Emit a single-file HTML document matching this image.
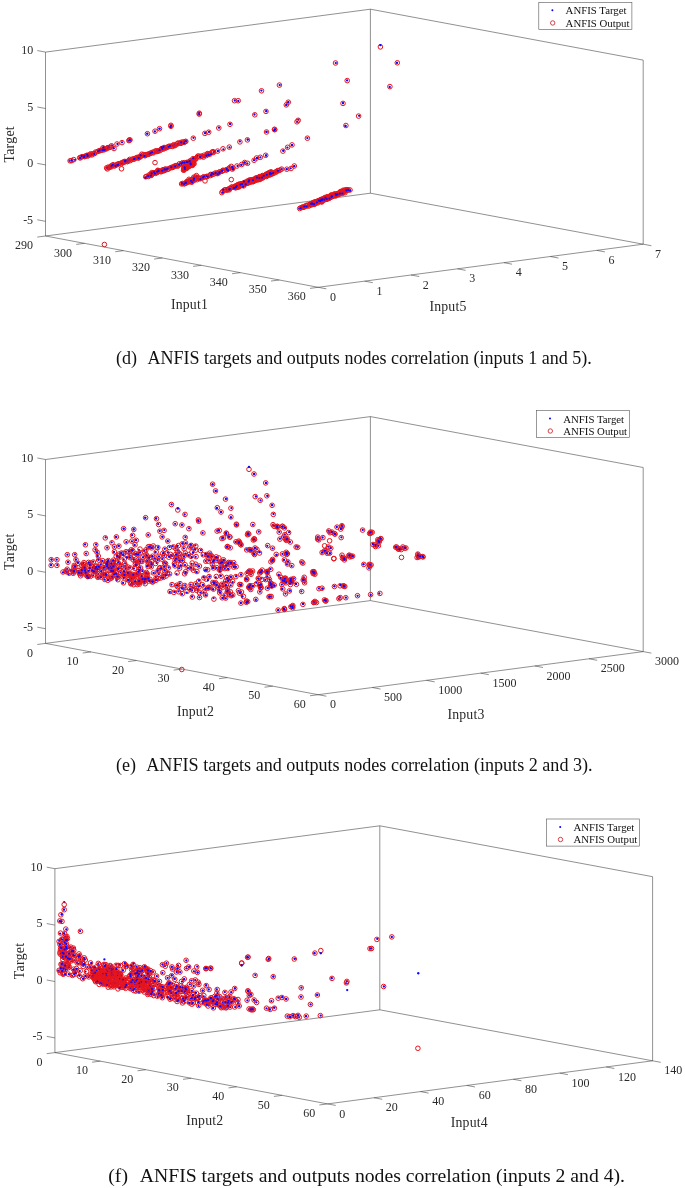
<!DOCTYPE html>
<html><head><meta charset="utf-8"><title>ANFIS targets and outputs nodes correlation</title>
<style>html,body{margin:0;padding:0;background:#fff}body{width:685px;height:1188px;overflow:hidden}svg{display:block}</style>
</head><body>
<svg width="685" height="1188" viewBox="0 0 685 1188">
<rect width="685" height="1188" fill="#fff"/>
<g stroke="#3a3a3a" stroke-width="0.56" fill="none">
<line x1="45.50" y1="52.10" x2="45.50" y2="236.00"/>
<line x1="45.50" y1="52.10" x2="370.40" y2="9.20"/>
<line x1="370.40" y1="9.20" x2="370.40" y2="193.20"/>
<line x1="370.40" y1="9.20" x2="643.20" y2="60.10"/>
<line x1="643.20" y1="60.10" x2="643.20" y2="244.20"/>
<line x1="45.50" y1="236.00" x2="370.40" y2="193.20"/>
<line x1="370.40" y1="193.20" x2="643.20" y2="244.20"/>
<line x1="45.50" y1="236.00" x2="318.20" y2="287.30"/>
<line x1="318.20" y1="287.30" x2="643.20" y2="244.20"/>
<line x1="45.50" y1="52.10" x2="37.34" y2="50.57"/>
<line x1="45.50" y1="108.50" x2="37.34" y2="106.97"/>
<line x1="45.50" y1="164.90" x2="37.34" y2="163.37"/>
<line x1="45.50" y1="221.30" x2="37.34" y2="219.77"/>
<line x1="45.50" y1="236.00" x2="37.27" y2="237.08"/>
<line x1="84.46" y1="243.33" x2="76.23" y2="244.41"/>
<line x1="123.41" y1="250.66" x2="115.19" y2="251.74"/>
<line x1="162.37" y1="257.99" x2="154.14" y2="259.07"/>
<line x1="201.33" y1="265.31" x2="193.10" y2="266.40"/>
<line x1="240.29" y1="272.64" x2="232.06" y2="273.73"/>
<line x1="279.24" y1="279.97" x2="271.01" y2="281.06"/>
<line x1="318.20" y1="287.30" x2="309.97" y2="288.38"/>
<line x1="318.20" y1="287.30" x2="326.36" y2="288.83"/>
<line x1="364.63" y1="281.14" x2="372.79" y2="282.68"/>
<line x1="411.06" y1="274.99" x2="419.21" y2="276.52"/>
<line x1="457.49" y1="268.83" x2="465.64" y2="270.36"/>
<line x1="503.91" y1="262.67" x2="512.07" y2="264.21"/>
<line x1="550.34" y1="256.51" x2="558.50" y2="258.05"/>
<line x1="596.77" y1="250.36" x2="604.93" y2="251.89"/>
<line x1="643.20" y1="244.20" x2="651.36" y2="245.73"/>
</g>
<g font-family="'Liberation Serif', serif" font-size="12" fill="#2a2a2a">
<text x="33.14" y="54.47" text-anchor="end">10</text>
<text x="33.14" y="110.87" text-anchor="end">5</text>
<text x="33.14" y="167.27" text-anchor="end">0</text>
<text x="33.14" y="223.67" text-anchor="end">-5</text>
<text x="33.07" y="249.18" text-anchor="end">290</text>
<text x="72.03" y="256.51" text-anchor="end">300</text>
<text x="110.99" y="263.84" text-anchor="end">310</text>
<text x="149.94" y="271.17" text-anchor="end">320</text>
<text x="188.90" y="278.50" text-anchor="end">330</text>
<text x="227.86" y="285.83" text-anchor="end">340</text>
<text x="266.81" y="293.16" text-anchor="end">350</text>
<text x="305.77" y="300.48" text-anchor="end">360</text>
<text x="329.96" y="300.93" text-anchor="start">0</text>
<text x="376.39" y="294.78" text-anchor="start">1</text>
<text x="422.81" y="288.62" text-anchor="start">2</text>
<text x="469.24" y="282.46" text-anchor="start">3</text>
<text x="515.67" y="276.31" text-anchor="start">4</text>
<text x="562.10" y="270.15" text-anchor="start">5</text>
<text x="608.53" y="263.99" text-anchor="start">6</text>
<text x="654.96" y="257.83" text-anchor="start">7</text>
<text x="189.50" y="308.70" text-anchor="middle" font-size="13.8" letter-spacing="0.15">Input1</text>
<text x="448.00" y="311.20" text-anchor="middle" font-size="13.8" letter-spacing="0.15">Input5</text>
<text transform="translate(14.40,144.30) rotate(-90)" text-anchor="middle" font-size="13.8" letter-spacing="0.3">Target</text>
</g>
<rect x="538.80" y="2.45" width="93.1" height="27.1" fill="#fff" stroke="#555" stroke-width="0.6"/>
<circle cx="552.40" cy="10.35" r="1.0" fill="#0000ff"/>
<circle cx="552.70" cy="22.95" r="2.2" fill="none" stroke="#c8242b" stroke-width="0.85"/>
<g font-family="'Liberation Serif', serif" font-size="10.8" fill="#111">
<text x="565.60" y="14.45">ANFIS Target</text>
<text x="565.60" y="26.75">ANFIS Output</text>
</g>
<g fill="#0a0aff">
<circle cx="69.5" cy="161.0" r="1.15"/>
<circle cx="71.7" cy="160.4" r="1.15"/>
<circle cx="75.1" cy="159.9" r="1.15"/>
<circle cx="80.3" cy="157.8" r="1.15"/>
<circle cx="80.0" cy="157.9" r="1.15"/>
<circle cx="81.7" cy="156.1" r="1.15"/>
<circle cx="84.4" cy="156.0" r="1.15"/>
<circle cx="84.0" cy="157.2" r="1.15"/>
<circle cx="86.8" cy="156.6" r="1.15"/>
<circle cx="87.2" cy="154.5" r="1.15"/>
<circle cx="87.7" cy="155.9" r="1.15"/>
<circle cx="90.0" cy="155.5" r="1.15"/>
<circle cx="90.5" cy="153.6" r="1.15"/>
<circle cx="92.0" cy="154.5" r="1.15"/>
<circle cx="92.7" cy="153.6" r="1.15"/>
<circle cx="94.3" cy="153.9" r="1.15"/>
<circle cx="95.1" cy="151.8" r="1.15"/>
<circle cx="97.9" cy="151.3" r="1.15"/>
<circle cx="99.6" cy="151.5" r="1.15"/>
<circle cx="99.6" cy="150.3" r="1.15"/>
<circle cx="100.7" cy="150.1" r="1.15"/>
<circle cx="102.5" cy="149.9" r="1.15"/>
<circle cx="103.8" cy="149.9" r="1.15"/>
<circle cx="104.7" cy="149.8" r="1.15"/>
<circle cx="107.6" cy="148.0" r="1.15"/>
<circle cx="107.8" cy="147.9" r="1.15"/>
<circle cx="108.8" cy="147.1" r="1.15"/>
<circle cx="109.2" cy="147.0" r="1.15"/>
<circle cx="111.9" cy="145.5" r="1.15"/>
<circle cx="103.4" cy="147.5" r="1.15"/>
<circle cx="108.2" cy="147.4" r="1.15"/>
<circle cx="113.7" cy="148.3" r="1.15"/>
<circle cx="117.5" cy="144.0" r="1.15"/>
<circle cx="122.0" cy="142.3" r="1.15"/>
<circle cx="129.7" cy="140.2" r="1.15"/>
<circle cx="128.7" cy="140.6" r="1.15"/>
<circle cx="107.1" cy="167.9" r="1.15"/>
<circle cx="107.1" cy="168.5" r="1.15"/>
<circle cx="107.4" cy="167.5" r="1.15"/>
<circle cx="109.6" cy="167.6" r="1.15"/>
<circle cx="111.6" cy="165.7" r="1.15"/>
<circle cx="111.0" cy="167.1" r="1.15"/>
<circle cx="112.8" cy="164.7" r="1.15"/>
<circle cx="114.3" cy="165.5" r="1.15"/>
<circle cx="115.6" cy="166.0" r="1.15"/>
<circle cx="115.3" cy="165.4" r="1.15"/>
<circle cx="118.0" cy="164.7" r="1.15"/>
<circle cx="117.4" cy="164.8" r="1.15"/>
<circle cx="119.1" cy="163.1" r="1.15"/>
<circle cx="121.3" cy="163.6" r="1.15"/>
<circle cx="120.8" cy="162.3" r="1.15"/>
<circle cx="122.8" cy="163.4" r="1.15"/>
<circle cx="124.8" cy="161.0" r="1.15"/>
<circle cx="125.6" cy="160.9" r="1.15"/>
<circle cx="125.0" cy="161.4" r="1.15"/>
<circle cx="127.8" cy="161.9" r="1.15"/>
<circle cx="127.5" cy="160.6" r="1.15"/>
<circle cx="129.0" cy="160.6" r="1.15"/>
<circle cx="128.8" cy="159.3" r="1.15"/>
<circle cx="130.8" cy="160.3" r="1.15"/>
<circle cx="132.5" cy="159.7" r="1.15"/>
<circle cx="133.6" cy="159.2" r="1.15"/>
<circle cx="134.5" cy="158.9" r="1.15"/>
<circle cx="135.8" cy="158.0" r="1.15"/>
<circle cx="136.9" cy="157.7" r="1.15"/>
<circle cx="138.7" cy="158.1" r="1.15"/>
<circle cx="138.5" cy="157.4" r="1.15"/>
<circle cx="139.3" cy="157.5" r="1.15"/>
<circle cx="140.5" cy="157.1" r="1.15"/>
<circle cx="140.7" cy="155.2" r="1.15"/>
<circle cx="143.2" cy="155.0" r="1.15"/>
<circle cx="144.5" cy="155.7" r="1.15"/>
<circle cx="144.5" cy="156.1" r="1.15"/>
<circle cx="146.3" cy="155.3" r="1.15"/>
<circle cx="148.0" cy="154.0" r="1.15"/>
<circle cx="148.7" cy="154.3" r="1.15"/>
<circle cx="149.8" cy="154.7" r="1.15"/>
<circle cx="151.5" cy="153.0" r="1.15"/>
<circle cx="150.4" cy="153.3" r="1.15"/>
<circle cx="152.1" cy="152.3" r="1.15"/>
<circle cx="154.6" cy="152.9" r="1.15"/>
<circle cx="154.7" cy="151.5" r="1.15"/>
<circle cx="157.1" cy="150.4" r="1.15"/>
<circle cx="157.3" cy="151.0" r="1.15"/>
<circle cx="158.3" cy="151.2" r="1.15"/>
<circle cx="158.0" cy="150.8" r="1.15"/>
<circle cx="159.5" cy="150.3" r="1.15"/>
<circle cx="161.6" cy="147.3" r="1.15"/>
<circle cx="162.3" cy="148.8" r="1.15"/>
<circle cx="163.9" cy="148.8" r="1.15"/>
<circle cx="163.5" cy="146.9" r="1.15"/>
<circle cx="165.9" cy="147.8" r="1.15"/>
<circle cx="167.0" cy="148.3" r="1.15"/>
<circle cx="167.3" cy="147.8" r="1.15"/>
<circle cx="168.8" cy="146.7" r="1.15"/>
<circle cx="170.1" cy="145.7" r="1.15"/>
<circle cx="172.0" cy="145.7" r="1.15"/>
<circle cx="173.2" cy="146.1" r="1.15"/>
<circle cx="174.2" cy="145.2" r="1.15"/>
<circle cx="174.5" cy="145.9" r="1.15"/>
<circle cx="174.4" cy="146.0" r="1.15"/>
<circle cx="177.3" cy="144.3" r="1.15"/>
<circle cx="177.4" cy="144.4" r="1.15"/>
<circle cx="178.4" cy="143.4" r="1.15"/>
<circle cx="180.4" cy="143.3" r="1.15"/>
<circle cx="181.2" cy="143.5" r="1.15"/>
<circle cx="181.2" cy="142.3" r="1.15"/>
<circle cx="183.7" cy="142.6" r="1.15"/>
<circle cx="184.1" cy="143.3" r="1.15"/>
<circle cx="184.5" cy="141.2" r="1.15"/>
<circle cx="185.9" cy="141.2" r="1.15"/>
<circle cx="145.4" cy="177.7" r="1.15"/>
<circle cx="146.6" cy="177.0" r="1.15"/>
<circle cx="148.2" cy="176.0" r="1.15"/>
<circle cx="150.2" cy="174.5" r="1.15"/>
<circle cx="150.0" cy="176.2" r="1.15"/>
<circle cx="151.0" cy="175.6" r="1.15"/>
<circle cx="151.2" cy="173.7" r="1.15"/>
<circle cx="153.8" cy="172.9" r="1.15"/>
<circle cx="154.1" cy="172.0" r="1.15"/>
<circle cx="157.2" cy="173.1" r="1.15"/>
<circle cx="157.0" cy="171.8" r="1.15"/>
<circle cx="158.5" cy="171.1" r="1.15"/>
<circle cx="159.5" cy="170.7" r="1.15"/>
<circle cx="160.5" cy="170.9" r="1.15"/>
<circle cx="162.7" cy="169.3" r="1.15"/>
<circle cx="163.9" cy="171.3" r="1.15"/>
<circle cx="164.0" cy="170.7" r="1.15"/>
<circle cx="164.5" cy="169.4" r="1.15"/>
<circle cx="166.0" cy="169.5" r="1.15"/>
<circle cx="167.4" cy="168.7" r="1.15"/>
<circle cx="168.7" cy="168.5" r="1.15"/>
<circle cx="171.2" cy="167.2" r="1.15"/>
<circle cx="171.8" cy="167.5" r="1.15"/>
<circle cx="172.2" cy="167.4" r="1.15"/>
<circle cx="173.3" cy="166.8" r="1.15"/>
<circle cx="175.1" cy="166.4" r="1.15"/>
<circle cx="176.3" cy="165.6" r="1.15"/>
<circle cx="177.1" cy="164.7" r="1.15"/>
<circle cx="178.2" cy="166.5" r="1.15"/>
<circle cx="179.1" cy="164.6" r="1.15"/>
<circle cx="181.6" cy="165.2" r="1.15"/>
<circle cx="181.3" cy="163.6" r="1.15"/>
<circle cx="182.6" cy="162.6" r="1.15"/>
<circle cx="184.4" cy="162.6" r="1.15"/>
<circle cx="185.3" cy="163.2" r="1.15"/>
<circle cx="186.6" cy="163.2" r="1.15"/>
<circle cx="186.8" cy="161.9" r="1.15"/>
<circle cx="187.7" cy="162.1" r="1.15"/>
<circle cx="190.8" cy="161.3" r="1.15"/>
<circle cx="189.8" cy="161.1" r="1.15"/>
<circle cx="192.8" cy="161.1" r="1.15"/>
<circle cx="193.1" cy="158.3" r="1.15"/>
<circle cx="194.1" cy="157.9" r="1.15"/>
<circle cx="195.4" cy="159.0" r="1.15"/>
<circle cx="196.1" cy="158.1" r="1.15"/>
<circle cx="197.0" cy="156.6" r="1.15"/>
<circle cx="197.5" cy="155.8" r="1.15"/>
<circle cx="200.2" cy="157.1" r="1.15"/>
<circle cx="201.6" cy="155.9" r="1.15"/>
<circle cx="202.6" cy="156.0" r="1.15"/>
<circle cx="204.4" cy="157.0" r="1.15"/>
<circle cx="204.6" cy="154.9" r="1.15"/>
<circle cx="206.4" cy="155.6" r="1.15"/>
<circle cx="207.6" cy="154.7" r="1.15"/>
<circle cx="207.8" cy="153.6" r="1.15"/>
<circle cx="208.8" cy="154.9" r="1.15"/>
<circle cx="211.0" cy="154.2" r="1.15"/>
<circle cx="211.2" cy="152.6" r="1.15"/>
<circle cx="213.9" cy="151.6" r="1.15"/>
<circle cx="213.9" cy="152.0" r="1.15"/>
<circle cx="151.8" cy="174.0" r="1.15"/>
<circle cx="151.7" cy="173.2" r="1.15"/>
<circle cx="152.5" cy="173.8" r="1.15"/>
<circle cx="155.0" cy="173.6" r="1.15"/>
<circle cx="158.4" cy="171.1" r="1.15"/>
<circle cx="158.0" cy="170.2" r="1.15"/>
<circle cx="158.4" cy="170.6" r="1.15"/>
<circle cx="162.2" cy="170.8" r="1.15"/>
<circle cx="163.3" cy="169.6" r="1.15"/>
<circle cx="165.6" cy="169.3" r="1.15"/>
<circle cx="183.2" cy="170.6" r="1.15"/>
<circle cx="183.6" cy="168.0" r="1.15"/>
<circle cx="183.7" cy="170.2" r="1.15"/>
<circle cx="184.9" cy="169.0" r="1.15"/>
<circle cx="183.9" cy="169.8" r="1.15"/>
<circle cx="184.0" cy="166.0" r="1.15"/>
<circle cx="184.0" cy="169.6" r="1.15"/>
<circle cx="184.7" cy="167.4" r="1.15"/>
<circle cx="185.1" cy="168.0" r="1.15"/>
<circle cx="185.1" cy="168.0" r="1.15"/>
<circle cx="186.2" cy="166.9" r="1.15"/>
<circle cx="185.8" cy="167.9" r="1.15"/>
<circle cx="186.0" cy="166.2" r="1.15"/>
<circle cx="187.2" cy="168.9" r="1.15"/>
<circle cx="186.8" cy="164.6" r="1.15"/>
<circle cx="186.9" cy="166.2" r="1.15"/>
<circle cx="187.3" cy="166.1" r="1.15"/>
<circle cx="187.0" cy="166.5" r="1.15"/>
<circle cx="186.7" cy="166.0" r="1.15"/>
<circle cx="187.0" cy="167.4" r="1.15"/>
<circle cx="188.0" cy="165.8" r="1.15"/>
<circle cx="188.0" cy="165.7" r="1.15"/>
<circle cx="189.3" cy="164.5" r="1.15"/>
<circle cx="188.8" cy="166.4" r="1.15"/>
<circle cx="188.9" cy="166.6" r="1.15"/>
<circle cx="189.2" cy="165.3" r="1.15"/>
<circle cx="189.2" cy="166.1" r="1.15"/>
<circle cx="189.4" cy="166.2" r="1.15"/>
<circle cx="188.7" cy="164.0" r="1.15"/>
<circle cx="190.1" cy="164.5" r="1.15"/>
<circle cx="190.1" cy="165.6" r="1.15"/>
<circle cx="190.5" cy="163.3" r="1.15"/>
<circle cx="191.0" cy="165.1" r="1.15"/>
<circle cx="191.8" cy="164.2" r="1.15"/>
<circle cx="190.8" cy="164.5" r="1.15"/>
<circle cx="191.8" cy="164.2" r="1.15"/>
<circle cx="192.4" cy="164.5" r="1.15"/>
<circle cx="192.1" cy="164.4" r="1.15"/>
<circle cx="192.3" cy="165.1" r="1.15"/>
<circle cx="191.7" cy="163.4" r="1.15"/>
<circle cx="192.8" cy="164.2" r="1.15"/>
<circle cx="193.4" cy="161.6" r="1.15"/>
<circle cx="194.0" cy="161.7" r="1.15"/>
<circle cx="194.0" cy="163.8" r="1.15"/>
<circle cx="193.7" cy="163.5" r="1.15"/>
<circle cx="182.0" cy="184.2" r="1.15"/>
<circle cx="181.9" cy="183.2" r="1.15"/>
<circle cx="184.4" cy="183.6" r="1.15"/>
<circle cx="185.9" cy="183.1" r="1.15"/>
<circle cx="187.5" cy="181.8" r="1.15"/>
<circle cx="188.1" cy="181.3" r="1.15"/>
<circle cx="189.6" cy="181.3" r="1.15"/>
<circle cx="191.6" cy="182.0" r="1.15"/>
<circle cx="192.1" cy="182.4" r="1.15"/>
<circle cx="193.7" cy="180.1" r="1.15"/>
<circle cx="194.6" cy="178.8" r="1.15"/>
<circle cx="197.4" cy="179.4" r="1.15"/>
<circle cx="198.0" cy="177.3" r="1.15"/>
<circle cx="198.8" cy="179.2" r="1.15"/>
<circle cx="200.5" cy="179.3" r="1.15"/>
<circle cx="201.3" cy="177.8" r="1.15"/>
<circle cx="204.0" cy="176.5" r="1.15"/>
<circle cx="203.0" cy="177.4" r="1.15"/>
<circle cx="206.0" cy="175.9" r="1.15"/>
<circle cx="206.1" cy="175.8" r="1.15"/>
<circle cx="207.6" cy="176.7" r="1.15"/>
<circle cx="211.1" cy="175.1" r="1.15"/>
<circle cx="210.8" cy="175.5" r="1.15"/>
<circle cx="211.9" cy="173.0" r="1.15"/>
<circle cx="213.3" cy="174.1" r="1.15"/>
<circle cx="215.0" cy="173.3" r="1.15"/>
<circle cx="215.7" cy="173.1" r="1.15"/>
<circle cx="217.7" cy="174.2" r="1.15"/>
<circle cx="219.5" cy="172.9" r="1.15"/>
<circle cx="219.6" cy="172.1" r="1.15"/>
<circle cx="222.2" cy="171.9" r="1.15"/>
<circle cx="221.9" cy="170.9" r="1.15"/>
<circle cx="222.9" cy="170.1" r="1.15"/>
<circle cx="226.7" cy="169.1" r="1.15"/>
<circle cx="226.7" cy="170.2" r="1.15"/>
<circle cx="228.1" cy="170.4" r="1.15"/>
<circle cx="229.6" cy="167.2" r="1.15"/>
<circle cx="232.2" cy="167.1" r="1.15"/>
<circle cx="232.9" cy="169.2" r="1.15"/>
<circle cx="233.1" cy="167.7" r="1.15"/>
<circle cx="184.1" cy="184.1" r="1.15"/>
<circle cx="185.5" cy="182.6" r="1.15"/>
<circle cx="186.7" cy="181.6" r="1.15"/>
<circle cx="188.0" cy="181.5" r="1.15"/>
<circle cx="189.6" cy="179.3" r="1.15"/>
<circle cx="189.5" cy="180.9" r="1.15"/>
<circle cx="191.0" cy="180.8" r="1.15"/>
<circle cx="192.4" cy="180.5" r="1.15"/>
<circle cx="193.6" cy="177.0" r="1.15"/>
<circle cx="194.0" cy="178.6" r="1.15"/>
<circle cx="196.4" cy="177.0" r="1.15"/>
<circle cx="196.7" cy="176.1" r="1.15"/>
<circle cx="222.3" cy="192.5" r="1.15"/>
<circle cx="222.9" cy="192.4" r="1.15"/>
<circle cx="223.3" cy="189.6" r="1.15"/>
<circle cx="225.9" cy="189.3" r="1.15"/>
<circle cx="227.0" cy="190.1" r="1.15"/>
<circle cx="228.2" cy="188.5" r="1.15"/>
<circle cx="229.8" cy="188.8" r="1.15"/>
<circle cx="229.4" cy="189.6" r="1.15"/>
<circle cx="231.7" cy="187.4" r="1.15"/>
<circle cx="231.8" cy="186.6" r="1.15"/>
<circle cx="233.8" cy="187.9" r="1.15"/>
<circle cx="235.7" cy="186.9" r="1.15"/>
<circle cx="236.0" cy="187.1" r="1.15"/>
<circle cx="237.7" cy="185.0" r="1.15"/>
<circle cx="238.3" cy="184.6" r="1.15"/>
<circle cx="240.1" cy="184.4" r="1.15"/>
<circle cx="241.5" cy="183.6" r="1.15"/>
<circle cx="242.1" cy="184.1" r="1.15"/>
<circle cx="243.8" cy="184.1" r="1.15"/>
<circle cx="245.7" cy="184.4" r="1.15"/>
<circle cx="246.0" cy="183.1" r="1.15"/>
<circle cx="246.5" cy="182.6" r="1.15"/>
<circle cx="248.4" cy="182.7" r="1.15"/>
<circle cx="249.1" cy="182.5" r="1.15"/>
<circle cx="251.7" cy="180.9" r="1.15"/>
<circle cx="252.0" cy="180.4" r="1.15"/>
<circle cx="253.0" cy="180.2" r="1.15"/>
<circle cx="254.6" cy="179.0" r="1.15"/>
<circle cx="255.7" cy="178.0" r="1.15"/>
<circle cx="256.9" cy="177.6" r="1.15"/>
<circle cx="258.2" cy="177.6" r="1.15"/>
<circle cx="259.3" cy="178.0" r="1.15"/>
<circle cx="261.3" cy="177.8" r="1.15"/>
<circle cx="262.1" cy="177.6" r="1.15"/>
<circle cx="262.6" cy="175.3" r="1.15"/>
<circle cx="264.7" cy="175.1" r="1.15"/>
<circle cx="265.3" cy="175.8" r="1.15"/>
<circle cx="266.8" cy="174.8" r="1.15"/>
<circle cx="267.0" cy="174.4" r="1.15"/>
<circle cx="269.8" cy="173.2" r="1.15"/>
<circle cx="270.1" cy="174.2" r="1.15"/>
<circle cx="271.5" cy="173.0" r="1.15"/>
<circle cx="273.1" cy="173.1" r="1.15"/>
<circle cx="274.0" cy="173.2" r="1.15"/>
<circle cx="276.6" cy="171.4" r="1.15"/>
<circle cx="275.8" cy="171.9" r="1.15"/>
<circle cx="278.0" cy="170.8" r="1.15"/>
<circle cx="278.4" cy="171.0" r="1.15"/>
<circle cx="279.9" cy="170.3" r="1.15"/>
<circle cx="281.6" cy="169.0" r="1.15"/>
<circle cx="235.8" cy="187.1" r="1.15"/>
<circle cx="234.5" cy="187.7" r="1.15"/>
<circle cx="234.8" cy="188.1" r="1.15"/>
<circle cx="234.6" cy="188.0" r="1.15"/>
<circle cx="235.4" cy="185.9" r="1.15"/>
<circle cx="236.5" cy="186.4" r="1.15"/>
<circle cx="236.6" cy="186.0" r="1.15"/>
<circle cx="236.4" cy="187.2" r="1.15"/>
<circle cx="236.7" cy="185.8" r="1.15"/>
<circle cx="236.4" cy="187.3" r="1.15"/>
<circle cx="236.2" cy="186.1" r="1.15"/>
<circle cx="237.5" cy="187.6" r="1.15"/>
<circle cx="238.2" cy="185.9" r="1.15"/>
<circle cx="239.0" cy="185.0" r="1.15"/>
<circle cx="239.0" cy="187.4" r="1.15"/>
<circle cx="238.2" cy="184.6" r="1.15"/>
<circle cx="240.2" cy="184.5" r="1.15"/>
<circle cx="239.5" cy="185.8" r="1.15"/>
<circle cx="239.7" cy="185.6" r="1.15"/>
<circle cx="240.5" cy="184.6" r="1.15"/>
<circle cx="240.5" cy="186.0" r="1.15"/>
<circle cx="239.7" cy="185.5" r="1.15"/>
<circle cx="240.8" cy="183.7" r="1.15"/>
<circle cx="242.1" cy="184.2" r="1.15"/>
<circle cx="241.3" cy="184.2" r="1.15"/>
<circle cx="241.5" cy="184.7" r="1.15"/>
<circle cx="243.8" cy="184.4" r="1.15"/>
<circle cx="243.2" cy="186.8" r="1.15"/>
<circle cx="241.9" cy="183.6" r="1.15"/>
<circle cx="244.1" cy="183.3" r="1.15"/>
<circle cx="243.6" cy="185.3" r="1.15"/>
<circle cx="243.1" cy="183.7" r="1.15"/>
<circle cx="243.7" cy="183.2" r="1.15"/>
<circle cx="245.5" cy="182.7" r="1.15"/>
<circle cx="243.9" cy="181.6" r="1.15"/>
<circle cx="246.1" cy="183.9" r="1.15"/>
<circle cx="245.9" cy="182.9" r="1.15"/>
<circle cx="246.8" cy="183.3" r="1.15"/>
<circle cx="245.9" cy="183.3" r="1.15"/>
<circle cx="245.6" cy="183.0" r="1.15"/>
<circle cx="247.1" cy="182.7" r="1.15"/>
<circle cx="246.9" cy="182.7" r="1.15"/>
<circle cx="247.6" cy="182.5" r="1.15"/>
<circle cx="247.3" cy="181.0" r="1.15"/>
<circle cx="248.6" cy="183.0" r="1.15"/>
<circle cx="249.5" cy="182.6" r="1.15"/>
<circle cx="248.6" cy="181.9" r="1.15"/>
<circle cx="248.6" cy="181.7" r="1.15"/>
<circle cx="250.6" cy="181.2" r="1.15"/>
<circle cx="249.6" cy="180.3" r="1.15"/>
<circle cx="249.3" cy="178.8" r="1.15"/>
<circle cx="250.7" cy="181.7" r="1.15"/>
<circle cx="251.0" cy="181.7" r="1.15"/>
<circle cx="249.1" cy="180.4" r="1.15"/>
<circle cx="251.6" cy="180.2" r="1.15"/>
<circle cx="251.0" cy="182.7" r="1.15"/>
<circle cx="250.9" cy="179.9" r="1.15"/>
<circle cx="252.9" cy="180.9" r="1.15"/>
<circle cx="252.7" cy="180.1" r="1.15"/>
<circle cx="252.6" cy="179.8" r="1.15"/>
<circle cx="252.6" cy="181.9" r="1.15"/>
<circle cx="252.4" cy="181.2" r="1.15"/>
<circle cx="253.5" cy="182.8" r="1.15"/>
<circle cx="254.9" cy="180.7" r="1.15"/>
<circle cx="255.2" cy="181.9" r="1.15"/>
<circle cx="253.9" cy="178.8" r="1.15"/>
<circle cx="254.7" cy="179.6" r="1.15"/>
<circle cx="254.7" cy="179.5" r="1.15"/>
<circle cx="256.5" cy="180.6" r="1.15"/>
<circle cx="256.7" cy="178.3" r="1.15"/>
<circle cx="256.4" cy="178.8" r="1.15"/>
<circle cx="256.7" cy="180.3" r="1.15"/>
<circle cx="257.9" cy="177.4" r="1.15"/>
<circle cx="257.6" cy="180.4" r="1.15"/>
<circle cx="257.3" cy="178.0" r="1.15"/>
<circle cx="257.8" cy="178.0" r="1.15"/>
<circle cx="258.0" cy="178.0" r="1.15"/>
<circle cx="260.0" cy="179.5" r="1.15"/>
<circle cx="260.0" cy="177.1" r="1.15"/>
<circle cx="259.6" cy="178.9" r="1.15"/>
<circle cx="259.2" cy="176.6" r="1.15"/>
<circle cx="259.8" cy="176.7" r="1.15"/>
<circle cx="259.1" cy="178.7" r="1.15"/>
<circle cx="260.2" cy="178.5" r="1.15"/>
<circle cx="260.1" cy="178.0" r="1.15"/>
<circle cx="261.4" cy="177.8" r="1.15"/>
<circle cx="261.0" cy="176.7" r="1.15"/>
<circle cx="261.8" cy="176.8" r="1.15"/>
<circle cx="262.9" cy="176.9" r="1.15"/>
<circle cx="262.9" cy="178.2" r="1.15"/>
<circle cx="262.1" cy="176.3" r="1.15"/>
<circle cx="263.1" cy="177.2" r="1.15"/>
<circle cx="263.5" cy="177.3" r="1.15"/>
<circle cx="263.0" cy="176.4" r="1.15"/>
<circle cx="263.8" cy="175.8" r="1.15"/>
<circle cx="264.0" cy="176.5" r="1.15"/>
<circle cx="264.6" cy="175.0" r="1.15"/>
<circle cx="265.1" cy="176.0" r="1.15"/>
<circle cx="265.6" cy="174.6" r="1.15"/>
<circle cx="264.8" cy="176.6" r="1.15"/>
<circle cx="264.8" cy="174.8" r="1.15"/>
<circle cx="267.1" cy="173.6" r="1.15"/>
<circle cx="267.0" cy="176.3" r="1.15"/>
<circle cx="266.7" cy="174.1" r="1.15"/>
<circle cx="266.3" cy="175.4" r="1.15"/>
<circle cx="267.8" cy="175.7" r="1.15"/>
<circle cx="267.2" cy="173.7" r="1.15"/>
<circle cx="267.8" cy="173.2" r="1.15"/>
<circle cx="267.8" cy="174.6" r="1.15"/>
<circle cx="268.5" cy="174.0" r="1.15"/>
<circle cx="268.1" cy="172.8" r="1.15"/>
<circle cx="269.0" cy="175.2" r="1.15"/>
<circle cx="270.0" cy="173.7" r="1.15"/>
<circle cx="269.4" cy="172.8" r="1.15"/>
<circle cx="270.5" cy="173.7" r="1.15"/>
<circle cx="271.1" cy="173.7" r="1.15"/>
<circle cx="270.2" cy="173.0" r="1.15"/>
<circle cx="271.3" cy="172.3" r="1.15"/>
<circle cx="271.5" cy="174.7" r="1.15"/>
<circle cx="271.0" cy="172.1" r="1.15"/>
<circle cx="299.2" cy="208.7" r="1.15"/>
<circle cx="300.7" cy="208.2" r="1.15"/>
<circle cx="302.1" cy="207.5" r="1.15"/>
<circle cx="302.7" cy="206.8" r="1.15"/>
<circle cx="304.4" cy="207.2" r="1.15"/>
<circle cx="304.4" cy="206.5" r="1.15"/>
<circle cx="305.6" cy="205.6" r="1.15"/>
<circle cx="306.5" cy="206.5" r="1.15"/>
<circle cx="308.3" cy="205.8" r="1.15"/>
<circle cx="308.7" cy="205.4" r="1.15"/>
<circle cx="309.4" cy="204.8" r="1.15"/>
<circle cx="310.8" cy="203.7" r="1.15"/>
<circle cx="312.0" cy="203.7" r="1.15"/>
<circle cx="313.3" cy="201.6" r="1.15"/>
<circle cx="314.5" cy="202.5" r="1.15"/>
<circle cx="314.1" cy="204.1" r="1.15"/>
<circle cx="316.9" cy="202.5" r="1.15"/>
<circle cx="316.9" cy="202.8" r="1.15"/>
<circle cx="317.8" cy="200.4" r="1.15"/>
<circle cx="318.8" cy="200.6" r="1.15"/>
<circle cx="320.3" cy="201.1" r="1.15"/>
<circle cx="321.3" cy="199.6" r="1.15"/>
<circle cx="322.1" cy="200.0" r="1.15"/>
<circle cx="322.8" cy="199.3" r="1.15"/>
<circle cx="324.4" cy="199.8" r="1.15"/>
<circle cx="325.4" cy="197.7" r="1.15"/>
<circle cx="326.8" cy="199.5" r="1.15"/>
<circle cx="326.8" cy="199.0" r="1.15"/>
<circle cx="327.4" cy="197.3" r="1.15"/>
<circle cx="328.9" cy="197.6" r="1.15"/>
<circle cx="331.5" cy="196.8" r="1.15"/>
<circle cx="331.6" cy="196.7" r="1.15"/>
<circle cx="332.4" cy="195.3" r="1.15"/>
<circle cx="333.2" cy="195.9" r="1.15"/>
<circle cx="334.4" cy="193.7" r="1.15"/>
<circle cx="336.1" cy="195.0" r="1.15"/>
<circle cx="335.6" cy="194.0" r="1.15"/>
<circle cx="337.2" cy="194.5" r="1.15"/>
<circle cx="338.1" cy="194.4" r="1.15"/>
<circle cx="339.9" cy="193.6" r="1.15"/>
<circle cx="340.5" cy="192.5" r="1.15"/>
<circle cx="342.0" cy="192.0" r="1.15"/>
<circle cx="342.9" cy="192.6" r="1.15"/>
<circle cx="343.1" cy="191.7" r="1.15"/>
<circle cx="344.9" cy="190.7" r="1.15"/>
<circle cx="347.7" cy="188.8" r="1.15"/>
<circle cx="346.3" cy="190.4" r="1.15"/>
<circle cx="348.2" cy="190.4" r="1.15"/>
<circle cx="348.1" cy="189.9" r="1.15"/>
<circle cx="350.2" cy="190.6" r="1.15"/>
<circle cx="309.8" cy="205.2" r="1.15"/>
<circle cx="311.2" cy="205.6" r="1.15"/>
<circle cx="311.3" cy="204.5" r="1.15"/>
<circle cx="311.5" cy="205.2" r="1.15"/>
<circle cx="312.0" cy="204.0" r="1.15"/>
<circle cx="312.0" cy="203.4" r="1.15"/>
<circle cx="311.5" cy="203.6" r="1.15"/>
<circle cx="313.7" cy="204.3" r="1.15"/>
<circle cx="314.1" cy="204.3" r="1.15"/>
<circle cx="314.0" cy="203.0" r="1.15"/>
<circle cx="315.0" cy="202.3" r="1.15"/>
<circle cx="314.2" cy="203.0" r="1.15"/>
<circle cx="315.3" cy="203.3" r="1.15"/>
<circle cx="315.1" cy="202.2" r="1.15"/>
<circle cx="315.7" cy="202.5" r="1.15"/>
<circle cx="317.4" cy="202.8" r="1.15"/>
<circle cx="316.1" cy="202.1" r="1.15"/>
<circle cx="318.2" cy="201.8" r="1.15"/>
<circle cx="317.7" cy="202.8" r="1.15"/>
<circle cx="318.3" cy="202.4" r="1.15"/>
<circle cx="318.8" cy="201.4" r="1.15"/>
<circle cx="319.5" cy="201.1" r="1.15"/>
<circle cx="319.0" cy="200.9" r="1.15"/>
<circle cx="319.2" cy="199.5" r="1.15"/>
<circle cx="318.3" cy="200.6" r="1.15"/>
<circle cx="320.2" cy="201.3" r="1.15"/>
<circle cx="320.0" cy="200.6" r="1.15"/>
<circle cx="320.4" cy="201.7" r="1.15"/>
<circle cx="321.6" cy="201.8" r="1.15"/>
<circle cx="320.6" cy="198.7" r="1.15"/>
<circle cx="321.6" cy="199.7" r="1.15"/>
<circle cx="322.4" cy="200.2" r="1.15"/>
<circle cx="322.7" cy="199.4" r="1.15"/>
<circle cx="323.7" cy="200.2" r="1.15"/>
<circle cx="324.2" cy="199.2" r="1.15"/>
<circle cx="323.8" cy="199.8" r="1.15"/>
<circle cx="325.3" cy="198.7" r="1.15"/>
<circle cx="325.3" cy="199.4" r="1.15"/>
<circle cx="325.0" cy="199.1" r="1.15"/>
<circle cx="326.1" cy="197.8" r="1.15"/>
<circle cx="326.3" cy="198.6" r="1.15"/>
<circle cx="326.9" cy="197.2" r="1.15"/>
<circle cx="327.4" cy="197.5" r="1.15"/>
<circle cx="326.5" cy="196.5" r="1.15"/>
<circle cx="328.4" cy="199.0" r="1.15"/>
<circle cx="327.6" cy="198.6" r="1.15"/>
<circle cx="328.5" cy="197.3" r="1.15"/>
<circle cx="328.1" cy="198.1" r="1.15"/>
<circle cx="329.5" cy="198.6" r="1.15"/>
<circle cx="329.8" cy="197.8" r="1.15"/>
<circle cx="330.8" cy="195.8" r="1.15"/>
<circle cx="331.1" cy="195.3" r="1.15"/>
<circle cx="331.3" cy="195.6" r="1.15"/>
<circle cx="331.1" cy="194.9" r="1.15"/>
<circle cx="331.2" cy="196.0" r="1.15"/>
<circle cx="331.9" cy="196.4" r="1.15"/>
<circle cx="331.7" cy="196.5" r="1.15"/>
<circle cx="332.1" cy="195.5" r="1.15"/>
<circle cx="333.4" cy="195.3" r="1.15"/>
<circle cx="333.8" cy="196.3" r="1.15"/>
<circle cx="332.9" cy="195.6" r="1.15"/>
<circle cx="336.3" cy="194.2" r="1.15"/>
<circle cx="335.7" cy="196.3" r="1.15"/>
<circle cx="336.2" cy="193.6" r="1.15"/>
<circle cx="334.5" cy="195.8" r="1.15"/>
<circle cx="336.5" cy="194.1" r="1.15"/>
<circle cx="336.3" cy="194.4" r="1.15"/>
<circle cx="337.1" cy="194.7" r="1.15"/>
<circle cx="337.5" cy="194.4" r="1.15"/>
<circle cx="338.2" cy="194.4" r="1.15"/>
<circle cx="338.0" cy="194.2" r="1.15"/>
<circle cx="338.6" cy="192.5" r="1.15"/>
<circle cx="338.1" cy="193.2" r="1.15"/>
<circle cx="339.6" cy="193.0" r="1.15"/>
<circle cx="339.6" cy="193.0" r="1.15"/>
<circle cx="340.0" cy="191.6" r="1.15"/>
<circle cx="341.1" cy="193.2" r="1.15"/>
<circle cx="341.8" cy="191.9" r="1.15"/>
<circle cx="341.7" cy="193.1" r="1.15"/>
<circle cx="341.3" cy="192.2" r="1.15"/>
<circle cx="340.8" cy="191.5" r="1.15"/>
<circle cx="342.9" cy="191.9" r="1.15"/>
<circle cx="342.4" cy="193.5" r="1.15"/>
<circle cx="343.6" cy="190.3" r="1.15"/>
<circle cx="345.2" cy="191.8" r="1.15"/>
<circle cx="343.8" cy="190.8" r="1.15"/>
<circle cx="344.3" cy="190.3" r="1.15"/>
<circle cx="346.1" cy="192.3" r="1.15"/>
<circle cx="346.5" cy="190.2" r="1.15"/>
<circle cx="346.0" cy="190.0" r="1.15"/>
<circle cx="279.7" cy="85.1" r="1.15"/>
<circle cx="261.4" cy="90.6" r="1.15"/>
<circle cx="234.8" cy="100.5" r="1.15"/>
<circle cx="238.3" cy="101.0" r="1.15"/>
<circle cx="288.3" cy="102.2" r="1.15"/>
<circle cx="286.3" cy="105.1" r="1.15"/>
<circle cx="266.3" cy="111.2" r="1.15"/>
<circle cx="254.5" cy="114.5" r="1.15"/>
<circle cx="199.1" cy="114.2" r="1.15"/>
<circle cx="199.1" cy="112.7" r="1.15"/>
<circle cx="298.4" cy="119.7" r="1.15"/>
<circle cx="297.0" cy="121.8" r="1.15"/>
<circle cx="230.2" cy="124.0" r="1.15"/>
<circle cx="219.0" cy="127.7" r="1.15"/>
<circle cx="209.0" cy="131.9" r="1.15"/>
<circle cx="205.1" cy="133.2" r="1.15"/>
<circle cx="274.2" cy="130.3" r="1.15"/>
<circle cx="266.5" cy="131.9" r="1.15"/>
<circle cx="171.1" cy="125.5" r="1.15"/>
<circle cx="170.6" cy="126.9" r="1.15"/>
<circle cx="159.5" cy="128.7" r="1.15"/>
<circle cx="154.9" cy="131.5" r="1.15"/>
<circle cx="147.3" cy="133.7" r="1.15"/>
<circle cx="193.5" cy="137.8" r="1.15"/>
<circle cx="247.7" cy="139.6" r="1.15"/>
<circle cx="239.9" cy="141.4" r="1.15"/>
<circle cx="229.5" cy="147.4" r="1.15"/>
<circle cx="223.4" cy="149.3" r="1.15"/>
<circle cx="217.8" cy="151.1" r="1.15"/>
<circle cx="292.0" cy="145.1" r="1.15"/>
<circle cx="287.4" cy="147.6" r="1.15"/>
<circle cx="283.3" cy="150.7" r="1.15"/>
<circle cx="266.0" cy="155.5" r="1.15"/>
<circle cx="260.4" cy="157.3" r="1.15"/>
<circle cx="257.0" cy="158.0" r="1.15"/>
<circle cx="130.1" cy="139.6" r="1.15"/>
<circle cx="307.4" cy="138.1" r="1.15"/>
<circle cx="254.0" cy="160.2" r="1.15"/>
<circle cx="247.4" cy="163.7" r="1.15"/>
<circle cx="244.5" cy="162.5" r="1.15"/>
<circle cx="241.4" cy="164.8" r="1.15"/>
<circle cx="237.6" cy="166.0" r="1.15"/>
<circle cx="286.7" cy="169.2" r="1.15"/>
<circle cx="290.7" cy="168.3" r="1.15"/>
<circle cx="294.3" cy="166.2" r="1.15"/>
<circle cx="397.0" cy="62.8" r="1.15"/>
<circle cx="389.7" cy="87.0" r="1.15"/>
<circle cx="335.8" cy="63.1" r="1.15"/>
<circle cx="347.1" cy="80.4" r="1.15"/>
<circle cx="343.0" cy="103.2" r="1.15"/>
<circle cx="359.1" cy="115.8" r="1.15"/>
<circle cx="345.5" cy="125.9" r="1.15"/>
<circle cx="275.0" cy="129.4" r="1.15"/>
<circle cx="380.4" cy="45.1" r="1.15"/>
</g>
<g fill="none" stroke="#e8141c" stroke-width="1.0">
<circle cx="70.1" cy="160.8" r="2.3"/>
<circle cx="71.7" cy="160.6" r="2.3"/>
<circle cx="73.8" cy="159.6" r="2.3"/>
<circle cx="79.7" cy="157.7" r="2.3"/>
<circle cx="80.5" cy="157.8" r="2.3"/>
<circle cx="82.0" cy="156.6" r="2.3"/>
<circle cx="84.6" cy="156.4" r="2.3"/>
<circle cx="84.8" cy="156.6" r="2.3"/>
<circle cx="86.6" cy="155.5" r="2.3"/>
<circle cx="87.8" cy="155.2" r="2.3"/>
<circle cx="87.7" cy="156.1" r="2.3"/>
<circle cx="89.7" cy="154.9" r="2.3"/>
<circle cx="90.7" cy="153.8" r="2.3"/>
<circle cx="91.9" cy="154.9" r="2.3"/>
<circle cx="92.8" cy="153.8" r="2.3"/>
<circle cx="94.5" cy="153.6" r="2.3"/>
<circle cx="95.5" cy="152.1" r="2.3"/>
<circle cx="97.7" cy="151.5" r="2.3"/>
<circle cx="99.3" cy="150.7" r="2.3"/>
<circle cx="100.0" cy="150.6" r="2.3"/>
<circle cx="100.8" cy="150.4" r="2.3"/>
<circle cx="102.6" cy="150.1" r="2.3"/>
<circle cx="104.0" cy="148.8" r="2.3"/>
<circle cx="104.4" cy="149.7" r="2.3"/>
<circle cx="106.5" cy="148.8" r="2.3"/>
<circle cx="107.7" cy="147.8" r="2.3"/>
<circle cx="109.1" cy="147.5" r="2.3"/>
<circle cx="110.0" cy="147.3" r="2.3"/>
<circle cx="111.5" cy="145.8" r="2.3"/>
<circle cx="103.0" cy="147.8" r="2.3"/>
<circle cx="108.0" cy="147.6" r="2.3"/>
<circle cx="114.0" cy="148.5" r="2.3"/>
<circle cx="117.0" cy="144.0" r="2.3"/>
<circle cx="122.0" cy="142.6" r="2.3"/>
<circle cx="129.3" cy="140.0" r="2.3"/>
<circle cx="128.9" cy="140.6" r="2.3"/>
<circle cx="106.6" cy="167.9" r="2.3"/>
<circle cx="107.4" cy="168.9" r="2.3"/>
<circle cx="108.2" cy="167.1" r="2.3"/>
<circle cx="109.7" cy="167.4" r="2.3"/>
<circle cx="111.3" cy="165.8" r="2.3"/>
<circle cx="111.6" cy="166.7" r="2.3"/>
<circle cx="113.0" cy="164.7" r="2.3"/>
<circle cx="114.7" cy="165.7" r="2.3"/>
<circle cx="114.6" cy="165.8" r="2.3"/>
<circle cx="116.0" cy="165.2" r="2.3"/>
<circle cx="117.8" cy="164.2" r="2.3"/>
<circle cx="117.2" cy="164.4" r="2.3"/>
<circle cx="119.1" cy="163.6" r="2.3"/>
<circle cx="121.3" cy="163.9" r="2.3"/>
<circle cx="121.8" cy="162.7" r="2.3"/>
<circle cx="122.6" cy="162.7" r="2.3"/>
<circle cx="123.7" cy="161.9" r="2.3"/>
<circle cx="124.7" cy="161.4" r="2.3"/>
<circle cx="124.9" cy="162.0" r="2.3"/>
<circle cx="127.6" cy="161.5" r="2.3"/>
<circle cx="127.7" cy="161.5" r="2.3"/>
<circle cx="128.7" cy="160.4" r="2.3"/>
<circle cx="129.7" cy="159.4" r="2.3"/>
<circle cx="130.5" cy="160.5" r="2.3"/>
<circle cx="132.3" cy="159.1" r="2.3"/>
<circle cx="134.1" cy="159.2" r="2.3"/>
<circle cx="134.0" cy="158.7" r="2.3"/>
<circle cx="136.1" cy="157.9" r="2.3"/>
<circle cx="137.1" cy="157.4" r="2.3"/>
<circle cx="138.3" cy="158.1" r="2.3"/>
<circle cx="138.7" cy="157.6" r="2.3"/>
<circle cx="139.1" cy="156.9" r="2.3"/>
<circle cx="140.3" cy="156.9" r="2.3"/>
<circle cx="141.5" cy="155.9" r="2.3"/>
<circle cx="143.4" cy="154.6" r="2.3"/>
<circle cx="144.3" cy="155.5" r="2.3"/>
<circle cx="145.2" cy="155.7" r="2.3"/>
<circle cx="146.0" cy="154.6" r="2.3"/>
<circle cx="148.0" cy="154.5" r="2.3"/>
<circle cx="148.1" cy="154.1" r="2.3"/>
<circle cx="149.6" cy="153.8" r="2.3"/>
<circle cx="151.0" cy="153.1" r="2.3"/>
<circle cx="151.0" cy="153.0" r="2.3"/>
<circle cx="152.9" cy="152.1" r="2.3"/>
<circle cx="153.5" cy="152.8" r="2.3"/>
<circle cx="155.2" cy="151.1" r="2.3"/>
<circle cx="156.4" cy="150.8" r="2.3"/>
<circle cx="156.8" cy="151.6" r="2.3"/>
<circle cx="157.9" cy="151.0" r="2.3"/>
<circle cx="158.3" cy="151.1" r="2.3"/>
<circle cx="160.1" cy="150.5" r="2.3"/>
<circle cx="161.5" cy="148.7" r="2.3"/>
<circle cx="162.4" cy="148.7" r="2.3"/>
<circle cx="163.4" cy="149.1" r="2.3"/>
<circle cx="164.1" cy="147.5" r="2.3"/>
<circle cx="165.6" cy="147.9" r="2.3"/>
<circle cx="165.9" cy="147.9" r="2.3"/>
<circle cx="167.5" cy="147.1" r="2.3"/>
<circle cx="168.5" cy="146.6" r="2.3"/>
<circle cx="169.5" cy="146.2" r="2.3"/>
<circle cx="171.5" cy="146.0" r="2.3"/>
<circle cx="172.5" cy="146.4" r="2.3"/>
<circle cx="173.7" cy="144.7" r="2.3"/>
<circle cx="174.1" cy="145.5" r="2.3"/>
<circle cx="175.1" cy="145.6" r="2.3"/>
<circle cx="177.2" cy="144.0" r="2.3"/>
<circle cx="177.5" cy="143.6" r="2.3"/>
<circle cx="178.2" cy="143.0" r="2.3"/>
<circle cx="180.0" cy="143.1" r="2.3"/>
<circle cx="181.0" cy="143.4" r="2.3"/>
<circle cx="181.5" cy="142.2" r="2.3"/>
<circle cx="183.1" cy="142.0" r="2.3"/>
<circle cx="184.2" cy="142.4" r="2.3"/>
<circle cx="185.3" cy="141.5" r="2.3"/>
<circle cx="185.8" cy="141.4" r="2.3"/>
<circle cx="145.7" cy="176.8" r="2.3"/>
<circle cx="146.8" cy="176.3" r="2.3"/>
<circle cx="148.3" cy="176.5" r="2.3"/>
<circle cx="149.2" cy="174.9" r="2.3"/>
<circle cx="150.9" cy="175.5" r="2.3"/>
<circle cx="151.3" cy="175.2" r="2.3"/>
<circle cx="152.1" cy="174.0" r="2.3"/>
<circle cx="153.8" cy="172.8" r="2.3"/>
<circle cx="154.6" cy="172.8" r="2.3"/>
<circle cx="156.5" cy="172.7" r="2.3"/>
<circle cx="157.0" cy="172.5" r="2.3"/>
<circle cx="158.4" cy="171.6" r="2.3"/>
<circle cx="160.2" cy="170.9" r="2.3"/>
<circle cx="161.0" cy="171.8" r="2.3"/>
<circle cx="163.1" cy="169.8" r="2.3"/>
<circle cx="163.4" cy="170.7" r="2.3"/>
<circle cx="164.4" cy="170.5" r="2.3"/>
<circle cx="165.0" cy="170.1" r="2.3"/>
<circle cx="165.9" cy="169.6" r="2.3"/>
<circle cx="167.6" cy="169.4" r="2.3"/>
<circle cx="168.6" cy="168.9" r="2.3"/>
<circle cx="170.3" cy="167.9" r="2.3"/>
<circle cx="171.7" cy="167.3" r="2.3"/>
<circle cx="172.6" cy="167.5" r="2.3"/>
<circle cx="173.8" cy="166.7" r="2.3"/>
<circle cx="174.9" cy="166.0" r="2.3"/>
<circle cx="175.9" cy="165.6" r="2.3"/>
<circle cx="176.7" cy="165.6" r="2.3"/>
<circle cx="177.7" cy="166.2" r="2.3"/>
<circle cx="179.4" cy="163.8" r="2.3"/>
<circle cx="181.5" cy="164.6" r="2.3"/>
<circle cx="181.4" cy="163.5" r="2.3"/>
<circle cx="182.7" cy="162.8" r="2.3"/>
<circle cx="184.5" cy="162.7" r="2.3"/>
<circle cx="185.4" cy="163.2" r="2.3"/>
<circle cx="186.7" cy="162.8" r="2.3"/>
<circle cx="187.0" cy="162.3" r="2.3"/>
<circle cx="188.5" cy="162.4" r="2.3"/>
<circle cx="190.2" cy="160.9" r="2.3"/>
<circle cx="190.0" cy="161.2" r="2.3"/>
<circle cx="191.8" cy="160.6" r="2.3"/>
<circle cx="192.9" cy="158.7" r="2.3"/>
<circle cx="194.5" cy="159.2" r="2.3"/>
<circle cx="195.6" cy="158.6" r="2.3"/>
<circle cx="195.9" cy="159.0" r="2.3"/>
<circle cx="197.4" cy="156.7" r="2.3"/>
<circle cx="198.3" cy="155.9" r="2.3"/>
<circle cx="200.1" cy="156.9" r="2.3"/>
<circle cx="201.2" cy="156.1" r="2.3"/>
<circle cx="202.1" cy="156.3" r="2.3"/>
<circle cx="203.5" cy="157.1" r="2.3"/>
<circle cx="204.3" cy="155.1" r="2.3"/>
<circle cx="206.3" cy="155.5" r="2.3"/>
<circle cx="207.9" cy="154.0" r="2.3"/>
<circle cx="207.5" cy="153.6" r="2.3"/>
<circle cx="208.5" cy="154.4" r="2.3"/>
<circle cx="210.2" cy="154.0" r="2.3"/>
<circle cx="211.8" cy="152.3" r="2.3"/>
<circle cx="213.0" cy="151.6" r="2.3"/>
<circle cx="213.4" cy="152.4" r="2.3"/>
<circle cx="151.0" cy="173.8" r="2.3"/>
<circle cx="151.9" cy="172.6" r="2.3"/>
<circle cx="152.6" cy="173.7" r="2.3"/>
<circle cx="155.3" cy="173.4" r="2.3"/>
<circle cx="158.1" cy="171.5" r="2.3"/>
<circle cx="157.8" cy="170.3" r="2.3"/>
<circle cx="158.0" cy="170.6" r="2.3"/>
<circle cx="162.0" cy="171.3" r="2.3"/>
<circle cx="163.0" cy="169.8" r="2.3"/>
<circle cx="165.5" cy="168.9" r="2.3"/>
<circle cx="183.5" cy="170.2" r="2.3"/>
<circle cx="183.8" cy="168.3" r="2.3"/>
<circle cx="184.1" cy="169.2" r="2.3"/>
<circle cx="184.4" cy="169.2" r="2.3"/>
<circle cx="183.8" cy="169.5" r="2.3"/>
<circle cx="184.5" cy="166.9" r="2.3"/>
<circle cx="184.2" cy="169.9" r="2.3"/>
<circle cx="185.3" cy="167.5" r="2.3"/>
<circle cx="185.0" cy="168.2" r="2.3"/>
<circle cx="185.4" cy="168.1" r="2.3"/>
<circle cx="186.2" cy="167.4" r="2.3"/>
<circle cx="186.1" cy="168.2" r="2.3"/>
<circle cx="185.5" cy="166.8" r="2.3"/>
<circle cx="186.8" cy="168.3" r="2.3"/>
<circle cx="186.7" cy="165.0" r="2.3"/>
<circle cx="186.2" cy="166.1" r="2.3"/>
<circle cx="187.3" cy="166.0" r="2.3"/>
<circle cx="186.9" cy="166.6" r="2.3"/>
<circle cx="186.7" cy="165.8" r="2.3"/>
<circle cx="187.4" cy="167.5" r="2.3"/>
<circle cx="188.0" cy="165.5" r="2.3"/>
<circle cx="188.4" cy="165.5" r="2.3"/>
<circle cx="189.2" cy="166.0" r="2.3"/>
<circle cx="188.7" cy="165.4" r="2.3"/>
<circle cx="188.8" cy="166.5" r="2.3"/>
<circle cx="189.3" cy="164.6" r="2.3"/>
<circle cx="189.9" cy="164.9" r="2.3"/>
<circle cx="189.0" cy="166.0" r="2.3"/>
<circle cx="189.2" cy="163.8" r="2.3"/>
<circle cx="190.3" cy="164.2" r="2.3"/>
<circle cx="190.5" cy="165.5" r="2.3"/>
<circle cx="190.4" cy="162.8" r="2.3"/>
<circle cx="190.7" cy="165.1" r="2.3"/>
<circle cx="191.9" cy="163.7" r="2.3"/>
<circle cx="191.0" cy="165.5" r="2.3"/>
<circle cx="191.5" cy="164.5" r="2.3"/>
<circle cx="192.4" cy="164.4" r="2.3"/>
<circle cx="192.6" cy="164.1" r="2.3"/>
<circle cx="192.4" cy="165.4" r="2.3"/>
<circle cx="192.5" cy="162.7" r="2.3"/>
<circle cx="192.7" cy="164.2" r="2.3"/>
<circle cx="193.7" cy="160.9" r="2.3"/>
<circle cx="193.0" cy="162.0" r="2.3"/>
<circle cx="194.1" cy="163.7" r="2.3"/>
<circle cx="193.4" cy="163.1" r="2.3"/>
<circle cx="181.6" cy="183.9" r="2.3"/>
<circle cx="182.6" cy="183.4" r="2.3"/>
<circle cx="184.6" cy="183.5" r="2.3"/>
<circle cx="185.9" cy="183.0" r="2.3"/>
<circle cx="187.7" cy="182.1" r="2.3"/>
<circle cx="189.1" cy="181.8" r="2.3"/>
<circle cx="190.0" cy="181.1" r="2.3"/>
<circle cx="191.4" cy="181.9" r="2.3"/>
<circle cx="191.9" cy="182.1" r="2.3"/>
<circle cx="194.2" cy="180.3" r="2.3"/>
<circle cx="195.1" cy="179.3" r="2.3"/>
<circle cx="197.1" cy="179.7" r="2.3"/>
<circle cx="197.9" cy="177.5" r="2.3"/>
<circle cx="198.9" cy="178.4" r="2.3"/>
<circle cx="200.2" cy="178.8" r="2.3"/>
<circle cx="201.4" cy="178.0" r="2.3"/>
<circle cx="203.3" cy="177.2" r="2.3"/>
<circle cx="203.6" cy="176.9" r="2.3"/>
<circle cx="205.9" cy="176.8" r="2.3"/>
<circle cx="206.8" cy="176.4" r="2.3"/>
<circle cx="207.6" cy="176.4" r="2.3"/>
<circle cx="210.6" cy="174.5" r="2.3"/>
<circle cx="210.6" cy="175.5" r="2.3"/>
<circle cx="212.1" cy="174.6" r="2.3"/>
<circle cx="213.8" cy="174.1" r="2.3"/>
<circle cx="215.5" cy="172.9" r="2.3"/>
<circle cx="216.6" cy="173.4" r="2.3"/>
<circle cx="217.7" cy="173.6" r="2.3"/>
<circle cx="219.1" cy="172.3" r="2.3"/>
<circle cx="219.6" cy="171.9" r="2.3"/>
<circle cx="222.0" cy="171.3" r="2.3"/>
<circle cx="222.7" cy="170.5" r="2.3"/>
<circle cx="223.2" cy="170.3" r="2.3"/>
<circle cx="226.3" cy="169.8" r="2.3"/>
<circle cx="226.2" cy="170.0" r="2.3"/>
<circle cx="227.8" cy="169.2" r="2.3"/>
<circle cx="229.6" cy="167.7" r="2.3"/>
<circle cx="231.2" cy="166.4" r="2.3"/>
<circle cx="232.3" cy="169.1" r="2.3"/>
<circle cx="232.9" cy="168.1" r="2.3"/>
<circle cx="184.2" cy="183.9" r="2.3"/>
<circle cx="186.3" cy="182.8" r="2.3"/>
<circle cx="186.8" cy="181.6" r="2.3"/>
<circle cx="187.6" cy="181.6" r="2.3"/>
<circle cx="189.0" cy="179.3" r="2.3"/>
<circle cx="189.3" cy="180.6" r="2.3"/>
<circle cx="191.9" cy="179.6" r="2.3"/>
<circle cx="192.3" cy="179.8" r="2.3"/>
<circle cx="193.8" cy="177.2" r="2.3"/>
<circle cx="194.5" cy="178.4" r="2.3"/>
<circle cx="195.7" cy="176.9" r="2.3"/>
<circle cx="196.4" cy="175.6" r="2.3"/>
<circle cx="221.8" cy="192.6" r="2.3"/>
<circle cx="222.8" cy="191.4" r="2.3"/>
<circle cx="224.9" cy="189.7" r="2.3"/>
<circle cx="225.8" cy="189.8" r="2.3"/>
<circle cx="227.1" cy="190.2" r="2.3"/>
<circle cx="227.9" cy="189.4" r="2.3"/>
<circle cx="229.5" cy="188.4" r="2.3"/>
<circle cx="229.3" cy="189.8" r="2.3"/>
<circle cx="231.5" cy="187.5" r="2.3"/>
<circle cx="231.9" cy="186.9" r="2.3"/>
<circle cx="234.1" cy="187.3" r="2.3"/>
<circle cx="235.1" cy="186.4" r="2.3"/>
<circle cx="236.4" cy="187.4" r="2.3"/>
<circle cx="237.9" cy="184.7" r="2.3"/>
<circle cx="238.1" cy="185.1" r="2.3"/>
<circle cx="240.2" cy="184.7" r="2.3"/>
<circle cx="241.1" cy="184.2" r="2.3"/>
<circle cx="242.5" cy="184.5" r="2.3"/>
<circle cx="243.4" cy="184.2" r="2.3"/>
<circle cx="245.0" cy="183.6" r="2.3"/>
<circle cx="245.6" cy="183.6" r="2.3"/>
<circle cx="246.9" cy="182.2" r="2.3"/>
<circle cx="248.3" cy="182.7" r="2.3"/>
<circle cx="249.4" cy="181.8" r="2.3"/>
<circle cx="252.4" cy="180.3" r="2.3"/>
<circle cx="252.5" cy="180.3" r="2.3"/>
<circle cx="253.2" cy="180.0" r="2.3"/>
<circle cx="255.0" cy="179.5" r="2.3"/>
<circle cx="255.6" cy="178.2" r="2.3"/>
<circle cx="256.8" cy="177.7" r="2.3"/>
<circle cx="258.1" cy="178.0" r="2.3"/>
<circle cx="258.8" cy="177.7" r="2.3"/>
<circle cx="261.0" cy="177.7" r="2.3"/>
<circle cx="261.3" cy="177.0" r="2.3"/>
<circle cx="263.3" cy="176.0" r="2.3"/>
<circle cx="264.3" cy="175.9" r="2.3"/>
<circle cx="265.0" cy="175.5" r="2.3"/>
<circle cx="266.9" cy="174.7" r="2.3"/>
<circle cx="267.7" cy="174.4" r="2.3"/>
<circle cx="269.4" cy="173.5" r="2.3"/>
<circle cx="270.6" cy="174.0" r="2.3"/>
<circle cx="271.4" cy="173.2" r="2.3"/>
<circle cx="272.7" cy="172.8" r="2.3"/>
<circle cx="274.0" cy="173.2" r="2.3"/>
<circle cx="276.2" cy="171.5" r="2.3"/>
<circle cx="276.1" cy="172.1" r="2.3"/>
<circle cx="277.7" cy="170.6" r="2.3"/>
<circle cx="278.7" cy="170.7" r="2.3"/>
<circle cx="280.1" cy="170.0" r="2.3"/>
<circle cx="281.6" cy="169.1" r="2.3"/>
<circle cx="234.7" cy="186.9" r="2.3"/>
<circle cx="235.2" cy="187.4" r="2.3"/>
<circle cx="235.5" cy="187.8" r="2.3"/>
<circle cx="234.9" cy="187.2" r="2.3"/>
<circle cx="235.6" cy="186.0" r="2.3"/>
<circle cx="236.2" cy="186.6" r="2.3"/>
<circle cx="236.2" cy="186.4" r="2.3"/>
<circle cx="235.9" cy="187.4" r="2.3"/>
<circle cx="236.7" cy="186.1" r="2.3"/>
<circle cx="236.8" cy="186.8" r="2.3"/>
<circle cx="236.6" cy="185.6" r="2.3"/>
<circle cx="237.5" cy="187.2" r="2.3"/>
<circle cx="238.0" cy="186.3" r="2.3"/>
<circle cx="237.9" cy="185.2" r="2.3"/>
<circle cx="238.7" cy="187.1" r="2.3"/>
<circle cx="238.6" cy="184.7" r="2.3"/>
<circle cx="239.4" cy="184.0" r="2.3"/>
<circle cx="238.9" cy="185.2" r="2.3"/>
<circle cx="240.5" cy="184.7" r="2.3"/>
<circle cx="240.5" cy="184.2" r="2.3"/>
<circle cx="240.5" cy="185.7" r="2.3"/>
<circle cx="240.7" cy="185.6" r="2.3"/>
<circle cx="241.6" cy="183.9" r="2.3"/>
<circle cx="242.1" cy="184.0" r="2.3"/>
<circle cx="241.8" cy="184.0" r="2.3"/>
<circle cx="241.7" cy="184.4" r="2.3"/>
<circle cx="242.8" cy="184.0" r="2.3"/>
<circle cx="243.6" cy="185.9" r="2.3"/>
<circle cx="243.2" cy="184.2" r="2.3"/>
<circle cx="243.6" cy="183.0" r="2.3"/>
<circle cx="243.4" cy="184.6" r="2.3"/>
<circle cx="244.4" cy="184.2" r="2.3"/>
<circle cx="244.1" cy="184.4" r="2.3"/>
<circle cx="245.5" cy="182.7" r="2.3"/>
<circle cx="244.7" cy="182.4" r="2.3"/>
<circle cx="245.3" cy="183.2" r="2.3"/>
<circle cx="246.1" cy="183.5" r="2.3"/>
<circle cx="246.0" cy="183.0" r="2.3"/>
<circle cx="246.0" cy="183.3" r="2.3"/>
<circle cx="246.0" cy="182.3" r="2.3"/>
<circle cx="246.9" cy="182.4" r="2.3"/>
<circle cx="247.1" cy="183.0" r="2.3"/>
<circle cx="247.6" cy="182.1" r="2.3"/>
<circle cx="247.5" cy="181.0" r="2.3"/>
<circle cx="248.1" cy="183.0" r="2.3"/>
<circle cx="248.9" cy="182.0" r="2.3"/>
<circle cx="248.8" cy="181.2" r="2.3"/>
<circle cx="249.1" cy="181.7" r="2.3"/>
<circle cx="249.7" cy="182.1" r="2.3"/>
<circle cx="249.8" cy="181.4" r="2.3"/>
<circle cx="249.5" cy="180.0" r="2.3"/>
<circle cx="250.5" cy="181.8" r="2.3"/>
<circle cx="250.9" cy="181.5" r="2.3"/>
<circle cx="250.3" cy="180.6" r="2.3"/>
<circle cx="251.5" cy="181.4" r="2.3"/>
<circle cx="251.2" cy="181.8" r="2.3"/>
<circle cx="251.3" cy="179.8" r="2.3"/>
<circle cx="253.0" cy="180.8" r="2.3"/>
<circle cx="252.4" cy="180.0" r="2.3"/>
<circle cx="252.6" cy="179.7" r="2.3"/>
<circle cx="253.0" cy="181.5" r="2.3"/>
<circle cx="252.9" cy="181.5" r="2.3"/>
<circle cx="253.3" cy="181.6" r="2.3"/>
<circle cx="254.5" cy="180.7" r="2.3"/>
<circle cx="254.5" cy="180.8" r="2.3"/>
<circle cx="254.5" cy="179.1" r="2.3"/>
<circle cx="255.0" cy="179.6" r="2.3"/>
<circle cx="255.2" cy="179.5" r="2.3"/>
<circle cx="255.8" cy="180.1" r="2.3"/>
<circle cx="256.2" cy="178.6" r="2.3"/>
<circle cx="256.8" cy="178.8" r="2.3"/>
<circle cx="256.5" cy="179.4" r="2.3"/>
<circle cx="257.6" cy="178.2" r="2.3"/>
<circle cx="257.7" cy="180.0" r="2.3"/>
<circle cx="257.1" cy="178.6" r="2.3"/>
<circle cx="258.0" cy="178.2" r="2.3"/>
<circle cx="258.2" cy="178.8" r="2.3"/>
<circle cx="259.0" cy="179.2" r="2.3"/>
<circle cx="259.3" cy="177.4" r="2.3"/>
<circle cx="259.1" cy="178.2" r="2.3"/>
<circle cx="259.6" cy="176.7" r="2.3"/>
<circle cx="259.3" cy="176.8" r="2.3"/>
<circle cx="260.0" cy="179.5" r="2.3"/>
<circle cx="260.3" cy="178.5" r="2.3"/>
<circle cx="260.1" cy="177.6" r="2.3"/>
<circle cx="260.9" cy="177.6" r="2.3"/>
<circle cx="261.3" cy="176.5" r="2.3"/>
<circle cx="262.2" cy="177.6" r="2.3"/>
<circle cx="262.9" cy="176.3" r="2.3"/>
<circle cx="262.6" cy="178.1" r="2.3"/>
<circle cx="262.5" cy="175.5" r="2.3"/>
<circle cx="262.6" cy="176.8" r="2.3"/>
<circle cx="263.6" cy="176.5" r="2.3"/>
<circle cx="263.0" cy="176.9" r="2.3"/>
<circle cx="263.9" cy="176.1" r="2.3"/>
<circle cx="264.4" cy="176.2" r="2.3"/>
<circle cx="265.0" cy="175.2" r="2.3"/>
<circle cx="264.7" cy="176.5" r="2.3"/>
<circle cx="265.4" cy="175.4" r="2.3"/>
<circle cx="265.1" cy="176.0" r="2.3"/>
<circle cx="265.8" cy="174.7" r="2.3"/>
<circle cx="267.0" cy="174.1" r="2.3"/>
<circle cx="266.4" cy="176.5" r="2.3"/>
<circle cx="266.6" cy="174.7" r="2.3"/>
<circle cx="267.0" cy="174.9" r="2.3"/>
<circle cx="267.5" cy="175.7" r="2.3"/>
<circle cx="266.9" cy="174.1" r="2.3"/>
<circle cx="268.2" cy="173.3" r="2.3"/>
<circle cx="267.2" cy="173.9" r="2.3"/>
<circle cx="269.1" cy="174.2" r="2.3"/>
<circle cx="268.3" cy="173.2" r="2.3"/>
<circle cx="269.6" cy="175.1" r="2.3"/>
<circle cx="270.0" cy="173.9" r="2.3"/>
<circle cx="269.7" cy="172.6" r="2.3"/>
<circle cx="270.7" cy="174.0" r="2.3"/>
<circle cx="271.0" cy="173.4" r="2.3"/>
<circle cx="271.0" cy="173.0" r="2.3"/>
<circle cx="271.5" cy="173.0" r="2.3"/>
<circle cx="271.7" cy="174.2" r="2.3"/>
<circle cx="271.0" cy="171.8" r="2.3"/>
<circle cx="299.7" cy="208.5" r="2.3"/>
<circle cx="301.2" cy="207.6" r="2.3"/>
<circle cx="302.4" cy="207.2" r="2.3"/>
<circle cx="302.4" cy="207.3" r="2.3"/>
<circle cx="303.7" cy="207.2" r="2.3"/>
<circle cx="304.5" cy="206.8" r="2.3"/>
<circle cx="306.0" cy="205.5" r="2.3"/>
<circle cx="306.6" cy="206.1" r="2.3"/>
<circle cx="307.5" cy="205.1" r="2.3"/>
<circle cx="308.7" cy="206.1" r="2.3"/>
<circle cx="309.9" cy="204.4" r="2.3"/>
<circle cx="310.5" cy="203.9" r="2.3"/>
<circle cx="312.3" cy="204.0" r="2.3"/>
<circle cx="313.6" cy="202.4" r="2.3"/>
<circle cx="313.3" cy="202.6" r="2.3"/>
<circle cx="314.6" cy="204.3" r="2.3"/>
<circle cx="315.5" cy="201.8" r="2.3"/>
<circle cx="316.4" cy="202.4" r="2.3"/>
<circle cx="318.1" cy="200.6" r="2.3"/>
<circle cx="319.4" cy="200.4" r="2.3"/>
<circle cx="320.2" cy="200.4" r="2.3"/>
<circle cx="320.7" cy="199.8" r="2.3"/>
<circle cx="322.3" cy="200.8" r="2.3"/>
<circle cx="322.8" cy="199.2" r="2.3"/>
<circle cx="324.4" cy="198.8" r="2.3"/>
<circle cx="324.8" cy="197.6" r="2.3"/>
<circle cx="326.5" cy="199.0" r="2.3"/>
<circle cx="326.9" cy="199.2" r="2.3"/>
<circle cx="327.8" cy="198.6" r="2.3"/>
<circle cx="329.0" cy="197.5" r="2.3"/>
<circle cx="330.1" cy="196.6" r="2.3"/>
<circle cx="331.4" cy="196.9" r="2.3"/>
<circle cx="332.4" cy="195.0" r="2.3"/>
<circle cx="333.0" cy="195.4" r="2.3"/>
<circle cx="334.5" cy="193.9" r="2.3"/>
<circle cx="335.1" cy="194.9" r="2.3"/>
<circle cx="336.5" cy="194.7" r="2.3"/>
<circle cx="337.0" cy="194.3" r="2.3"/>
<circle cx="338.3" cy="194.2" r="2.3"/>
<circle cx="339.2" cy="193.4" r="2.3"/>
<circle cx="340.9" cy="192.7" r="2.3"/>
<circle cx="342.1" cy="192.4" r="2.3"/>
<circle cx="343.1" cy="191.7" r="2.3"/>
<circle cx="343.9" cy="191.1" r="2.3"/>
<circle cx="344.6" cy="191.0" r="2.3"/>
<circle cx="346.3" cy="189.9" r="2.3"/>
<circle cx="346.9" cy="190.0" r="2.3"/>
<circle cx="348.2" cy="190.0" r="2.3"/>
<circle cx="347.7" cy="189.9" r="2.3"/>
<circle cx="350.0" cy="190.0" r="2.3"/>
<circle cx="310.0" cy="204.8" r="2.3"/>
<circle cx="311.2" cy="205.0" r="2.3"/>
<circle cx="311.5" cy="204.1" r="2.3"/>
<circle cx="311.0" cy="204.5" r="2.3"/>
<circle cx="311.5" cy="203.9" r="2.3"/>
<circle cx="311.8" cy="203.4" r="2.3"/>
<circle cx="311.8" cy="204.2" r="2.3"/>
<circle cx="313.3" cy="204.3" r="2.3"/>
<circle cx="313.7" cy="203.8" r="2.3"/>
<circle cx="314.1" cy="204.0" r="2.3"/>
<circle cx="314.6" cy="202.3" r="2.3"/>
<circle cx="314.6" cy="203.0" r="2.3"/>
<circle cx="314.9" cy="202.8" r="2.3"/>
<circle cx="315.7" cy="202.0" r="2.3"/>
<circle cx="316.1" cy="202.1" r="2.3"/>
<circle cx="316.7" cy="202.5" r="2.3"/>
<circle cx="316.0" cy="202.7" r="2.3"/>
<circle cx="317.1" cy="201.7" r="2.3"/>
<circle cx="317.7" cy="203.0" r="2.3"/>
<circle cx="317.2" cy="202.1" r="2.3"/>
<circle cx="318.1" cy="201.3" r="2.3"/>
<circle cx="318.8" cy="200.9" r="2.3"/>
<circle cx="319.1" cy="201.0" r="2.3"/>
<circle cx="319.4" cy="200.6" r="2.3"/>
<circle cx="319.4" cy="201.0" r="2.3"/>
<circle cx="319.8" cy="200.6" r="2.3"/>
<circle cx="320.1" cy="201.1" r="2.3"/>
<circle cx="321.2" cy="201.6" r="2.3"/>
<circle cx="321.8" cy="202.0" r="2.3"/>
<circle cx="321.4" cy="199.3" r="2.3"/>
<circle cx="322.0" cy="199.4" r="2.3"/>
<circle cx="322.1" cy="200.9" r="2.3"/>
<circle cx="322.8" cy="199.2" r="2.3"/>
<circle cx="323.5" cy="200.1" r="2.3"/>
<circle cx="324.2" cy="199.5" r="2.3"/>
<circle cx="323.9" cy="199.3" r="2.3"/>
<circle cx="325.2" cy="199.2" r="2.3"/>
<circle cx="325.4" cy="199.5" r="2.3"/>
<circle cx="325.4" cy="198.8" r="2.3"/>
<circle cx="326.4" cy="197.9" r="2.3"/>
<circle cx="325.9" cy="198.3" r="2.3"/>
<circle cx="326.1" cy="197.4" r="2.3"/>
<circle cx="327.1" cy="197.0" r="2.3"/>
<circle cx="327.3" cy="196.8" r="2.3"/>
<circle cx="327.7" cy="198.0" r="2.3"/>
<circle cx="327.7" cy="197.8" r="2.3"/>
<circle cx="328.7" cy="197.3" r="2.3"/>
<circle cx="328.8" cy="198.5" r="2.3"/>
<circle cx="329.5" cy="197.8" r="2.3"/>
<circle cx="329.8" cy="197.8" r="2.3"/>
<circle cx="330.2" cy="197.0" r="2.3"/>
<circle cx="331.0" cy="195.1" r="2.3"/>
<circle cx="331.5" cy="195.6" r="2.3"/>
<circle cx="331.0" cy="195.4" r="2.3"/>
<circle cx="331.5" cy="196.7" r="2.3"/>
<circle cx="332.3" cy="196.1" r="2.3"/>
<circle cx="331.7" cy="196.6" r="2.3"/>
<circle cx="332.9" cy="196.0" r="2.3"/>
<circle cx="333.3" cy="195.6" r="2.3"/>
<circle cx="334.1" cy="195.5" r="2.3"/>
<circle cx="333.8" cy="195.4" r="2.3"/>
<circle cx="335.1" cy="194.5" r="2.3"/>
<circle cx="335.4" cy="196.0" r="2.3"/>
<circle cx="335.4" cy="194.2" r="2.3"/>
<circle cx="335.6" cy="195.2" r="2.3"/>
<circle cx="336.6" cy="194.6" r="2.3"/>
<circle cx="336.8" cy="194.5" r="2.3"/>
<circle cx="337.4" cy="194.2" r="2.3"/>
<circle cx="337.6" cy="194.1" r="2.3"/>
<circle cx="338.5" cy="193.9" r="2.3"/>
<circle cx="338.5" cy="194.4" r="2.3"/>
<circle cx="338.1" cy="193.4" r="2.3"/>
<circle cx="338.6" cy="193.5" r="2.3"/>
<circle cx="340.1" cy="193.4" r="2.3"/>
<circle cx="339.3" cy="193.1" r="2.3"/>
<circle cx="340.1" cy="192.0" r="2.3"/>
<circle cx="340.5" cy="193.8" r="2.3"/>
<circle cx="340.7" cy="191.5" r="2.3"/>
<circle cx="340.9" cy="192.5" r="2.3"/>
<circle cx="341.4" cy="192.4" r="2.3"/>
<circle cx="341.8" cy="192.2" r="2.3"/>
<circle cx="342.9" cy="191.3" r="2.3"/>
<circle cx="342.4" cy="193.4" r="2.3"/>
<circle cx="343.2" cy="190.2" r="2.3"/>
<circle cx="344.1" cy="191.0" r="2.3"/>
<circle cx="343.7" cy="191.4" r="2.3"/>
<circle cx="344.4" cy="190.5" r="2.3"/>
<circle cx="345.0" cy="192.7" r="2.3"/>
<circle cx="345.7" cy="189.9" r="2.3"/>
<circle cx="346.1" cy="190.6" r="2.3"/>
<circle cx="279.4" cy="85.1" r="2.3"/>
<circle cx="261.5" cy="90.8" r="2.3"/>
<circle cx="234.5" cy="100.7" r="2.3"/>
<circle cx="238.2" cy="100.7" r="2.3"/>
<circle cx="288.3" cy="102.2" r="2.3"/>
<circle cx="286.3" cy="104.9" r="2.3"/>
<circle cx="266.0" cy="111.4" r="2.3"/>
<circle cx="254.8" cy="114.8" r="2.3"/>
<circle cx="199.2" cy="114.1" r="2.3"/>
<circle cx="199.3" cy="113.2" r="2.3"/>
<circle cx="298.2" cy="120.3" r="2.3"/>
<circle cx="297.0" cy="121.8" r="2.3"/>
<circle cx="230.0" cy="124.3" r="2.3"/>
<circle cx="218.8" cy="128.0" r="2.3"/>
<circle cx="208.7" cy="132.2" r="2.3"/>
<circle cx="204.9" cy="133.4" r="2.3"/>
<circle cx="274.7" cy="129.7" r="2.3"/>
<circle cx="266.5" cy="132.0" r="2.3"/>
<circle cx="170.9" cy="125.3" r="2.3"/>
<circle cx="171.0" cy="126.3" r="2.3"/>
<circle cx="159.5" cy="128.7" r="2.3"/>
<circle cx="155.0" cy="131.2" r="2.3"/>
<circle cx="147.4" cy="133.7" r="2.3"/>
<circle cx="193.3" cy="138.2" r="2.3"/>
<circle cx="247.4" cy="139.9" r="2.3"/>
<circle cx="239.9" cy="141.9" r="2.3"/>
<circle cx="229.3" cy="147.1" r="2.3"/>
<circle cx="223.0" cy="148.8" r="2.3"/>
<circle cx="217.6" cy="151.1" r="2.3"/>
<circle cx="292.0" cy="144.9" r="2.3"/>
<circle cx="287.6" cy="147.3" r="2.3"/>
<circle cx="282.9" cy="151.1" r="2.3"/>
<circle cx="265.7" cy="155.3" r="2.3"/>
<circle cx="260.3" cy="157.3" r="2.3"/>
<circle cx="256.6" cy="158.0" r="2.3"/>
<circle cx="130.0" cy="139.9" r="2.3"/>
<circle cx="307.4" cy="138.2" r="2.3"/>
<circle cx="254.1" cy="160.3" r="2.3"/>
<circle cx="247.6" cy="163.3" r="2.3"/>
<circle cx="244.7" cy="162.5" r="2.3"/>
<circle cx="241.7" cy="164.5" r="2.3"/>
<circle cx="237.0" cy="166.0" r="2.3"/>
<circle cx="286.8" cy="169.2" r="2.3"/>
<circle cx="291.0" cy="168.5" r="2.3"/>
<circle cx="294.3" cy="166.0" r="2.3"/>
<circle cx="397.3" cy="62.8" r="2.3"/>
<circle cx="389.9" cy="86.6" r="2.3"/>
<circle cx="335.5" cy="63.0" r="2.3"/>
<circle cx="347.2" cy="80.6" r="2.3"/>
<circle cx="343.0" cy="103.4" r="2.3"/>
<circle cx="358.6" cy="116.1" r="2.3"/>
<circle cx="345.9" cy="125.5" r="2.3"/>
<circle cx="274.5" cy="129.3" r="2.3"/>
<circle cx="380.4" cy="46.9" r="2.3"/>
<circle cx="155.0" cy="162.6" r="2.3"/>
<circle cx="231.3" cy="179.6" r="2.3"/>
<circle cx="205.0" cy="180.9" r="2.3"/>
<circle cx="104.4" cy="244.5" r="2.3"/>
<circle cx="141.8" cy="154.2" r="2.3"/>
<circle cx="121.5" cy="168.8" r="2.3"/>
</g>
<g fill="#0a0aff">
<circle cx="71.7" cy="160.4" r="1.05"/>
<circle cx="80.3" cy="157.8" r="1.05"/>
<circle cx="81.7" cy="156.1" r="1.05"/>
<circle cx="84.4" cy="156.0" r="1.05"/>
<circle cx="84.0" cy="157.2" r="1.05"/>
<circle cx="87.2" cy="154.5" r="1.05"/>
<circle cx="87.7" cy="155.9" r="1.05"/>
<circle cx="94.3" cy="153.9" r="1.05"/>
<circle cx="97.9" cy="151.3" r="1.05"/>
<circle cx="99.6" cy="150.3" r="1.05"/>
<circle cx="102.5" cy="149.9" r="1.05"/>
<circle cx="103.8" cy="149.9" r="1.05"/>
<circle cx="104.7" cy="149.8" r="1.05"/>
<circle cx="103.4" cy="147.5" r="1.05"/>
<circle cx="113.7" cy="148.3" r="1.05"/>
<circle cx="129.7" cy="140.2" r="1.05"/>
<circle cx="111.6" cy="165.7" r="1.05"/>
<circle cx="112.8" cy="164.7" r="1.05"/>
<circle cx="115.6" cy="166.0" r="1.05"/>
<circle cx="118.0" cy="164.7" r="1.05"/>
<circle cx="117.4" cy="164.8" r="1.05"/>
<circle cx="125.6" cy="160.9" r="1.05"/>
<circle cx="125.0" cy="161.4" r="1.05"/>
<circle cx="134.5" cy="158.9" r="1.05"/>
<circle cx="138.7" cy="158.1" r="1.05"/>
<circle cx="140.7" cy="155.2" r="1.05"/>
<circle cx="144.5" cy="156.1" r="1.05"/>
<circle cx="150.4" cy="153.3" r="1.05"/>
<circle cx="152.1" cy="152.3" r="1.05"/>
<circle cx="159.5" cy="150.3" r="1.05"/>
<circle cx="161.6" cy="147.3" r="1.05"/>
<circle cx="162.3" cy="148.8" r="1.05"/>
<circle cx="163.5" cy="146.9" r="1.05"/>
<circle cx="168.8" cy="146.7" r="1.05"/>
<circle cx="170.1" cy="145.7" r="1.05"/>
<circle cx="181.2" cy="142.3" r="1.05"/>
<circle cx="184.1" cy="143.3" r="1.05"/>
<circle cx="185.9" cy="141.2" r="1.05"/>
<circle cx="145.4" cy="177.7" r="1.05"/>
<circle cx="148.2" cy="176.0" r="1.05"/>
<circle cx="151.0" cy="175.6" r="1.05"/>
<circle cx="154.1" cy="172.0" r="1.05"/>
<circle cx="157.0" cy="171.8" r="1.05"/>
<circle cx="158.5" cy="171.1" r="1.05"/>
<circle cx="164.5" cy="169.4" r="1.05"/>
<circle cx="166.0" cy="169.5" r="1.05"/>
<circle cx="167.4" cy="168.7" r="1.05"/>
<circle cx="171.2" cy="167.2" r="1.05"/>
<circle cx="175.1" cy="166.4" r="1.05"/>
<circle cx="179.1" cy="164.6" r="1.05"/>
<circle cx="181.3" cy="163.6" r="1.05"/>
<circle cx="182.6" cy="162.6" r="1.05"/>
<circle cx="184.4" cy="162.6" r="1.05"/>
<circle cx="186.8" cy="161.9" r="1.05"/>
<circle cx="187.7" cy="162.1" r="1.05"/>
<circle cx="189.8" cy="161.1" r="1.05"/>
<circle cx="193.1" cy="158.3" r="1.05"/>
<circle cx="200.2" cy="157.1" r="1.05"/>
<circle cx="206.4" cy="155.6" r="1.05"/>
<circle cx="208.8" cy="154.9" r="1.05"/>
<circle cx="211.0" cy="154.2" r="1.05"/>
<circle cx="151.7" cy="173.2" r="1.05"/>
<circle cx="155.0" cy="173.6" r="1.05"/>
<circle cx="158.4" cy="170.6" r="1.05"/>
<circle cx="162.2" cy="170.8" r="1.05"/>
<circle cx="184.9" cy="169.0" r="1.05"/>
<circle cx="184.7" cy="167.4" r="1.05"/>
<circle cx="190.5" cy="163.3" r="1.05"/>
<circle cx="190.8" cy="164.5" r="1.05"/>
<circle cx="181.9" cy="183.2" r="1.05"/>
<circle cx="185.9" cy="183.1" r="1.05"/>
<circle cx="192.1" cy="182.4" r="1.05"/>
<circle cx="193.7" cy="180.1" r="1.05"/>
<circle cx="200.5" cy="179.3" r="1.05"/>
<circle cx="204.0" cy="176.5" r="1.05"/>
<circle cx="203.0" cy="177.4" r="1.05"/>
<circle cx="207.6" cy="176.7" r="1.05"/>
<circle cx="211.1" cy="175.1" r="1.05"/>
<circle cx="211.9" cy="173.0" r="1.05"/>
<circle cx="213.3" cy="174.1" r="1.05"/>
<circle cx="215.7" cy="173.1" r="1.05"/>
<circle cx="217.7" cy="174.2" r="1.05"/>
<circle cx="219.5" cy="172.9" r="1.05"/>
<circle cx="219.6" cy="172.1" r="1.05"/>
<circle cx="221.9" cy="170.9" r="1.05"/>
<circle cx="226.7" cy="169.1" r="1.05"/>
<circle cx="228.1" cy="170.4" r="1.05"/>
<circle cx="232.2" cy="167.1" r="1.05"/>
<circle cx="232.9" cy="169.2" r="1.05"/>
<circle cx="184.1" cy="184.1" r="1.05"/>
<circle cx="185.5" cy="182.6" r="1.05"/>
<circle cx="191.0" cy="180.8" r="1.05"/>
<circle cx="194.0" cy="178.6" r="1.05"/>
<circle cx="223.3" cy="189.6" r="1.05"/>
<circle cx="229.8" cy="188.8" r="1.05"/>
<circle cx="229.4" cy="189.6" r="1.05"/>
<circle cx="233.8" cy="187.9" r="1.05"/>
<circle cx="236.0" cy="187.1" r="1.05"/>
<circle cx="242.1" cy="184.1" r="1.05"/>
<circle cx="245.7" cy="184.4" r="1.05"/>
<circle cx="253.0" cy="180.2" r="1.05"/>
<circle cx="256.9" cy="177.6" r="1.05"/>
<circle cx="259.3" cy="178.0" r="1.05"/>
<circle cx="262.1" cy="177.6" r="1.05"/>
<circle cx="266.8" cy="174.8" r="1.05"/>
<circle cx="269.8" cy="173.2" r="1.05"/>
<circle cx="270.1" cy="174.2" r="1.05"/>
<circle cx="273.1" cy="173.1" r="1.05"/>
<circle cx="278.0" cy="170.8" r="1.05"/>
<circle cx="234.6" cy="188.0" r="1.05"/>
<circle cx="236.6" cy="186.0" r="1.05"/>
<circle cx="240.5" cy="184.6" r="1.05"/>
<circle cx="243.2" cy="186.8" r="1.05"/>
<circle cx="243.9" cy="181.6" r="1.05"/>
<circle cx="248.6" cy="181.7" r="1.05"/>
<circle cx="249.1" cy="180.4" r="1.05"/>
<circle cx="263.8" cy="175.8" r="1.05"/>
<circle cx="271.1" cy="173.7" r="1.05"/>
<circle cx="270.2" cy="173.0" r="1.05"/>
<circle cx="300.7" cy="208.2" r="1.05"/>
<circle cx="304.4" cy="206.5" r="1.05"/>
<circle cx="306.5" cy="206.5" r="1.05"/>
<circle cx="310.8" cy="203.7" r="1.05"/>
<circle cx="312.0" cy="203.7" r="1.05"/>
<circle cx="314.1" cy="204.1" r="1.05"/>
<circle cx="316.9" cy="202.5" r="1.05"/>
<circle cx="318.8" cy="200.6" r="1.05"/>
<circle cx="320.3" cy="201.1" r="1.05"/>
<circle cx="321.3" cy="199.6" r="1.05"/>
<circle cx="322.1" cy="200.0" r="1.05"/>
<circle cx="322.8" cy="199.3" r="1.05"/>
<circle cx="324.4" cy="199.8" r="1.05"/>
<circle cx="325.4" cy="197.7" r="1.05"/>
<circle cx="326.8" cy="199.0" r="1.05"/>
<circle cx="331.5" cy="196.8" r="1.05"/>
<circle cx="336.1" cy="195.0" r="1.05"/>
<circle cx="335.6" cy="194.0" r="1.05"/>
<circle cx="339.9" cy="193.6" r="1.05"/>
<circle cx="346.3" cy="190.4" r="1.05"/>
<circle cx="348.1" cy="189.9" r="1.05"/>
<circle cx="350.2" cy="190.6" r="1.05"/>
<circle cx="312.0" cy="203.4" r="1.05"/>
<circle cx="313.7" cy="204.3" r="1.05"/>
<circle cx="320.0" cy="200.6" r="1.05"/>
<circle cx="329.5" cy="198.6" r="1.05"/>
<circle cx="331.9" cy="196.4" r="1.05"/>
<circle cx="337.5" cy="194.4" r="1.05"/>
<circle cx="342.4" cy="193.5" r="1.05"/>
<circle cx="288.3" cy="102.2" r="1.05"/>
<circle cx="286.3" cy="105.1" r="1.05"/>
<circle cx="266.3" cy="111.2" r="1.05"/>
<circle cx="230.2" cy="124.0" r="1.05"/>
<circle cx="205.1" cy="133.2" r="1.05"/>
<circle cx="274.2" cy="130.3" r="1.05"/>
<circle cx="266.5" cy="131.9" r="1.05"/>
<circle cx="170.6" cy="126.9" r="1.05"/>
<circle cx="159.5" cy="128.7" r="1.05"/>
<circle cx="147.3" cy="133.7" r="1.05"/>
<circle cx="247.7" cy="139.6" r="1.05"/>
<circle cx="217.8" cy="151.1" r="1.05"/>
<circle cx="292.0" cy="145.1" r="1.05"/>
<circle cx="283.3" cy="150.7" r="1.05"/>
<circle cx="266.0" cy="155.5" r="1.05"/>
<circle cx="257.0" cy="158.0" r="1.05"/>
<circle cx="244.5" cy="162.5" r="1.05"/>
<circle cx="241.4" cy="164.8" r="1.05"/>
<circle cx="286.7" cy="169.2" r="1.05"/>
<circle cx="294.3" cy="166.2" r="1.05"/>
<circle cx="397.0" cy="62.8" r="1.05"/>
<circle cx="343.0" cy="103.2" r="1.05"/>
<circle cx="345.5" cy="125.9" r="1.05"/>
<circle cx="275.0" cy="129.4" r="1.05"/>
<circle cx="380.4" cy="45.1" r="1.05"/>
</g>
<g stroke="#3a3a3a" stroke-width="0.56" fill="none">
<line x1="45.50" y1="459.50" x2="45.50" y2="643.40"/>
<line x1="45.50" y1="459.50" x2="370.40" y2="416.60"/>
<line x1="370.40" y1="416.60" x2="370.40" y2="600.60"/>
<line x1="370.40" y1="416.60" x2="643.20" y2="467.50"/>
<line x1="643.20" y1="467.50" x2="643.20" y2="651.60"/>
<line x1="45.50" y1="643.40" x2="370.40" y2="600.60"/>
<line x1="370.40" y1="600.60" x2="643.20" y2="651.60"/>
<line x1="45.50" y1="643.40" x2="318.20" y2="694.70"/>
<line x1="318.20" y1="694.70" x2="643.20" y2="651.60"/>
<line x1="45.50" y1="459.50" x2="37.34" y2="457.97"/>
<line x1="45.50" y1="515.90" x2="37.34" y2="514.37"/>
<line x1="45.50" y1="572.30" x2="37.34" y2="570.77"/>
<line x1="45.50" y1="628.70" x2="37.34" y2="627.17"/>
<line x1="45.50" y1="643.40" x2="37.27" y2="644.48"/>
<line x1="90.95" y1="651.95" x2="82.72" y2="653.03"/>
<line x1="136.40" y1="660.50" x2="128.17" y2="661.58"/>
<line x1="181.85" y1="669.05" x2="173.62" y2="670.13"/>
<line x1="227.30" y1="677.60" x2="219.07" y2="678.68"/>
<line x1="272.75" y1="686.15" x2="264.52" y2="687.23"/>
<line x1="318.20" y1="694.70" x2="309.97" y2="695.78"/>
<line x1="318.20" y1="694.70" x2="326.36" y2="696.23"/>
<line x1="372.37" y1="687.52" x2="380.52" y2="689.05"/>
<line x1="426.53" y1="680.33" x2="434.69" y2="681.87"/>
<line x1="480.70" y1="673.15" x2="488.86" y2="674.68"/>
<line x1="534.87" y1="665.97" x2="543.02" y2="667.50"/>
<line x1="589.03" y1="658.78" x2="597.19" y2="660.32"/>
<line x1="643.20" y1="651.60" x2="651.36" y2="653.13"/>
</g>
<g font-family="'Liberation Serif', serif" font-size="12" fill="#2a2a2a">
<text x="33.14" y="461.87" text-anchor="end">10</text>
<text x="33.14" y="518.27" text-anchor="end">5</text>
<text x="33.14" y="574.67" text-anchor="end">0</text>
<text x="33.14" y="631.07" text-anchor="end">-5</text>
<text x="33.07" y="656.58" text-anchor="end">0</text>
<text x="78.52" y="665.13" text-anchor="end">10</text>
<text x="123.97" y="673.68" text-anchor="end">20</text>
<text x="169.42" y="682.23" text-anchor="end">30</text>
<text x="214.87" y="690.78" text-anchor="end">40</text>
<text x="260.32" y="699.33" text-anchor="end">50</text>
<text x="305.77" y="707.88" text-anchor="end">60</text>
<text x="329.96" y="708.33" text-anchor="start">0</text>
<text x="384.12" y="701.15" text-anchor="start">500</text>
<text x="438.29" y="693.97" text-anchor="start">1000</text>
<text x="492.46" y="686.78" text-anchor="start">1500</text>
<text x="546.62" y="679.60" text-anchor="start">2000</text>
<text x="600.79" y="672.42" text-anchor="start">2500</text>
<text x="654.96" y="665.23" text-anchor="start">3000</text>
<text x="195.50" y="716.10" text-anchor="middle" font-size="13.8" letter-spacing="0.15">Input2</text>
<text x="466.00" y="718.50" text-anchor="middle" font-size="13.8" letter-spacing="0.15">Input3</text>
<text transform="translate(14.40,551.70) rotate(-90)" text-anchor="middle" font-size="13.8" letter-spacing="0.3">Target</text>
</g>
<rect x="536.40" y="410.50" width="93.1" height="27.1" fill="#fff" stroke="#555" stroke-width="0.6"/>
<circle cx="550.00" cy="418.40" r="1.0" fill="#0000ff"/>
<circle cx="550.30" cy="431.00" r="2.2" fill="none" stroke="#c8242b" stroke-width="0.85"/>
<g font-family="'Liberation Serif', serif" font-size="10.8" fill="#111">
<text x="563.20" y="422.50">ANFIS Target</text>
<text x="563.20" y="434.80">ANFIS Output</text>
</g>
<g fill="#0a0aff">
<circle cx="51.5" cy="559.6" r="1.15"/>
<circle cx="56.7" cy="559.7" r="1.15"/>
<circle cx="51.1" cy="565.2" r="1.15"/>
<circle cx="57.3" cy="565.2" r="1.15"/>
<circle cx="67.4" cy="554.7" r="1.15"/>
<circle cx="68.0" cy="562.2" r="1.15"/>
<circle cx="74.9" cy="554.4" r="1.15"/>
<circle cx="75.9" cy="559.6" r="1.15"/>
<circle cx="85.1" cy="544.5" r="1.15"/>
<circle cx="86.1" cy="553.6" r="1.15"/>
<circle cx="96.1" cy="544.5" r="1.15"/>
<circle cx="95.5" cy="549.5" r="1.15"/>
<circle cx="97.1" cy="552.5" r="1.15"/>
<circle cx="97.6" cy="556.1" r="1.15"/>
<circle cx="105.7" cy="537.4" r="1.15"/>
<circle cx="107.2" cy="547.7" r="1.15"/>
<circle cx="111.7" cy="542.3" r="1.15"/>
<circle cx="114.4" cy="546.8" r="1.15"/>
<circle cx="114.0" cy="552.0" r="1.15"/>
<circle cx="116.2" cy="536.9" r="1.15"/>
<circle cx="118.7" cy="545.9" r="1.15"/>
<circle cx="123.7" cy="528.7" r="1.15"/>
<circle cx="126.4" cy="542.2" r="1.15"/>
<circle cx="133.7" cy="529.4" r="1.15"/>
<circle cx="132.2" cy="535.2" r="1.15"/>
<circle cx="131.9" cy="541.3" r="1.15"/>
<circle cx="136.1" cy="540.2" r="1.15"/>
<circle cx="134.6" cy="545.1" r="1.15"/>
<circle cx="131.4" cy="549.8" r="1.15"/>
<circle cx="148.2" cy="534.9" r="1.15"/>
<circle cx="158.2" cy="524.1" r="1.15"/>
<circle cx="159.7" cy="531.0" r="1.15"/>
<circle cx="164.3" cy="530.1" r="1.15"/>
<circle cx="162.4" cy="536.8" r="1.15"/>
<circle cx="167.7" cy="541.2" r="1.15"/>
<circle cx="175.2" cy="523.8" r="1.15"/>
<circle cx="181.9" cy="524.8" r="1.15"/>
<circle cx="189.1" cy="528.3" r="1.15"/>
<circle cx="185.5" cy="537.2" r="1.15"/>
<circle cx="198.5" cy="521.4" r="1.15"/>
<circle cx="202.6" cy="532.9" r="1.15"/>
<circle cx="219.0" cy="530.3" r="1.15"/>
<circle cx="217.3" cy="531.0" r="1.15"/>
<circle cx="236.3" cy="524.3" r="1.15"/>
<circle cx="236.6" cy="525.1" r="1.15"/>
<circle cx="252.9" cy="524.8" r="1.15"/>
<circle cx="226.1" cy="533.7" r="1.15"/>
<circle cx="226.2" cy="532.7" r="1.15"/>
<circle cx="223.1" cy="537.7" r="1.15"/>
<circle cx="221.8" cy="538.3" r="1.15"/>
<circle cx="228.9" cy="536.9" r="1.15"/>
<circle cx="229.5" cy="536.7" r="1.15"/>
<circle cx="235.5" cy="542.0" r="1.15"/>
<circle cx="239.3" cy="542.2" r="1.15"/>
<circle cx="238.3" cy="541.4" r="1.15"/>
<circle cx="238.9" cy="542.7" r="1.15"/>
<circle cx="241.0" cy="545.1" r="1.15"/>
<circle cx="241.5" cy="544.7" r="1.15"/>
<circle cx="227.1" cy="546.8" r="1.15"/>
<circle cx="227.3" cy="546.4" r="1.15"/>
<circle cx="230.0" cy="547.7" r="1.15"/>
<circle cx="248.8" cy="534.5" r="1.15"/>
<circle cx="248.0" cy="533.5" r="1.15"/>
<circle cx="247.4" cy="535.1" r="1.15"/>
<circle cx="258.8" cy="531.7" r="1.15"/>
<circle cx="254.4" cy="539.5" r="1.15"/>
<circle cx="254.3" cy="538.6" r="1.15"/>
<circle cx="253.0" cy="540.0" r="1.15"/>
<circle cx="249.5" cy="549.7" r="1.15"/>
<circle cx="251.5" cy="550.4" r="1.15"/>
<circle cx="249.7" cy="549.7" r="1.15"/>
<circle cx="246.4" cy="549.5" r="1.15"/>
<circle cx="254.9" cy="547.9" r="1.15"/>
<circle cx="256.8" cy="549.3" r="1.15"/>
<circle cx="254.0" cy="553.8" r="1.15"/>
<circle cx="254.5" cy="554.3" r="1.15"/>
<circle cx="259.5" cy="552.2" r="1.15"/>
<circle cx="267.3" cy="545.8" r="1.15"/>
<circle cx="227.1" cy="591.9" r="1.15"/>
<circle cx="227.6" cy="590.7" r="1.15"/>
<circle cx="229.8" cy="594.5" r="1.15"/>
<circle cx="230.8" cy="576.9" r="1.15"/>
<circle cx="236.1" cy="576.3" r="1.15"/>
<circle cx="241.0" cy="574.6" r="1.15"/>
<circle cx="239.8" cy="584.5" r="1.15"/>
<circle cx="238.4" cy="590.8" r="1.15"/>
<circle cx="239.9" cy="593.0" r="1.15"/>
<circle cx="246.8" cy="573.0" r="1.15"/>
<circle cx="249.8" cy="570.8" r="1.15"/>
<circle cx="250.9" cy="571.8" r="1.15"/>
<circle cx="252.6" cy="571.1" r="1.15"/>
<circle cx="246.9" cy="579.5" r="1.15"/>
<circle cx="249.7" cy="587.3" r="1.15"/>
<circle cx="249.4" cy="587.5" r="1.15"/>
<circle cx="250.2" cy="585.2" r="1.15"/>
<circle cx="248.7" cy="587.0" r="1.15"/>
<circle cx="250.9" cy="589.5" r="1.15"/>
<circle cx="258.1" cy="578.3" r="1.15"/>
<circle cx="260.7" cy="572.3" r="1.15"/>
<circle cx="259.6" cy="572.8" r="1.15"/>
<circle cx="260.4" cy="571.3" r="1.15"/>
<circle cx="268.0" cy="571.0" r="1.15"/>
<circle cx="267.4" cy="572.7" r="1.15"/>
<circle cx="265.3" cy="579.9" r="1.15"/>
<circle cx="259.4" cy="585.2" r="1.15"/>
<circle cx="260.8" cy="584.5" r="1.15"/>
<circle cx="260.1" cy="587.7" r="1.15"/>
<circle cx="260.8" cy="587.2" r="1.15"/>
<circle cx="261.3" cy="587.1" r="1.15"/>
<circle cx="269.8" cy="579.8" r="1.15"/>
<circle cx="270.4" cy="583.0" r="1.15"/>
<circle cx="271.5" cy="584.3" r="1.15"/>
<circle cx="272.0" cy="585.8" r="1.15"/>
<circle cx="270.5" cy="585.2" r="1.15"/>
<circle cx="269.7" cy="596.7" r="1.15"/>
<circle cx="269.3" cy="596.7" r="1.15"/>
<circle cx="271.3" cy="596.6" r="1.15"/>
<circle cx="255.8" cy="599.7" r="1.15"/>
<circle cx="247.0" cy="601.3" r="1.15"/>
<circle cx="246.6" cy="602.6" r="1.15"/>
<circle cx="247.8" cy="601.5" r="1.15"/>
<circle cx="240.8" cy="603.0" r="1.15"/>
<circle cx="281.8" cy="584.6" r="1.15"/>
<circle cx="284.5" cy="581.1" r="1.15"/>
<circle cx="282.8" cy="580.6" r="1.15"/>
<circle cx="284.5" cy="581.6" r="1.15"/>
<circle cx="291.6" cy="580.8" r="1.15"/>
<circle cx="290.4" cy="580.9" r="1.15"/>
<circle cx="290.1" cy="581.2" r="1.15"/>
<circle cx="291.6" cy="582.2" r="1.15"/>
<circle cx="291.1" cy="581.4" r="1.15"/>
<circle cx="285.5" cy="593.6" r="1.15"/>
<circle cx="303.6" cy="579.9" r="1.15"/>
<circle cx="303.1" cy="579.7" r="1.15"/>
<circle cx="304.7" cy="582.8" r="1.15"/>
<circle cx="301.4" cy="591.3" r="1.15"/>
<circle cx="319.0" cy="588.4" r="1.15"/>
<circle cx="322.6" cy="588.6" r="1.15"/>
<circle cx="334.4" cy="586.3" r="1.15"/>
<circle cx="340.3" cy="585.1" r="1.15"/>
<circle cx="343.3" cy="585.1" r="1.15"/>
<circle cx="343.9" cy="586.4" r="1.15"/>
<circle cx="344.8" cy="586.3" r="1.15"/>
<circle cx="338.7" cy="598.9" r="1.15"/>
<circle cx="340.2" cy="597.3" r="1.15"/>
<circle cx="345.9" cy="597.7" r="1.15"/>
<circle cx="357.6" cy="595.8" r="1.15"/>
<circle cx="325.6" cy="600.5" r="1.15"/>
<circle cx="324.6" cy="600.0" r="1.15"/>
<circle cx="326.0" cy="601.3" r="1.15"/>
<circle cx="314.2" cy="602.3" r="1.15"/>
<circle cx="314.5" cy="601.0" r="1.15"/>
<circle cx="313.5" cy="602.5" r="1.15"/>
<circle cx="316.5" cy="602.6" r="1.15"/>
<circle cx="303.0" cy="604.0" r="1.15"/>
<circle cx="292.4" cy="606.6" r="1.15"/>
<circle cx="290.6" cy="606.2" r="1.15"/>
<circle cx="292.6" cy="607.9" r="1.15"/>
<circle cx="293.0" cy="605.3" r="1.15"/>
<circle cx="284.0" cy="608.8" r="1.15"/>
<circle cx="284.2" cy="609.5" r="1.15"/>
<circle cx="284.6" cy="609.7" r="1.15"/>
<circle cx="278.2" cy="610.2" r="1.15"/>
<circle cx="254.1" cy="474.0" r="1.15"/>
<circle cx="265.9" cy="482.9" r="1.15"/>
<circle cx="212.6" cy="484.4" r="1.15"/>
<circle cx="215.7" cy="491.0" r="1.15"/>
<circle cx="225.9" cy="499.0" r="1.15"/>
<circle cx="255.9" cy="496.5" r="1.15"/>
<circle cx="260.5" cy="500.4" r="1.15"/>
<circle cx="267.4" cy="495.8" r="1.15"/>
<circle cx="272.1" cy="505.2" r="1.15"/>
<circle cx="273.5" cy="514.0" r="1.15"/>
<circle cx="171.6" cy="504.4" r="1.15"/>
<circle cx="184.7" cy="514.5" r="1.15"/>
<circle cx="216.9" cy="508.0" r="1.15"/>
<circle cx="221.0" cy="512.0" r="1.15"/>
<circle cx="231.4" cy="508.1" r="1.15"/>
<circle cx="230.9" cy="517.4" r="1.15"/>
<circle cx="145.3" cy="517.8" r="1.15"/>
<circle cx="156.1" cy="518.5" r="1.15"/>
<circle cx="198.2" cy="520.3" r="1.15"/>
<circle cx="249.0" cy="467.0" r="1.15"/>
<circle cx="177.8" cy="508.4" r="1.15"/>
<circle cx="272.8" cy="524.8" r="1.15"/>
<circle cx="277.3" cy="526.1" r="1.15"/>
<circle cx="277.4" cy="527.5" r="1.15"/>
<circle cx="274.2" cy="525.9" r="1.15"/>
<circle cx="277.2" cy="526.4" r="1.15"/>
<circle cx="282.2" cy="526.6" r="1.15"/>
<circle cx="284.9" cy="527.8" r="1.15"/>
<circle cx="282.8" cy="526.6" r="1.15"/>
<circle cx="279.3" cy="531.9" r="1.15"/>
<circle cx="289.1" cy="532.2" r="1.15"/>
<circle cx="284.8" cy="534.3" r="1.15"/>
<circle cx="283.6" cy="537.0" r="1.15"/>
<circle cx="279.9" cy="538.8" r="1.15"/>
<circle cx="286.2" cy="539.4" r="1.15"/>
<circle cx="287.2" cy="538.7" r="1.15"/>
<circle cx="286.6" cy="540.0" r="1.15"/>
<circle cx="286.0" cy="539.5" r="1.15"/>
<circle cx="289.9" cy="542.0" r="1.15"/>
<circle cx="295.8" cy="546.6" r="1.15"/>
<circle cx="297.8" cy="547.1" r="1.15"/>
<circle cx="272.6" cy="548.4" r="1.15"/>
<circle cx="276.5" cy="554.9" r="1.15"/>
<circle cx="282.5" cy="553.9" r="1.15"/>
<circle cx="286.9" cy="554.3" r="1.15"/>
<circle cx="287.2" cy="553.8" r="1.15"/>
<circle cx="286.0" cy="552.6" r="1.15"/>
<circle cx="287.3" cy="553.5" r="1.15"/>
<circle cx="272.5" cy="560.6" r="1.15"/>
<circle cx="271.0" cy="561.6" r="1.15"/>
<circle cx="272.9" cy="559.5" r="1.15"/>
<circle cx="284.0" cy="559.8" r="1.15"/>
<circle cx="288.0" cy="561.6" r="1.15"/>
<circle cx="287.1" cy="564.4" r="1.15"/>
<circle cx="291.6" cy="565.9" r="1.15"/>
<circle cx="301.4" cy="561.9" r="1.15"/>
<circle cx="302.9" cy="563.4" r="1.15"/>
<circle cx="312.7" cy="571.6" r="1.15"/>
<circle cx="313.3" cy="571.8" r="1.15"/>
<circle cx="314.0" cy="573.0" r="1.15"/>
<circle cx="312.5" cy="573.7" r="1.15"/>
<circle cx="314.6" cy="574.2" r="1.15"/>
<circle cx="313.8" cy="572.1" r="1.15"/>
<circle cx="303.8" cy="577.4" r="1.15"/>
<circle cx="290.9" cy="579.1" r="1.15"/>
<circle cx="285.0" cy="579.5" r="1.15"/>
<circle cx="285.8" cy="578.4" r="1.15"/>
<circle cx="283.0" cy="578.4" r="1.15"/>
<circle cx="284.8" cy="578.7" r="1.15"/>
<circle cx="328.3" cy="530.7" r="1.15"/>
<circle cx="331.8" cy="531.9" r="1.15"/>
<circle cx="329.4" cy="532.5" r="1.15"/>
<circle cx="336.8" cy="527.0" r="1.15"/>
<circle cx="342.2" cy="527.1" r="1.15"/>
<circle cx="341.8" cy="525.5" r="1.15"/>
<circle cx="340.9" cy="528.9" r="1.15"/>
<circle cx="335.0" cy="534.0" r="1.15"/>
<circle cx="334.6" cy="533.8" r="1.15"/>
<circle cx="341.4" cy="537.3" r="1.15"/>
<circle cx="317.4" cy="539.2" r="1.15"/>
<circle cx="317.8" cy="537.0" r="1.15"/>
<circle cx="318.6" cy="540.1" r="1.15"/>
<circle cx="322.6" cy="537.5" r="1.15"/>
<circle cx="328.2" cy="546.6" r="1.15"/>
<circle cx="330.7" cy="548.1" r="1.15"/>
<circle cx="325.8" cy="550.6" r="1.15"/>
<circle cx="324.7" cy="550.7" r="1.15"/>
<circle cx="322.0" cy="552.6" r="1.15"/>
<circle cx="326.8" cy="553.3" r="1.15"/>
<circle cx="329.9" cy="553.4" r="1.15"/>
<circle cx="341.7" cy="555.7" r="1.15"/>
<circle cx="343.9" cy="558.2" r="1.15"/>
<circle cx="344.3" cy="558.6" r="1.15"/>
<circle cx="342.6" cy="558.6" r="1.15"/>
<circle cx="344.4" cy="559.6" r="1.15"/>
<circle cx="349.6" cy="555.3" r="1.15"/>
<circle cx="349.8" cy="557.2" r="1.15"/>
<circle cx="348.5" cy="555.3" r="1.15"/>
<circle cx="351.6" cy="556.6" r="1.15"/>
<circle cx="352.7" cy="556.0" r="1.15"/>
<circle cx="362.7" cy="529.9" r="1.15"/>
<circle cx="370.2" cy="533.6" r="1.15"/>
<circle cx="372.4" cy="532.2" r="1.15"/>
<circle cx="369.3" cy="533.3" r="1.15"/>
<circle cx="370.6" cy="532.2" r="1.15"/>
<circle cx="377.7" cy="539.7" r="1.15"/>
<circle cx="380.9" cy="539.0" r="1.15"/>
<circle cx="380.4" cy="538.4" r="1.15"/>
<circle cx="379.2" cy="542.1" r="1.15"/>
<circle cx="378.7" cy="541.0" r="1.15"/>
<circle cx="378.0" cy="541.4" r="1.15"/>
<circle cx="372.9" cy="544.2" r="1.15"/>
<circle cx="375.5" cy="545.0" r="1.15"/>
<circle cx="375.3" cy="546.4" r="1.15"/>
<circle cx="378.5" cy="545.8" r="1.15"/>
<circle cx="363.5" cy="564.3" r="1.15"/>
<circle cx="369.5" cy="564.2" r="1.15"/>
<circle cx="370.3" cy="565.3" r="1.15"/>
<circle cx="369.0" cy="567.9" r="1.15"/>
<circle cx="369.5" cy="565.0" r="1.15"/>
<circle cx="370.8" cy="564.8" r="1.15"/>
<circle cx="396.3" cy="546.9" r="1.15"/>
<circle cx="396.0" cy="547.3" r="1.15"/>
<circle cx="399.5" cy="549.3" r="1.15"/>
<circle cx="398.1" cy="548.5" r="1.15"/>
<circle cx="401.1" cy="549.4" r="1.15"/>
<circle cx="397.8" cy="548.9" r="1.15"/>
<circle cx="402.5" cy="546.9" r="1.15"/>
<circle cx="404.9" cy="547.8" r="1.15"/>
<circle cx="405.5" cy="547.9" r="1.15"/>
<circle cx="418.0" cy="555.5" r="1.15"/>
<circle cx="417.7" cy="553.4" r="1.15"/>
<circle cx="417.5" cy="557.8" r="1.15"/>
<circle cx="418.6" cy="557.0" r="1.15"/>
<circle cx="420.3" cy="556.2" r="1.15"/>
<circle cx="422.8" cy="556.3" r="1.15"/>
<circle cx="423.1" cy="557.3" r="1.15"/>
<circle cx="148.3" cy="578.4" r="1.15"/>
<circle cx="132.4" cy="550.5" r="1.15"/>
<circle cx="124.5" cy="575.0" r="1.15"/>
<circle cx="119.4" cy="557.6" r="1.15"/>
<circle cx="143.1" cy="557.3" r="1.15"/>
<circle cx="133.2" cy="574.8" r="1.15"/>
<circle cx="164.2" cy="555.7" r="1.15"/>
<circle cx="88.6" cy="562.6" r="1.15"/>
<circle cx="156.6" cy="562.9" r="1.15"/>
<circle cx="98.4" cy="574.1" r="1.15"/>
<circle cx="164.8" cy="548.8" r="1.15"/>
<circle cx="135.7" cy="564.9" r="1.15"/>
<circle cx="104.2" cy="574.9" r="1.15"/>
<circle cx="75.1" cy="566.5" r="1.15"/>
<circle cx="110.1" cy="578.3" r="1.15"/>
<circle cx="98.5" cy="559.7" r="1.15"/>
<circle cx="163.8" cy="574.6" r="1.15"/>
<circle cx="155.5" cy="552.1" r="1.15"/>
<circle cx="119.9" cy="563.9" r="1.15"/>
<circle cx="151.2" cy="562.1" r="1.15"/>
<circle cx="152.2" cy="581.6" r="1.15"/>
<circle cx="138.4" cy="559.3" r="1.15"/>
<circle cx="66.9" cy="572.2" r="1.15"/>
<circle cx="142.3" cy="576.3" r="1.15"/>
<circle cx="137.6" cy="562.0" r="1.15"/>
<circle cx="81.9" cy="570.2" r="1.15"/>
<circle cx="114.2" cy="574.2" r="1.15"/>
<circle cx="93.9" cy="566.0" r="1.15"/>
<circle cx="81.4" cy="573.0" r="1.15"/>
<circle cx="115.1" cy="561.2" r="1.15"/>
<circle cx="159.7" cy="568.7" r="1.15"/>
<circle cx="100.8" cy="564.5" r="1.15"/>
<circle cx="157.5" cy="570.7" r="1.15"/>
<circle cx="161.0" cy="577.8" r="1.15"/>
<circle cx="146.0" cy="572.9" r="1.15"/>
<circle cx="135.2" cy="581.4" r="1.15"/>
<circle cx="112.0" cy="576.6" r="1.15"/>
<circle cx="81.8" cy="564.8" r="1.15"/>
<circle cx="93.9" cy="571.4" r="1.15"/>
<circle cx="127.8" cy="573.0" r="1.15"/>
<circle cx="132.4" cy="577.5" r="1.15"/>
<circle cx="147.2" cy="556.0" r="1.15"/>
<circle cx="120.5" cy="572.6" r="1.15"/>
<circle cx="136.1" cy="553.9" r="1.15"/>
<circle cx="87.8" cy="576.2" r="1.15"/>
<circle cx="125.9" cy="551.7" r="1.15"/>
<circle cx="138.4" cy="571.8" r="1.15"/>
<circle cx="78.3" cy="571.0" r="1.15"/>
<circle cx="121.4" cy="552.9" r="1.15"/>
<circle cx="164.1" cy="566.9" r="1.15"/>
<circle cx="146.5" cy="549.4" r="1.15"/>
<circle cx="153.3" cy="546.4" r="1.15"/>
<circle cx="85.6" cy="572.6" r="1.15"/>
<circle cx="140.2" cy="567.6" r="1.15"/>
<circle cx="126.9" cy="557.4" r="1.15"/>
<circle cx="90.3" cy="576.4" r="1.15"/>
<circle cx="151.6" cy="564.3" r="1.15"/>
<circle cx="127.9" cy="579.8" r="1.15"/>
<circle cx="89.7" cy="564.9" r="1.15"/>
<circle cx="130.3" cy="567.7" r="1.15"/>
<circle cx="117.1" cy="556.1" r="1.15"/>
<circle cx="134.2" cy="554.4" r="1.15"/>
<circle cx="158.9" cy="574.1" r="1.15"/>
<circle cx="164.2" cy="562.7" r="1.15"/>
<circle cx="148.3" cy="564.9" r="1.15"/>
<circle cx="132.0" cy="582.9" r="1.15"/>
<circle cx="155.0" cy="558.5" r="1.15"/>
<circle cx="100.9" cy="577.2" r="1.15"/>
<circle cx="142.4" cy="571.2" r="1.15"/>
<circle cx="148.0" cy="573.7" r="1.15"/>
<circle cx="67.3" cy="569.2" r="1.15"/>
<circle cx="163.2" cy="553.2" r="1.15"/>
<circle cx="110.6" cy="566.3" r="1.15"/>
<circle cx="144.6" cy="583.4" r="1.15"/>
<circle cx="139.6" cy="580.1" r="1.15"/>
<circle cx="68.5" cy="574.3" r="1.15"/>
<circle cx="90.4" cy="563.0" r="1.15"/>
<circle cx="149.3" cy="581.1" r="1.15"/>
<circle cx="113.2" cy="560.4" r="1.15"/>
<circle cx="152.3" cy="556.2" r="1.15"/>
<circle cx="140.1" cy="552.6" r="1.15"/>
<circle cx="103.4" cy="567.9" r="1.15"/>
<circle cx="102.4" cy="561.0" r="1.15"/>
<circle cx="147.4" cy="560.8" r="1.15"/>
<circle cx="108.6" cy="567.8" r="1.15"/>
<circle cx="119.0" cy="556.6" r="1.15"/>
<circle cx="107.2" cy="564.4" r="1.15"/>
<circle cx="133.9" cy="568.5" r="1.15"/>
<circle cx="123.2" cy="554.8" r="1.15"/>
<circle cx="125.2" cy="565.9" r="1.15"/>
<circle cx="136.8" cy="564.9" r="1.15"/>
<circle cx="111.7" cy="567.2" r="1.15"/>
<circle cx="156.2" cy="580.1" r="1.15"/>
<circle cx="138.6" cy="582.5" r="1.15"/>
<circle cx="157.7" cy="560.0" r="1.15"/>
<circle cx="118.3" cy="562.3" r="1.15"/>
<circle cx="95.7" cy="572.4" r="1.15"/>
<circle cx="115.8" cy="572.6" r="1.15"/>
<circle cx="146.4" cy="555.0" r="1.15"/>
<circle cx="84.6" cy="566.8" r="1.15"/>
<circle cx="157.8" cy="579.3" r="1.15"/>
<circle cx="142.7" cy="579.1" r="1.15"/>
<circle cx="103.5" cy="572.6" r="1.15"/>
<circle cx="133.6" cy="559.5" r="1.15"/>
<circle cx="151.3" cy="566.9" r="1.15"/>
<circle cx="159.0" cy="556.5" r="1.15"/>
<circle cx="86.6" cy="575.2" r="1.15"/>
<circle cx="93.2" cy="561.7" r="1.15"/>
<circle cx="129.0" cy="575.4" r="1.15"/>
<circle cx="113.3" cy="566.4" r="1.15"/>
<circle cx="82.9" cy="564.0" r="1.15"/>
<circle cx="95.5" cy="568.5" r="1.15"/>
<circle cx="129.9" cy="557.6" r="1.15"/>
<circle cx="158.1" cy="547.4" r="1.15"/>
<circle cx="85.2" cy="570.9" r="1.15"/>
<circle cx="96.1" cy="566.9" r="1.15"/>
<circle cx="107.4" cy="562.0" r="1.15"/>
<circle cx="83.5" cy="563.0" r="1.15"/>
<circle cx="118.2" cy="568.7" r="1.15"/>
<circle cx="78.9" cy="572.8" r="1.15"/>
<circle cx="63.0" cy="572.4" r="1.15"/>
<circle cx="153.6" cy="573.1" r="1.15"/>
<circle cx="144.2" cy="551.0" r="1.15"/>
<circle cx="111.2" cy="571.0" r="1.15"/>
<circle cx="138.4" cy="574.2" r="1.15"/>
<circle cx="111.3" cy="563.5" r="1.15"/>
<circle cx="123.7" cy="559.5" r="1.15"/>
<circle cx="107.1" cy="566.3" r="1.15"/>
<circle cx="146.1" cy="573.5" r="1.15"/>
<circle cx="108.0" cy="580.1" r="1.15"/>
<circle cx="137.3" cy="584.4" r="1.15"/>
<circle cx="129.7" cy="555.4" r="1.15"/>
<circle cx="142.8" cy="561.5" r="1.15"/>
<circle cx="125.0" cy="563.3" r="1.15"/>
<circle cx="147.0" cy="576.6" r="1.15"/>
<circle cx="161.1" cy="568.3" r="1.15"/>
<circle cx="149.8" cy="546.6" r="1.15"/>
<circle cx="82.5" cy="567.7" r="1.15"/>
<circle cx="73.4" cy="573.7" r="1.15"/>
<circle cx="151.7" cy="548.1" r="1.15"/>
<circle cx="135.4" cy="562.2" r="1.15"/>
<circle cx="125.6" cy="568.9" r="1.15"/>
<circle cx="147.2" cy="566.3" r="1.15"/>
<circle cx="106.5" cy="563.7" r="1.15"/>
<circle cx="105.8" cy="574.3" r="1.15"/>
<circle cx="119.8" cy="554.0" r="1.15"/>
<circle cx="132.0" cy="575.6" r="1.15"/>
<circle cx="144.4" cy="581.5" r="1.15"/>
<circle cx="145.5" cy="578.8" r="1.15"/>
<circle cx="155.8" cy="577.2" r="1.15"/>
<circle cx="98.2" cy="577.4" r="1.15"/>
<circle cx="147.1" cy="561.6" r="1.15"/>
<circle cx="164.6" cy="570.3" r="1.15"/>
<circle cx="139.3" cy="570.1" r="1.15"/>
<circle cx="121.6" cy="566.4" r="1.15"/>
<circle cx="129.0" cy="551.5" r="1.15"/>
<circle cx="113.2" cy="571.2" r="1.15"/>
<circle cx="138.1" cy="554.5" r="1.15"/>
<circle cx="74.0" cy="571.4" r="1.15"/>
<circle cx="148.8" cy="547.1" r="1.15"/>
<circle cx="139.0" cy="550.1" r="1.15"/>
<circle cx="163.2" cy="577.7" r="1.15"/>
<circle cx="128.5" cy="567.4" r="1.15"/>
<circle cx="108.3" cy="560.4" r="1.15"/>
<circle cx="114.7" cy="565.1" r="1.15"/>
<circle cx="97.6" cy="569.2" r="1.15"/>
<circle cx="128.0" cy="572.7" r="1.15"/>
<circle cx="114.0" cy="563.5" r="1.15"/>
<circle cx="74.3" cy="565.7" r="1.15"/>
<circle cx="98.7" cy="566.8" r="1.15"/>
<circle cx="144.9" cy="579.3" r="1.15"/>
<circle cx="140.2" cy="561.5" r="1.15"/>
<circle cx="149.2" cy="557.7" r="1.15"/>
<circle cx="78.0" cy="562.8" r="1.15"/>
<circle cx="162.2" cy="559.1" r="1.15"/>
<circle cx="219.9" cy="569.3" r="1.15"/>
<circle cx="174.9" cy="560.4" r="1.15"/>
<circle cx="216.6" cy="567.8" r="1.15"/>
<circle cx="180.7" cy="565.5" r="1.15"/>
<circle cx="165.9" cy="575.3" r="1.15"/>
<circle cx="205.2" cy="570.3" r="1.15"/>
<circle cx="167.6" cy="572.1" r="1.15"/>
<circle cx="179.3" cy="552.8" r="1.15"/>
<circle cx="176.1" cy="554.5" r="1.15"/>
<circle cx="177.7" cy="550.4" r="1.15"/>
<circle cx="172.5" cy="555.9" r="1.15"/>
<circle cx="189.6" cy="547.0" r="1.15"/>
<circle cx="168.7" cy="567.5" r="1.15"/>
<circle cx="174.7" cy="566.1" r="1.15"/>
<circle cx="235.7" cy="566.8" r="1.15"/>
<circle cx="176.6" cy="574.1" r="1.15"/>
<circle cx="195.7" cy="556.8" r="1.15"/>
<circle cx="196.6" cy="572.1" r="1.15"/>
<circle cx="195.2" cy="549.5" r="1.15"/>
<circle cx="185.4" cy="553.6" r="1.15"/>
<circle cx="208.9" cy="560.6" r="1.15"/>
<circle cx="206.8" cy="569.8" r="1.15"/>
<circle cx="228.1" cy="568.8" r="1.15"/>
<circle cx="195.4" cy="545.3" r="1.15"/>
<circle cx="179.4" cy="560.7" r="1.15"/>
<circle cx="207.8" cy="556.4" r="1.15"/>
<circle cx="182.5" cy="560.5" r="1.15"/>
<circle cx="165.9" cy="563.5" r="1.15"/>
<circle cx="167.8" cy="552.5" r="1.15"/>
<circle cx="199.0" cy="566.3" r="1.15"/>
<circle cx="169.6" cy="546.9" r="1.15"/>
<circle cx="213.1" cy="568.1" r="1.15"/>
<circle cx="211.7" cy="556.1" r="1.15"/>
<circle cx="173.4" cy="564.4" r="1.15"/>
<circle cx="220.5" cy="563.2" r="1.15"/>
<circle cx="188.5" cy="555.3" r="1.15"/>
<circle cx="177.5" cy="545.8" r="1.15"/>
<circle cx="223.2" cy="567.0" r="1.15"/>
<circle cx="205.7" cy="553.9" r="1.15"/>
<circle cx="195.8" cy="564.6" r="1.15"/>
<circle cx="185.8" cy="543.2" r="1.15"/>
<circle cx="231.0" cy="562.9" r="1.15"/>
<circle cx="208.8" cy="556.6" r="1.15"/>
<circle cx="180.3" cy="555.3" r="1.15"/>
<circle cx="193.0" cy="552.5" r="1.15"/>
<circle cx="192.1" cy="547.7" r="1.15"/>
<circle cx="205.6" cy="561.1" r="1.15"/>
<circle cx="217.8" cy="557.8" r="1.15"/>
<circle cx="182.4" cy="543.5" r="1.15"/>
<circle cx="183.8" cy="548.4" r="1.15"/>
<circle cx="184.0" cy="556.5" r="1.15"/>
<circle cx="172.8" cy="546.1" r="1.15"/>
<circle cx="185.6" cy="572.1" r="1.15"/>
<circle cx="226.2" cy="565.5" r="1.15"/>
<circle cx="188.0" cy="568.1" r="1.15"/>
<circle cx="213.9" cy="560.2" r="1.15"/>
<circle cx="200.9" cy="550.2" r="1.15"/>
<circle cx="179.2" cy="568.2" r="1.15"/>
<circle cx="178.5" cy="557.5" r="1.15"/>
<circle cx="190.7" cy="544.6" r="1.15"/>
<circle cx="185.0" cy="565.1" r="1.15"/>
<circle cx="219.7" cy="571.3" r="1.15"/>
<circle cx="222.2" cy="562.3" r="1.15"/>
<circle cx="175.6" cy="548.0" r="1.15"/>
<circle cx="191.6" cy="563.8" r="1.15"/>
<circle cx="202.4" cy="555.4" r="1.15"/>
<circle cx="169.7" cy="574.6" r="1.15"/>
<circle cx="176.0" cy="558.6" r="1.15"/>
<circle cx="193.6" cy="569.7" r="1.15"/>
<circle cx="169.2" cy="556.8" r="1.15"/>
<circle cx="191.1" cy="567.6" r="1.15"/>
<circle cx="185.1" cy="573.6" r="1.15"/>
<circle cx="212.5" cy="565.3" r="1.15"/>
<circle cx="191.7" cy="557.2" r="1.15"/>
<circle cx="171.1" cy="555.0" r="1.15"/>
<circle cx="136.4" cy="574.2" r="1.15"/>
<circle cx="70.9" cy="570.5" r="1.15"/>
<circle cx="95.3" cy="572.1" r="1.15"/>
<circle cx="117.5" cy="576.7" r="1.15"/>
<circle cx="103.5" cy="574.4" r="1.15"/>
<circle cx="87.0" cy="575.7" r="1.15"/>
<circle cx="133.9" cy="575.4" r="1.15"/>
<circle cx="139.1" cy="581.1" r="1.15"/>
<circle cx="116.8" cy="580.0" r="1.15"/>
<circle cx="78.8" cy="571.0" r="1.15"/>
<circle cx="141.3" cy="576.2" r="1.15"/>
<circle cx="146.1" cy="579.3" r="1.15"/>
<circle cx="116.2" cy="573.8" r="1.15"/>
<circle cx="123.6" cy="577.8" r="1.15"/>
<circle cx="104.5" cy="567.5" r="1.15"/>
<circle cx="123.2" cy="574.7" r="1.15"/>
<circle cx="99.2" cy="567.0" r="1.15"/>
<circle cx="80.7" cy="575.6" r="1.15"/>
<circle cx="129.1" cy="580.1" r="1.15"/>
<circle cx="98.0" cy="577.6" r="1.15"/>
<circle cx="65.7" cy="571.0" r="1.15"/>
<circle cx="149.7" cy="579.9" r="1.15"/>
<circle cx="132.7" cy="582.8" r="1.15"/>
<circle cx="73.6" cy="567.9" r="1.15"/>
<circle cx="111.5" cy="568.2" r="1.15"/>
<circle cx="85.1" cy="570.4" r="1.15"/>
<circle cx="92.4" cy="567.6" r="1.15"/>
<circle cx="144.9" cy="581.0" r="1.15"/>
<circle cx="88.8" cy="570.8" r="1.15"/>
<circle cx="109.5" cy="569.6" r="1.15"/>
<circle cx="84.6" cy="567.8" r="1.15"/>
<circle cx="139.6" cy="584.1" r="1.15"/>
<circle cx="116.7" cy="576.3" r="1.15"/>
<circle cx="112.3" cy="578.2" r="1.15"/>
<circle cx="133.7" cy="584.3" r="1.15"/>
<circle cx="129.1" cy="574.7" r="1.15"/>
<circle cx="138.9" cy="583.4" r="1.15"/>
<circle cx="112.3" cy="571.1" r="1.15"/>
<circle cx="139.3" cy="581.6" r="1.15"/>
<circle cx="130.7" cy="584.3" r="1.15"/>
<circle cx="79.7" cy="573.2" r="1.15"/>
<circle cx="137.1" cy="574.1" r="1.15"/>
<circle cx="129.8" cy="573.9" r="1.15"/>
<circle cx="140.9" cy="579.4" r="1.15"/>
<circle cx="118.5" cy="568.8" r="1.15"/>
<circle cx="92.2" cy="570.6" r="1.15"/>
<circle cx="113.7" cy="567.0" r="1.15"/>
<circle cx="101.3" cy="571.2" r="1.15"/>
<circle cx="93.2" cy="575.4" r="1.15"/>
<circle cx="152.8" cy="581.7" r="1.15"/>
<circle cx="89.8" cy="568.2" r="1.15"/>
<circle cx="123.1" cy="583.0" r="1.15"/>
<circle cx="124.0" cy="571.4" r="1.15"/>
<circle cx="104.4" cy="579.5" r="1.15"/>
<circle cx="131.7" cy="578.5" r="1.15"/>
<circle cx="73.7" cy="571.1" r="1.15"/>
<circle cx="134.4" cy="577.9" r="1.15"/>
<circle cx="88.3" cy="577.7" r="1.15"/>
<circle cx="106.5" cy="574.9" r="1.15"/>
<circle cx="119.0" cy="576.8" r="1.15"/>
<circle cx="219.4" cy="590.4" r="1.15"/>
<circle cx="230.7" cy="585.3" r="1.15"/>
<circle cx="177.4" cy="585.5" r="1.15"/>
<circle cx="199.0" cy="580.5" r="1.15"/>
<circle cx="205.7" cy="595.3" r="1.15"/>
<circle cx="210.0" cy="588.3" r="1.15"/>
<circle cx="192.0" cy="590.5" r="1.15"/>
<circle cx="192.1" cy="596.6" r="1.15"/>
<circle cx="216.6" cy="584.9" r="1.15"/>
<circle cx="190.4" cy="584.6" r="1.15"/>
<circle cx="186.8" cy="592.6" r="1.15"/>
<circle cx="220.7" cy="575.8" r="1.15"/>
<circle cx="182.0" cy="594.1" r="1.15"/>
<circle cx="195.8" cy="584.0" r="1.15"/>
<circle cx="209.5" cy="576.6" r="1.15"/>
<circle cx="220.1" cy="592.7" r="1.15"/>
<circle cx="229.6" cy="591.9" r="1.15"/>
<circle cx="199.4" cy="597.3" r="1.15"/>
<circle cx="185.0" cy="585.4" r="1.15"/>
<circle cx="197.6" cy="589.9" r="1.15"/>
<circle cx="225.4" cy="581.7" r="1.15"/>
<circle cx="222.3" cy="583.6" r="1.15"/>
<circle cx="178.5" cy="591.4" r="1.15"/>
<circle cx="176.5" cy="585.4" r="1.15"/>
<circle cx="229.2" cy="579.2" r="1.15"/>
<circle cx="199.2" cy="586.3" r="1.15"/>
<circle cx="171.5" cy="584.6" r="1.15"/>
<circle cx="169.8" cy="592.0" r="1.15"/>
<circle cx="231.8" cy="596.3" r="1.15"/>
<circle cx="203.6" cy="577.2" r="1.15"/>
<circle cx="174.5" cy="592.0" r="1.15"/>
<circle cx="190.1" cy="589.2" r="1.15"/>
<circle cx="228.2" cy="580.8" r="1.15"/>
<circle cx="208.0" cy="588.3" r="1.15"/>
<circle cx="222.5" cy="598.0" r="1.15"/>
<circle cx="205.5" cy="588.6" r="1.15"/>
<circle cx="223.0" cy="586.8" r="1.15"/>
<circle cx="225.9" cy="585.2" r="1.15"/>
<circle cx="207.9" cy="580.2" r="1.15"/>
<circle cx="213.5" cy="582.5" r="1.15"/>
<circle cx="214.0" cy="583.4" r="1.15"/>
<circle cx="213.2" cy="589.4" r="1.15"/>
<circle cx="215.8" cy="582.3" r="1.15"/>
<circle cx="213.6" cy="598.1" r="1.15"/>
<circle cx="203.7" cy="592.3" r="1.15"/>
<circle cx="192.8" cy="587.4" r="1.15"/>
<circle cx="179.8" cy="583.5" r="1.15"/>
<circle cx="215.8" cy="577.5" r="1.15"/>
<circle cx="227.2" cy="577.9" r="1.15"/>
<circle cx="183.6" cy="588.6" r="1.15"/>
<circle cx="220.1" cy="585.9" r="1.15"/>
<circle cx="224.4" cy="595.5" r="1.15"/>
<circle cx="200.4" cy="592.7" r="1.15"/>
<circle cx="202.9" cy="584.8" r="1.15"/>
<circle cx="227.3" cy="587.9" r="1.15"/>
<circle cx="195.8" cy="588.6" r="1.15"/>
<circle cx="181.8" cy="588.3" r="1.15"/>
<circle cx="209.3" cy="587.5" r="1.15"/>
<circle cx="218.6" cy="587.2" r="1.15"/>
<circle cx="225.7" cy="598.4" r="1.15"/>
<circle cx="267.3" cy="576.4" r="1.15"/>
<circle cx="240.9" cy="585.0" r="1.15"/>
<circle cx="296.1" cy="584.0" r="1.15"/>
<circle cx="259.9" cy="591.7" r="1.15"/>
<circle cx="280.4" cy="578.0" r="1.15"/>
<circle cx="271.7" cy="587.0" r="1.15"/>
<circle cx="240.9" cy="591.8" r="1.15"/>
<circle cx="290.0" cy="583.7" r="1.15"/>
<circle cx="261.4" cy="578.4" r="1.15"/>
<circle cx="246.2" cy="578.9" r="1.15"/>
<circle cx="270.4" cy="569.1" r="1.15"/>
<circle cx="267.7" cy="588.1" r="1.15"/>
<circle cx="248.4" cy="571.1" r="1.15"/>
<circle cx="252.9" cy="586.1" r="1.15"/>
<circle cx="233.1" cy="595.3" r="1.15"/>
<circle cx="293.8" cy="578.5" r="1.15"/>
<circle cx="274.5" cy="585.6" r="1.15"/>
<circle cx="232.7" cy="582.1" r="1.15"/>
<circle cx="242.4" cy="596.5" r="1.15"/>
<circle cx="278.7" cy="574.9" r="1.15"/>
<circle cx="282.3" cy="589.0" r="1.15"/>
<circle cx="251.0" cy="574.6" r="1.15"/>
<circle cx="261.9" cy="570.6" r="1.15"/>
<circle cx="256.3" cy="582.7" r="1.15"/>
<circle cx="286.3" cy="582.4" r="1.15"/>
<circle cx="289.7" cy="590.7" r="1.15"/>
<circle cx="266.9" cy="571.5" r="1.15"/>
<circle cx="258.6" cy="578.8" r="1.15"/>
<circle cx="209.9" cy="553.5" r="1.15"/>
<circle cx="212.3" cy="556.8" r="1.15"/>
<circle cx="216.2" cy="557.2" r="1.15"/>
<circle cx="223.7" cy="559.9" r="1.15"/>
<circle cx="221.3" cy="562.2" r="1.15"/>
<circle cx="228.1" cy="563.4" r="1.15"/>
<circle cx="234.1" cy="563.1" r="1.15"/>
<circle cx="231.0" cy="564.0" r="1.15"/>
<circle cx="233.7" cy="566.9" r="1.15"/>
<circle cx="220.3" cy="567.6" r="1.15"/>
<circle cx="224.8" cy="568.3" r="1.15"/>
<circle cx="229.3" cy="562.3" r="1.15"/>
<circle cx="217.3" cy="560.7" r="1.15"/>
<circle cx="212.9" cy="561.6" r="1.15"/>
<circle cx="370.7" cy="594.9" r="1.15"/>
<circle cx="379.3" cy="593.5" r="1.15"/>
</g>
<g fill="none" stroke="#e8141c" stroke-width="1.0">
<circle cx="51.2" cy="559.7" r="2.3"/>
<circle cx="56.9" cy="559.7" r="2.3"/>
<circle cx="51.2" cy="565.4" r="2.3"/>
<circle cx="56.9" cy="565.4" r="2.3"/>
<circle cx="67.3" cy="554.7" r="2.3"/>
<circle cx="68.0" cy="562.2" r="2.3"/>
<circle cx="74.7" cy="554.7" r="2.3"/>
<circle cx="76.0" cy="559.7" r="2.3"/>
<circle cx="85.4" cy="544.8" r="2.3"/>
<circle cx="86.2" cy="553.5" r="2.3"/>
<circle cx="95.8" cy="544.8" r="2.3"/>
<circle cx="95.1" cy="549.8" r="2.3"/>
<circle cx="97.1" cy="552.3" r="2.3"/>
<circle cx="98.3" cy="556.0" r="2.3"/>
<circle cx="105.3" cy="537.9" r="2.3"/>
<circle cx="107.0" cy="547.8" r="2.3"/>
<circle cx="112.0" cy="542.8" r="2.3"/>
<circle cx="114.4" cy="546.8" r="2.3"/>
<circle cx="114.4" cy="551.8" r="2.3"/>
<circle cx="116.4" cy="536.9" r="2.3"/>
<circle cx="118.9" cy="546.1" r="2.3"/>
<circle cx="123.6" cy="528.7" r="2.3"/>
<circle cx="126.1" cy="541.8" r="2.3"/>
<circle cx="133.8" cy="529.4" r="2.3"/>
<circle cx="132.6" cy="535.4" r="2.3"/>
<circle cx="131.8" cy="541.1" r="2.3"/>
<circle cx="136.3" cy="540.3" r="2.3"/>
<circle cx="135.0" cy="544.8" r="2.3"/>
<circle cx="131.3" cy="549.8" r="2.3"/>
<circle cx="148.2" cy="534.9" r="2.3"/>
<circle cx="158.6" cy="524.5" r="2.3"/>
<circle cx="159.9" cy="531.2" r="2.3"/>
<circle cx="164.1" cy="530.4" r="2.3"/>
<circle cx="162.1" cy="536.9" r="2.3"/>
<circle cx="167.8" cy="541.1" r="2.3"/>
<circle cx="175.2" cy="523.7" r="2.3"/>
<circle cx="181.9" cy="525.0" r="2.3"/>
<circle cx="188.9" cy="528.7" r="2.3"/>
<circle cx="185.2" cy="537.4" r="2.3"/>
<circle cx="198.7" cy="521.2" r="2.3"/>
<circle cx="202.9" cy="532.9" r="2.3"/>
<circle cx="219.3" cy="530.4" r="2.3"/>
<circle cx="217.1" cy="531.1" r="2.3"/>
<circle cx="236.4" cy="524.2" r="2.3"/>
<circle cx="236.5" cy="524.9" r="2.3"/>
<circle cx="252.8" cy="524.5" r="2.3"/>
<circle cx="226.5" cy="533.6" r="2.3"/>
<circle cx="226.2" cy="533.1" r="2.3"/>
<circle cx="223.5" cy="537.9" r="2.3"/>
<circle cx="221.9" cy="538.5" r="2.3"/>
<circle cx="229.7" cy="536.9" r="2.3"/>
<circle cx="229.9" cy="537.0" r="2.3"/>
<circle cx="235.9" cy="541.8" r="2.3"/>
<circle cx="239.6" cy="542.3" r="2.3"/>
<circle cx="238.8" cy="541.1" r="2.3"/>
<circle cx="238.6" cy="542.3" r="2.3"/>
<circle cx="240.9" cy="544.8" r="2.3"/>
<circle cx="240.9" cy="544.7" r="2.3"/>
<circle cx="227.2" cy="546.8" r="2.3"/>
<circle cx="227.6" cy="546.5" r="2.3"/>
<circle cx="230.2" cy="547.8" r="2.3"/>
<circle cx="248.8" cy="534.1" r="2.3"/>
<circle cx="248.0" cy="533.3" r="2.3"/>
<circle cx="247.5" cy="534.7" r="2.3"/>
<circle cx="258.7" cy="531.9" r="2.3"/>
<circle cx="254.5" cy="539.4" r="2.3"/>
<circle cx="254.2" cy="538.7" r="2.3"/>
<circle cx="253.3" cy="540.0" r="2.3"/>
<circle cx="249.6" cy="549.8" r="2.3"/>
<circle cx="251.5" cy="550.3" r="2.3"/>
<circle cx="249.7" cy="549.6" r="2.3"/>
<circle cx="246.7" cy="549.9" r="2.3"/>
<circle cx="255.0" cy="548.0" r="2.3"/>
<circle cx="256.9" cy="549.3" r="2.3"/>
<circle cx="254.0" cy="553.5" r="2.3"/>
<circle cx="254.5" cy="554.5" r="2.3"/>
<circle cx="259.5" cy="553.0" r="2.3"/>
<circle cx="267.7" cy="545.6" r="2.3"/>
<circle cx="227.2" cy="592.0" r="2.3"/>
<circle cx="227.7" cy="590.8" r="2.3"/>
<circle cx="229.7" cy="594.4" r="2.3"/>
<circle cx="230.9" cy="577.1" r="2.3"/>
<circle cx="235.9" cy="576.6" r="2.3"/>
<circle cx="240.9" cy="574.6" r="2.3"/>
<circle cx="239.6" cy="584.5" r="2.3"/>
<circle cx="238.4" cy="590.7" r="2.3"/>
<circle cx="239.6" cy="593.2" r="2.3"/>
<circle cx="247.1" cy="573.3" r="2.3"/>
<circle cx="249.6" cy="570.9" r="2.3"/>
<circle cx="250.8" cy="572.1" r="2.3"/>
<circle cx="252.6" cy="571.0" r="2.3"/>
<circle cx="246.6" cy="579.6" r="2.3"/>
<circle cx="249.6" cy="587.0" r="2.3"/>
<circle cx="249.4" cy="587.8" r="2.3"/>
<circle cx="250.0" cy="585.6" r="2.3"/>
<circle cx="248.7" cy="587.2" r="2.3"/>
<circle cx="250.8" cy="589.5" r="2.3"/>
<circle cx="258.2" cy="578.3" r="2.3"/>
<circle cx="260.7" cy="572.1" r="2.3"/>
<circle cx="259.7" cy="573.0" r="2.3"/>
<circle cx="260.7" cy="571.5" r="2.3"/>
<circle cx="267.4" cy="571.4" r="2.3"/>
<circle cx="267.3" cy="572.6" r="2.3"/>
<circle cx="265.7" cy="579.6" r="2.3"/>
<circle cx="259.5" cy="585.0" r="2.3"/>
<circle cx="260.1" cy="584.5" r="2.3"/>
<circle cx="260.7" cy="587.5" r="2.3"/>
<circle cx="260.6" cy="587.3" r="2.3"/>
<circle cx="261.1" cy="587.7" r="2.3"/>
<circle cx="269.4" cy="579.6" r="2.3"/>
<circle cx="270.6" cy="583.3" r="2.3"/>
<circle cx="271.7" cy="583.7" r="2.3"/>
<circle cx="271.9" cy="585.8" r="2.3"/>
<circle cx="270.7" cy="585.1" r="2.3"/>
<circle cx="269.9" cy="596.4" r="2.3"/>
<circle cx="269.0" cy="596.8" r="2.3"/>
<circle cx="271.2" cy="596.5" r="2.3"/>
<circle cx="255.8" cy="599.4" r="2.3"/>
<circle cx="246.6" cy="601.1" r="2.3"/>
<circle cx="246.2" cy="602.3" r="2.3"/>
<circle cx="247.7" cy="601.6" r="2.3"/>
<circle cx="240.9" cy="603.1" r="2.3"/>
<circle cx="281.8" cy="584.5" r="2.3"/>
<circle cx="284.3" cy="581.5" r="2.3"/>
<circle cx="283.1" cy="580.8" r="2.3"/>
<circle cx="284.6" cy="581.7" r="2.3"/>
<circle cx="291.2" cy="580.3" r="2.3"/>
<circle cx="290.5" cy="580.9" r="2.3"/>
<circle cx="290.0" cy="580.6" r="2.3"/>
<circle cx="291.7" cy="582.0" r="2.3"/>
<circle cx="291.6" cy="581.4" r="2.3"/>
<circle cx="285.5" cy="593.9" r="2.3"/>
<circle cx="304.1" cy="580.0" r="2.3"/>
<circle cx="303.2" cy="580.0" r="2.3"/>
<circle cx="304.6" cy="582.8" r="2.3"/>
<circle cx="301.7" cy="591.5" r="2.3"/>
<circle cx="319.0" cy="588.7" r="2.3"/>
<circle cx="322.0" cy="588.2" r="2.3"/>
<circle cx="334.4" cy="586.5" r="2.3"/>
<circle cx="340.1" cy="585.8" r="2.3"/>
<circle cx="343.3" cy="585.8" r="2.3"/>
<circle cx="343.9" cy="586.1" r="2.3"/>
<circle cx="344.8" cy="586.5" r="2.3"/>
<circle cx="338.9" cy="598.7" r="2.3"/>
<circle cx="340.2" cy="597.6" r="2.3"/>
<circle cx="345.8" cy="597.7" r="2.3"/>
<circle cx="357.5" cy="595.7" r="2.3"/>
<circle cx="326.0" cy="600.6" r="2.3"/>
<circle cx="324.5" cy="599.9" r="2.3"/>
<circle cx="325.6" cy="601.1" r="2.3"/>
<circle cx="314.1" cy="602.4" r="2.3"/>
<circle cx="314.9" cy="601.4" r="2.3"/>
<circle cx="313.6" cy="602.5" r="2.3"/>
<circle cx="316.4" cy="602.5" r="2.3"/>
<circle cx="302.9" cy="604.4" r="2.3"/>
<circle cx="292.2" cy="606.4" r="2.3"/>
<circle cx="290.9" cy="606.7" r="2.3"/>
<circle cx="292.7" cy="607.7" r="2.3"/>
<circle cx="292.8" cy="605.5" r="2.3"/>
<circle cx="284.3" cy="608.6" r="2.3"/>
<circle cx="284.3" cy="609.3" r="2.3"/>
<circle cx="284.4" cy="609.3" r="2.3"/>
<circle cx="278.1" cy="610.1" r="2.3"/>
<circle cx="333.9" cy="558.5" r="2.3"/>
<circle cx="254.0" cy="474.0" r="2.3"/>
<circle cx="265.7" cy="482.9" r="2.3"/>
<circle cx="212.6" cy="484.2" r="2.3"/>
<circle cx="215.5" cy="490.9" r="2.3"/>
<circle cx="225.5" cy="499.1" r="2.3"/>
<circle cx="255.2" cy="496.6" r="2.3"/>
<circle cx="260.2" cy="500.3" r="2.3"/>
<circle cx="266.9" cy="495.8" r="2.3"/>
<circle cx="272.1" cy="505.3" r="2.3"/>
<circle cx="273.3" cy="514.4" r="2.3"/>
<circle cx="171.4" cy="504.5" r="2.3"/>
<circle cx="185.0" cy="514.4" r="2.3"/>
<circle cx="217.3" cy="507.7" r="2.3"/>
<circle cx="221.0" cy="512.0" r="2.3"/>
<circle cx="230.9" cy="508.2" r="2.3"/>
<circle cx="230.9" cy="516.9" r="2.3"/>
<circle cx="145.6" cy="517.7" r="2.3"/>
<circle cx="156.5" cy="518.7" r="2.3"/>
<circle cx="198.4" cy="519.9" r="2.3"/>
<circle cx="249.0" cy="469.3" r="2.3"/>
<circle cx="177.8" cy="510.0" r="2.3"/>
<circle cx="273.0" cy="524.7" r="2.3"/>
<circle cx="277.4" cy="526.4" r="2.3"/>
<circle cx="277.3" cy="527.1" r="2.3"/>
<circle cx="274.1" cy="526.3" r="2.3"/>
<circle cx="277.2" cy="526.4" r="2.3"/>
<circle cx="282.4" cy="526.4" r="2.3"/>
<circle cx="284.4" cy="527.9" r="2.3"/>
<circle cx="282.5" cy="526.3" r="2.3"/>
<circle cx="279.2" cy="532.1" r="2.3"/>
<circle cx="288.6" cy="532.6" r="2.3"/>
<circle cx="284.9" cy="534.6" r="2.3"/>
<circle cx="283.6" cy="537.1" r="2.3"/>
<circle cx="279.9" cy="539.1" r="2.3"/>
<circle cx="286.1" cy="539.1" r="2.3"/>
<circle cx="287.2" cy="538.7" r="2.3"/>
<circle cx="286.5" cy="540.3" r="2.3"/>
<circle cx="285.9" cy="539.9" r="2.3"/>
<circle cx="290.3" cy="542.0" r="2.3"/>
<circle cx="296.1" cy="547.0" r="2.3"/>
<circle cx="297.7" cy="547.3" r="2.3"/>
<circle cx="272.5" cy="548.2" r="2.3"/>
<circle cx="276.2" cy="554.4" r="2.3"/>
<circle cx="282.4" cy="553.9" r="2.3"/>
<circle cx="286.6" cy="554.4" r="2.3"/>
<circle cx="287.2" cy="553.8" r="2.3"/>
<circle cx="286.2" cy="552.3" r="2.3"/>
<circle cx="287.3" cy="553.6" r="2.3"/>
<circle cx="272.5" cy="560.6" r="2.3"/>
<circle cx="270.9" cy="561.8" r="2.3"/>
<circle cx="272.6" cy="559.4" r="2.3"/>
<circle cx="284.4" cy="559.9" r="2.3"/>
<circle cx="287.9" cy="561.9" r="2.3"/>
<circle cx="287.5" cy="564.0" r="2.3"/>
<circle cx="291.8" cy="565.6" r="2.3"/>
<circle cx="301.8" cy="561.9" r="2.3"/>
<circle cx="302.8" cy="563.1" r="2.3"/>
<circle cx="312.7" cy="571.8" r="2.3"/>
<circle cx="313.9" cy="571.6" r="2.3"/>
<circle cx="314.2" cy="573.1" r="2.3"/>
<circle cx="313.2" cy="573.6" r="2.3"/>
<circle cx="314.9" cy="574.2" r="2.3"/>
<circle cx="313.5" cy="572.0" r="2.3"/>
<circle cx="304.2" cy="577.3" r="2.3"/>
<circle cx="291.1" cy="579.3" r="2.3"/>
<circle cx="284.9" cy="579.3" r="2.3"/>
<circle cx="285.8" cy="578.4" r="2.3"/>
<circle cx="283.5" cy="578.7" r="2.3"/>
<circle cx="284.9" cy="578.1" r="2.3"/>
<circle cx="328.8" cy="530.9" r="2.3"/>
<circle cx="332.0" cy="532.1" r="2.3"/>
<circle cx="330.1" cy="532.7" r="2.3"/>
<circle cx="337.0" cy="527.1" r="2.3"/>
<circle cx="342.0" cy="526.7" r="2.3"/>
<circle cx="341.9" cy="525.7" r="2.3"/>
<circle cx="340.7" cy="529.1" r="2.3"/>
<circle cx="335.0" cy="534.1" r="2.3"/>
<circle cx="334.6" cy="533.7" r="2.3"/>
<circle cx="341.2" cy="537.6" r="2.3"/>
<circle cx="317.6" cy="539.1" r="2.3"/>
<circle cx="317.7" cy="537.1" r="2.3"/>
<circle cx="318.7" cy="539.9" r="2.3"/>
<circle cx="322.9" cy="537.6" r="2.3"/>
<circle cx="328.3" cy="547.0" r="2.3"/>
<circle cx="330.8" cy="548.2" r="2.3"/>
<circle cx="325.8" cy="550.7" r="2.3"/>
<circle cx="324.6" cy="550.8" r="2.3"/>
<circle cx="322.1" cy="552.5" r="2.3"/>
<circle cx="327.1" cy="553.2" r="2.3"/>
<circle cx="329.6" cy="553.2" r="2.3"/>
<circle cx="342.0" cy="555.2" r="2.3"/>
<circle cx="343.7" cy="558.2" r="2.3"/>
<circle cx="344.5" cy="558.3" r="2.3"/>
<circle cx="342.5" cy="558.3" r="2.3"/>
<circle cx="344.4" cy="559.9" r="2.3"/>
<circle cx="349.4" cy="555.2" r="2.3"/>
<circle cx="349.9" cy="556.9" r="2.3"/>
<circle cx="348.9" cy="555.4" r="2.3"/>
<circle cx="351.4" cy="556.4" r="2.3"/>
<circle cx="352.6" cy="556.1" r="2.3"/>
<circle cx="362.6" cy="530.1" r="2.3"/>
<circle cx="370.5" cy="533.3" r="2.3"/>
<circle cx="372.2" cy="532.3" r="2.3"/>
<circle cx="369.6" cy="533.4" r="2.3"/>
<circle cx="370.6" cy="532.1" r="2.3"/>
<circle cx="377.9" cy="539.6" r="2.3"/>
<circle cx="380.9" cy="538.8" r="2.3"/>
<circle cx="380.7" cy="538.6" r="2.3"/>
<circle cx="379.2" cy="542.0" r="2.3"/>
<circle cx="379.0" cy="540.6" r="2.3"/>
<circle cx="378.0" cy="541.6" r="2.3"/>
<circle cx="373.0" cy="544.5" r="2.3"/>
<circle cx="375.5" cy="545.0" r="2.3"/>
<circle cx="375.4" cy="546.5" r="2.3"/>
<circle cx="378.4" cy="545.8" r="2.3"/>
<circle cx="363.8" cy="564.4" r="2.3"/>
<circle cx="369.3" cy="564.4" r="2.3"/>
<circle cx="370.0" cy="565.6" r="2.3"/>
<circle cx="369.0" cy="567.9" r="2.3"/>
<circle cx="369.3" cy="565.2" r="2.3"/>
<circle cx="371.1" cy="564.9" r="2.3"/>
<circle cx="396.6" cy="547.0" r="2.3"/>
<circle cx="395.7" cy="547.2" r="2.3"/>
<circle cx="399.0" cy="549.0" r="2.3"/>
<circle cx="398.2" cy="548.8" r="2.3"/>
<circle cx="401.2" cy="549.6" r="2.3"/>
<circle cx="398.2" cy="548.9" r="2.3"/>
<circle cx="402.8" cy="547.0" r="2.3"/>
<circle cx="404.5" cy="548.2" r="2.3"/>
<circle cx="405.9" cy="548.0" r="2.3"/>
<circle cx="418.1" cy="555.7" r="2.3"/>
<circle cx="417.8" cy="554.1" r="2.3"/>
<circle cx="417.1" cy="557.5" r="2.3"/>
<circle cx="418.6" cy="557.1" r="2.3"/>
<circle cx="420.1" cy="556.4" r="2.3"/>
<circle cx="422.5" cy="556.6" r="2.3"/>
<circle cx="423.1" cy="556.9" r="2.3"/>
<circle cx="329.6" cy="540.8" r="2.3"/>
<circle cx="324.6" cy="545.8" r="2.3"/>
<circle cx="333.8" cy="558.7" r="2.3"/>
<circle cx="401.5" cy="557.4" r="2.3"/>
<circle cx="147.5" cy="578.4" r="2.3"/>
<circle cx="132.7" cy="550.7" r="2.3"/>
<circle cx="124.5" cy="575.3" r="2.3"/>
<circle cx="119.0" cy="557.6" r="2.3"/>
<circle cx="142.9" cy="557.1" r="2.3"/>
<circle cx="132.2" cy="574.2" r="2.3"/>
<circle cx="164.3" cy="555.6" r="2.3"/>
<circle cx="88.5" cy="562.4" r="2.3"/>
<circle cx="155.6" cy="563.5" r="2.3"/>
<circle cx="98.5" cy="574.2" r="2.3"/>
<circle cx="164.8" cy="549.2" r="2.3"/>
<circle cx="135.3" cy="564.4" r="2.3"/>
<circle cx="104.5" cy="575.0" r="2.3"/>
<circle cx="75.1" cy="566.4" r="2.3"/>
<circle cx="110.0" cy="578.8" r="2.3"/>
<circle cx="98.7" cy="560.0" r="2.3"/>
<circle cx="164.5" cy="574.1" r="2.3"/>
<circle cx="156.2" cy="551.9" r="2.3"/>
<circle cx="119.2" cy="564.1" r="2.3"/>
<circle cx="151.6" cy="561.7" r="2.3"/>
<circle cx="153.0" cy="581.8" r="2.3"/>
<circle cx="138.3" cy="559.7" r="2.3"/>
<circle cx="66.5" cy="571.8" r="2.3"/>
<circle cx="142.0" cy="576.3" r="2.3"/>
<circle cx="138.0" cy="562.6" r="2.3"/>
<circle cx="82.0" cy="570.9" r="2.3"/>
<circle cx="114.6" cy="574.3" r="2.3"/>
<circle cx="95.3" cy="566.1" r="2.3"/>
<circle cx="81.4" cy="573.7" r="2.3"/>
<circle cx="116.5" cy="561.6" r="2.3"/>
<circle cx="160.0" cy="567.6" r="2.3"/>
<circle cx="99.9" cy="564.9" r="2.3"/>
<circle cx="158.1" cy="570.6" r="2.3"/>
<circle cx="160.9" cy="578.0" r="2.3"/>
<circle cx="146.3" cy="572.4" r="2.3"/>
<circle cx="135.4" cy="580.8" r="2.3"/>
<circle cx="111.8" cy="576.8" r="2.3"/>
<circle cx="81.3" cy="565.5" r="2.3"/>
<circle cx="93.7" cy="570.8" r="2.3"/>
<circle cx="127.8" cy="573.9" r="2.3"/>
<circle cx="132.6" cy="577.4" r="2.3"/>
<circle cx="147.3" cy="556.1" r="2.3"/>
<circle cx="120.3" cy="572.8" r="2.3"/>
<circle cx="136.2" cy="553.8" r="2.3"/>
<circle cx="87.8" cy="576.6" r="2.3"/>
<circle cx="126.1" cy="551.7" r="2.3"/>
<circle cx="138.5" cy="571.5" r="2.3"/>
<circle cx="78.5" cy="570.5" r="2.3"/>
<circle cx="121.5" cy="553.0" r="2.3"/>
<circle cx="163.7" cy="567.3" r="2.3"/>
<circle cx="145.9" cy="549.8" r="2.3"/>
<circle cx="153.3" cy="546.0" r="2.3"/>
<circle cx="84.3" cy="572.7" r="2.3"/>
<circle cx="140.5" cy="567.9" r="2.3"/>
<circle cx="127.3" cy="555.8" r="2.3"/>
<circle cx="90.5" cy="576.3" r="2.3"/>
<circle cx="150.8" cy="563.8" r="2.3"/>
<circle cx="127.9" cy="579.6" r="2.3"/>
<circle cx="89.3" cy="565.0" r="2.3"/>
<circle cx="130.3" cy="568.0" r="2.3"/>
<circle cx="116.2" cy="556.3" r="2.3"/>
<circle cx="134.1" cy="555.3" r="2.3"/>
<circle cx="159.1" cy="574.2" r="2.3"/>
<circle cx="164.7" cy="563.0" r="2.3"/>
<circle cx="148.1" cy="564.5" r="2.3"/>
<circle cx="130.8" cy="583.8" r="2.3"/>
<circle cx="155.1" cy="558.0" r="2.3"/>
<circle cx="101.1" cy="577.1" r="2.3"/>
<circle cx="141.9" cy="571.4" r="2.3"/>
<circle cx="147.5" cy="574.1" r="2.3"/>
<circle cx="67.2" cy="569.2" r="2.3"/>
<circle cx="162.8" cy="553.3" r="2.3"/>
<circle cx="110.0" cy="565.5" r="2.3"/>
<circle cx="145.2" cy="583.7" r="2.3"/>
<circle cx="140.3" cy="580.2" r="2.3"/>
<circle cx="69.2" cy="573.2" r="2.3"/>
<circle cx="90.7" cy="563.0" r="2.3"/>
<circle cx="148.8" cy="581.0" r="2.3"/>
<circle cx="113.4" cy="560.2" r="2.3"/>
<circle cx="152.6" cy="556.2" r="2.3"/>
<circle cx="140.1" cy="552.9" r="2.3"/>
<circle cx="103.7" cy="567.8" r="2.3"/>
<circle cx="102.7" cy="560.7" r="2.3"/>
<circle cx="146.9" cy="559.7" r="2.3"/>
<circle cx="109.3" cy="567.5" r="2.3"/>
<circle cx="118.4" cy="555.8" r="2.3"/>
<circle cx="107.6" cy="563.5" r="2.3"/>
<circle cx="134.8" cy="568.3" r="2.3"/>
<circle cx="123.5" cy="553.4" r="2.3"/>
<circle cx="125.2" cy="565.3" r="2.3"/>
<circle cx="137.3" cy="565.0" r="2.3"/>
<circle cx="111.7" cy="566.7" r="2.3"/>
<circle cx="155.9" cy="580.3" r="2.3"/>
<circle cx="139.0" cy="582.5" r="2.3"/>
<circle cx="157.4" cy="560.2" r="2.3"/>
<circle cx="117.9" cy="562.6" r="2.3"/>
<circle cx="95.2" cy="572.0" r="2.3"/>
<circle cx="116.1" cy="572.3" r="2.3"/>
<circle cx="146.1" cy="554.5" r="2.3"/>
<circle cx="85.0" cy="566.8" r="2.3"/>
<circle cx="158.2" cy="578.6" r="2.3"/>
<circle cx="142.4" cy="579.9" r="2.3"/>
<circle cx="103.6" cy="571.9" r="2.3"/>
<circle cx="133.2" cy="559.8" r="2.3"/>
<circle cx="151.2" cy="566.8" r="2.3"/>
<circle cx="159.1" cy="556.3" r="2.3"/>
<circle cx="86.1" cy="575.1" r="2.3"/>
<circle cx="93.3" cy="562.0" r="2.3"/>
<circle cx="129.8" cy="575.1" r="2.3"/>
<circle cx="114.0" cy="567.4" r="2.3"/>
<circle cx="83.5" cy="564.3" r="2.3"/>
<circle cx="95.8" cy="568.7" r="2.3"/>
<circle cx="130.2" cy="557.7" r="2.3"/>
<circle cx="157.8" cy="547.5" r="2.3"/>
<circle cx="85.5" cy="571.4" r="2.3"/>
<circle cx="96.5" cy="566.2" r="2.3"/>
<circle cx="106.3" cy="562.0" r="2.3"/>
<circle cx="83.9" cy="562.6" r="2.3"/>
<circle cx="118.8" cy="569.1" r="2.3"/>
<circle cx="79.4" cy="573.6" r="2.3"/>
<circle cx="63.0" cy="572.0" r="2.3"/>
<circle cx="153.4" cy="572.9" r="2.3"/>
<circle cx="144.5" cy="551.7" r="2.3"/>
<circle cx="110.9" cy="570.6" r="2.3"/>
<circle cx="137.8" cy="574.2" r="2.3"/>
<circle cx="111.3" cy="563.1" r="2.3"/>
<circle cx="124.3" cy="559.0" r="2.3"/>
<circle cx="107.2" cy="566.1" r="2.3"/>
<circle cx="146.1" cy="573.8" r="2.3"/>
<circle cx="107.8" cy="580.3" r="2.3"/>
<circle cx="137.2" cy="584.6" r="2.3"/>
<circle cx="130.2" cy="555.4" r="2.3"/>
<circle cx="142.0" cy="561.5" r="2.3"/>
<circle cx="124.6" cy="563.2" r="2.3"/>
<circle cx="146.9" cy="576.3" r="2.3"/>
<circle cx="159.6" cy="568.4" r="2.3"/>
<circle cx="149.8" cy="546.6" r="2.3"/>
<circle cx="83.1" cy="566.6" r="2.3"/>
<circle cx="73.2" cy="573.3" r="2.3"/>
<circle cx="151.6" cy="547.9" r="2.3"/>
<circle cx="135.4" cy="562.1" r="2.3"/>
<circle cx="125.0" cy="569.0" r="2.3"/>
<circle cx="148.1" cy="566.6" r="2.3"/>
<circle cx="105.4" cy="564.3" r="2.3"/>
<circle cx="106.9" cy="574.9" r="2.3"/>
<circle cx="119.2" cy="554.0" r="2.3"/>
<circle cx="131.6" cy="575.3" r="2.3"/>
<circle cx="144.1" cy="580.3" r="2.3"/>
<circle cx="146.3" cy="579.1" r="2.3"/>
<circle cx="156.0" cy="578.0" r="2.3"/>
<circle cx="98.4" cy="577.0" r="2.3"/>
<circle cx="147.7" cy="561.4" r="2.3"/>
<circle cx="164.6" cy="570.6" r="2.3"/>
<circle cx="138.8" cy="569.6" r="2.3"/>
<circle cx="121.3" cy="566.5" r="2.3"/>
<circle cx="129.0" cy="551.9" r="2.3"/>
<circle cx="113.1" cy="570.4" r="2.3"/>
<circle cx="137.8" cy="554.6" r="2.3"/>
<circle cx="74.4" cy="571.4" r="2.3"/>
<circle cx="148.3" cy="546.7" r="2.3"/>
<circle cx="140.0" cy="549.1" r="2.3"/>
<circle cx="163.5" cy="577.3" r="2.3"/>
<circle cx="128.1" cy="567.1" r="2.3"/>
<circle cx="108.3" cy="560.6" r="2.3"/>
<circle cx="114.3" cy="565.3" r="2.3"/>
<circle cx="97.4" cy="569.5" r="2.3"/>
<circle cx="127.9" cy="573.1" r="2.3"/>
<circle cx="113.3" cy="563.5" r="2.3"/>
<circle cx="74.2" cy="565.4" r="2.3"/>
<circle cx="98.4" cy="567.0" r="2.3"/>
<circle cx="145.1" cy="578.9" r="2.3"/>
<circle cx="140.1" cy="561.5" r="2.3"/>
<circle cx="149.9" cy="557.9" r="2.3"/>
<circle cx="78.1" cy="563.4" r="2.3"/>
<circle cx="161.9" cy="559.2" r="2.3"/>
<circle cx="220.2" cy="569.2" r="2.3"/>
<circle cx="175.1" cy="560.2" r="2.3"/>
<circle cx="216.8" cy="567.7" r="2.3"/>
<circle cx="180.6" cy="564.8" r="2.3"/>
<circle cx="166.1" cy="576.0" r="2.3"/>
<circle cx="205.7" cy="569.5" r="2.3"/>
<circle cx="167.4" cy="573.1" r="2.3"/>
<circle cx="179.3" cy="553.3" r="2.3"/>
<circle cx="175.8" cy="554.3" r="2.3"/>
<circle cx="177.4" cy="551.2" r="2.3"/>
<circle cx="172.4" cy="556.4" r="2.3"/>
<circle cx="189.7" cy="546.9" r="2.3"/>
<circle cx="168.3" cy="567.9" r="2.3"/>
<circle cx="175.0" cy="565.9" r="2.3"/>
<circle cx="236.1" cy="566.7" r="2.3"/>
<circle cx="177.1" cy="573.0" r="2.3"/>
<circle cx="196.1" cy="556.6" r="2.3"/>
<circle cx="196.9" cy="571.5" r="2.3"/>
<circle cx="195.8" cy="550.1" r="2.3"/>
<circle cx="185.3" cy="553.0" r="2.3"/>
<circle cx="208.3" cy="561.2" r="2.3"/>
<circle cx="207.7" cy="569.8" r="2.3"/>
<circle cx="227.8" cy="568.4" r="2.3"/>
<circle cx="195.8" cy="546.1" r="2.3"/>
<circle cx="179.0" cy="560.5" r="2.3"/>
<circle cx="208.1" cy="557.1" r="2.3"/>
<circle cx="182.5" cy="560.7" r="2.3"/>
<circle cx="165.6" cy="563.6" r="2.3"/>
<circle cx="167.0" cy="552.9" r="2.3"/>
<circle cx="199.4" cy="566.1" r="2.3"/>
<circle cx="169.5" cy="547.5" r="2.3"/>
<circle cx="213.5" cy="568.0" r="2.3"/>
<circle cx="211.1" cy="555.6" r="2.3"/>
<circle cx="174.4" cy="563.5" r="2.3"/>
<circle cx="220.7" cy="563.0" r="2.3"/>
<circle cx="188.5" cy="554.7" r="2.3"/>
<circle cx="178.4" cy="545.6" r="2.3"/>
<circle cx="223.7" cy="567.4" r="2.3"/>
<circle cx="206.6" cy="554.6" r="2.3"/>
<circle cx="195.7" cy="564.2" r="2.3"/>
<circle cx="185.5" cy="542.9" r="2.3"/>
<circle cx="230.3" cy="562.6" r="2.3"/>
<circle cx="208.6" cy="555.4" r="2.3"/>
<circle cx="180.2" cy="555.0" r="2.3"/>
<circle cx="191.9" cy="552.0" r="2.3"/>
<circle cx="192.2" cy="547.5" r="2.3"/>
<circle cx="205.8" cy="561.2" r="2.3"/>
<circle cx="218.8" cy="557.9" r="2.3"/>
<circle cx="182.1" cy="543.9" r="2.3"/>
<circle cx="184.1" cy="548.8" r="2.3"/>
<circle cx="183.9" cy="556.2" r="2.3"/>
<circle cx="173.5" cy="546.9" r="2.3"/>
<circle cx="185.6" cy="571.8" r="2.3"/>
<circle cx="225.5" cy="564.9" r="2.3"/>
<circle cx="188.2" cy="567.9" r="2.3"/>
<circle cx="213.5" cy="559.1" r="2.3"/>
<circle cx="200.5" cy="550.5" r="2.3"/>
<circle cx="179.6" cy="568.2" r="2.3"/>
<circle cx="179.1" cy="557.6" r="2.3"/>
<circle cx="191.2" cy="545.4" r="2.3"/>
<circle cx="185.1" cy="564.7" r="2.3"/>
<circle cx="219.8" cy="570.3" r="2.3"/>
<circle cx="222.6" cy="562.0" r="2.3"/>
<circle cx="175.8" cy="548.6" r="2.3"/>
<circle cx="192.2" cy="563.0" r="2.3"/>
<circle cx="203.3" cy="554.8" r="2.3"/>
<circle cx="169.6" cy="573.9" r="2.3"/>
<circle cx="175.9" cy="557.6" r="2.3"/>
<circle cx="193.4" cy="570.2" r="2.3"/>
<circle cx="168.8" cy="557.2" r="2.3"/>
<circle cx="191.5" cy="568.0" r="2.3"/>
<circle cx="184.6" cy="573.8" r="2.3"/>
<circle cx="212.4" cy="564.5" r="2.3"/>
<circle cx="191.0" cy="556.3" r="2.3"/>
<circle cx="170.6" cy="554.4" r="2.3"/>
<circle cx="135.5" cy="574.4" r="2.3"/>
<circle cx="70.7" cy="571.6" r="2.3"/>
<circle cx="95.6" cy="571.4" r="2.3"/>
<circle cx="117.7" cy="577.3" r="2.3"/>
<circle cx="103.6" cy="575.1" r="2.3"/>
<circle cx="87.2" cy="575.6" r="2.3"/>
<circle cx="134.2" cy="575.5" r="2.3"/>
<circle cx="139.3" cy="580.9" r="2.3"/>
<circle cx="117.9" cy="579.7" r="2.3"/>
<circle cx="78.4" cy="570.7" r="2.3"/>
<circle cx="140.5" cy="576.2" r="2.3"/>
<circle cx="146.1" cy="579.2" r="2.3"/>
<circle cx="116.5" cy="573.1" r="2.3"/>
<circle cx="123.2" cy="577.1" r="2.3"/>
<circle cx="104.9" cy="567.8" r="2.3"/>
<circle cx="123.6" cy="574.5" r="2.3"/>
<circle cx="98.7" cy="567.3" r="2.3"/>
<circle cx="80.6" cy="575.8" r="2.3"/>
<circle cx="128.3" cy="580.0" r="2.3"/>
<circle cx="97.7" cy="577.2" r="2.3"/>
<circle cx="65.9" cy="571.0" r="2.3"/>
<circle cx="150.0" cy="579.3" r="2.3"/>
<circle cx="132.1" cy="582.5" r="2.3"/>
<circle cx="73.8" cy="567.7" r="2.3"/>
<circle cx="110.9" cy="567.7" r="2.3"/>
<circle cx="84.9" cy="570.6" r="2.3"/>
<circle cx="92.1" cy="566.8" r="2.3"/>
<circle cx="144.4" cy="581.4" r="2.3"/>
<circle cx="89.2" cy="570.3" r="2.3"/>
<circle cx="109.1" cy="570.0" r="2.3"/>
<circle cx="84.2" cy="567.4" r="2.3"/>
<circle cx="139.4" cy="584.1" r="2.3"/>
<circle cx="116.4" cy="576.2" r="2.3"/>
<circle cx="111.6" cy="577.9" r="2.3"/>
<circle cx="133.7" cy="584.7" r="2.3"/>
<circle cx="129.5" cy="574.0" r="2.3"/>
<circle cx="138.5" cy="582.8" r="2.3"/>
<circle cx="112.3" cy="570.9" r="2.3"/>
<circle cx="140.0" cy="581.7" r="2.3"/>
<circle cx="131.2" cy="583.6" r="2.3"/>
<circle cx="79.7" cy="572.8" r="2.3"/>
<circle cx="136.5" cy="574.9" r="2.3"/>
<circle cx="130.4" cy="574.0" r="2.3"/>
<circle cx="140.1" cy="579.3" r="2.3"/>
<circle cx="119.4" cy="569.1" r="2.3"/>
<circle cx="93.4" cy="570.7" r="2.3"/>
<circle cx="114.0" cy="567.3" r="2.3"/>
<circle cx="101.4" cy="571.4" r="2.3"/>
<circle cx="93.5" cy="574.9" r="2.3"/>
<circle cx="152.2" cy="581.9" r="2.3"/>
<circle cx="91.0" cy="567.9" r="2.3"/>
<circle cx="123.5" cy="582.8" r="2.3"/>
<circle cx="124.0" cy="571.2" r="2.3"/>
<circle cx="104.9" cy="579.5" r="2.3"/>
<circle cx="131.5" cy="577.8" r="2.3"/>
<circle cx="73.1" cy="571.0" r="2.3"/>
<circle cx="134.6" cy="577.6" r="2.3"/>
<circle cx="88.4" cy="576.3" r="2.3"/>
<circle cx="106.7" cy="574.2" r="2.3"/>
<circle cx="118.7" cy="576.4" r="2.3"/>
<circle cx="219.6" cy="590.2" r="2.3"/>
<circle cx="230.8" cy="584.9" r="2.3"/>
<circle cx="177.3" cy="586.5" r="2.3"/>
<circle cx="198.7" cy="581.2" r="2.3"/>
<circle cx="205.5" cy="594.9" r="2.3"/>
<circle cx="210.0" cy="587.6" r="2.3"/>
<circle cx="192.6" cy="590.3" r="2.3"/>
<circle cx="192.3" cy="597.0" r="2.3"/>
<circle cx="217.2" cy="584.9" r="2.3"/>
<circle cx="191.0" cy="584.4" r="2.3"/>
<circle cx="187.1" cy="591.4" r="2.3"/>
<circle cx="221.1" cy="576.2" r="2.3"/>
<circle cx="182.3" cy="593.7" r="2.3"/>
<circle cx="195.7" cy="583.9" r="2.3"/>
<circle cx="209.1" cy="576.6" r="2.3"/>
<circle cx="219.7" cy="592.8" r="2.3"/>
<circle cx="230.3" cy="591.8" r="2.3"/>
<circle cx="199.5" cy="597.5" r="2.3"/>
<circle cx="184.8" cy="585.5" r="2.3"/>
<circle cx="196.8" cy="590.4" r="2.3"/>
<circle cx="225.6" cy="581.0" r="2.3"/>
<circle cx="221.9" cy="584.2" r="2.3"/>
<circle cx="178.7" cy="591.8" r="2.3"/>
<circle cx="176.7" cy="585.3" r="2.3"/>
<circle cx="229.8" cy="578.5" r="2.3"/>
<circle cx="199.0" cy="587.0" r="2.3"/>
<circle cx="172.0" cy="584.6" r="2.3"/>
<circle cx="170.0" cy="591.5" r="2.3"/>
<circle cx="231.2" cy="595.7" r="2.3"/>
<circle cx="203.9" cy="577.9" r="2.3"/>
<circle cx="173.9" cy="592.4" r="2.3"/>
<circle cx="189.8" cy="589.0" r="2.3"/>
<circle cx="228.3" cy="580.5" r="2.3"/>
<circle cx="207.8" cy="588.2" r="2.3"/>
<circle cx="222.2" cy="597.8" r="2.3"/>
<circle cx="205.1" cy="588.1" r="2.3"/>
<circle cx="223.1" cy="587.1" r="2.3"/>
<circle cx="226.0" cy="584.7" r="2.3"/>
<circle cx="206.4" cy="579.2" r="2.3"/>
<circle cx="212.8" cy="582.5" r="2.3"/>
<circle cx="213.7" cy="583.2" r="2.3"/>
<circle cx="213.5" cy="589.1" r="2.3"/>
<circle cx="215.7" cy="582.8" r="2.3"/>
<circle cx="213.9" cy="599.1" r="2.3"/>
<circle cx="204.0" cy="591.8" r="2.3"/>
<circle cx="192.1" cy="587.0" r="2.3"/>
<circle cx="180.0" cy="583.6" r="2.3"/>
<circle cx="216.3" cy="576.5" r="2.3"/>
<circle cx="226.7" cy="577.5" r="2.3"/>
<circle cx="183.9" cy="587.6" r="2.3"/>
<circle cx="220.7" cy="586.2" r="2.3"/>
<circle cx="225.2" cy="595.2" r="2.3"/>
<circle cx="199.5" cy="592.7" r="2.3"/>
<circle cx="202.4" cy="584.7" r="2.3"/>
<circle cx="227.3" cy="587.7" r="2.3"/>
<circle cx="196.4" cy="588.4" r="2.3"/>
<circle cx="181.6" cy="589.3" r="2.3"/>
<circle cx="208.8" cy="587.2" r="2.3"/>
<circle cx="218.1" cy="587.3" r="2.3"/>
<circle cx="225.7" cy="598.1" r="2.3"/>
<circle cx="268.0" cy="576.7" r="2.3"/>
<circle cx="240.8" cy="584.6" r="2.3"/>
<circle cx="296.4" cy="584.3" r="2.3"/>
<circle cx="259.8" cy="591.9" r="2.3"/>
<circle cx="280.8" cy="577.3" r="2.3"/>
<circle cx="271.7" cy="586.0" r="2.3"/>
<circle cx="241.5" cy="592.0" r="2.3"/>
<circle cx="290.4" cy="584.5" r="2.3"/>
<circle cx="261.8" cy="579.4" r="2.3"/>
<circle cx="246.7" cy="578.8" r="2.3"/>
<circle cx="270.7" cy="569.3" r="2.3"/>
<circle cx="267.4" cy="588.2" r="2.3"/>
<circle cx="248.7" cy="571.7" r="2.3"/>
<circle cx="252.7" cy="585.8" r="2.3"/>
<circle cx="232.8" cy="594.9" r="2.3"/>
<circle cx="293.6" cy="578.7" r="2.3"/>
<circle cx="274.2" cy="585.1" r="2.3"/>
<circle cx="232.6" cy="581.2" r="2.3"/>
<circle cx="243.4" cy="596.4" r="2.3"/>
<circle cx="278.9" cy="574.2" r="2.3"/>
<circle cx="282.8" cy="588.9" r="2.3"/>
<circle cx="251.1" cy="574.3" r="2.3"/>
<circle cx="262.2" cy="570.1" r="2.3"/>
<circle cx="256.5" cy="583.7" r="2.3"/>
<circle cx="286.0" cy="582.8" r="2.3"/>
<circle cx="289.4" cy="590.9" r="2.3"/>
<circle cx="266.9" cy="571.8" r="2.3"/>
<circle cx="258.7" cy="578.7" r="2.3"/>
<circle cx="209.6" cy="553.2" r="2.3"/>
<circle cx="212.5" cy="556.9" r="2.3"/>
<circle cx="216.2" cy="556.9" r="2.3"/>
<circle cx="223.5" cy="559.8" r="2.3"/>
<circle cx="221.3" cy="562.0" r="2.3"/>
<circle cx="227.8" cy="563.5" r="2.3"/>
<circle cx="233.7" cy="562.7" r="2.3"/>
<circle cx="230.8" cy="564.2" r="2.3"/>
<circle cx="233.7" cy="567.1" r="2.3"/>
<circle cx="220.5" cy="567.8" r="2.3"/>
<circle cx="224.9" cy="568.6" r="2.3"/>
<circle cx="228.6" cy="562.4" r="2.3"/>
<circle cx="216.9" cy="560.5" r="2.3"/>
<circle cx="212.5" cy="561.3" r="2.3"/>
<circle cx="181.8" cy="669.5" r="2.3"/>
<circle cx="370.6" cy="594.6" r="2.3"/>
<circle cx="379.9" cy="593.4" r="2.3"/>
</g>
<g fill="#0a0aff">
<circle cx="51.5" cy="559.6" r="1.05"/>
<circle cx="51.1" cy="565.2" r="1.05"/>
<circle cx="68.0" cy="562.2" r="1.05"/>
<circle cx="75.9" cy="559.6" r="1.05"/>
<circle cx="97.1" cy="552.5" r="1.05"/>
<circle cx="97.6" cy="556.1" r="1.05"/>
<circle cx="116.2" cy="536.9" r="1.05"/>
<circle cx="118.7" cy="545.9" r="1.05"/>
<circle cx="123.7" cy="528.7" r="1.05"/>
<circle cx="133.7" cy="529.4" r="1.05"/>
<circle cx="136.1" cy="540.2" r="1.05"/>
<circle cx="134.6" cy="545.1" r="1.05"/>
<circle cx="162.4" cy="536.8" r="1.05"/>
<circle cx="167.7" cy="541.2" r="1.05"/>
<circle cx="181.9" cy="524.8" r="1.05"/>
<circle cx="219.0" cy="530.3" r="1.05"/>
<circle cx="236.6" cy="525.1" r="1.05"/>
<circle cx="226.1" cy="533.7" r="1.05"/>
<circle cx="223.1" cy="537.7" r="1.05"/>
<circle cx="238.9" cy="542.7" r="1.05"/>
<circle cx="227.1" cy="546.8" r="1.05"/>
<circle cx="248.0" cy="533.5" r="1.05"/>
<circle cx="251.5" cy="550.4" r="1.05"/>
<circle cx="249.7" cy="549.7" r="1.05"/>
<circle cx="254.9" cy="547.9" r="1.05"/>
<circle cx="254.0" cy="553.8" r="1.05"/>
<circle cx="259.5" cy="552.2" r="1.05"/>
<circle cx="227.6" cy="590.7" r="1.05"/>
<circle cx="229.8" cy="594.5" r="1.05"/>
<circle cx="230.8" cy="576.9" r="1.05"/>
<circle cx="236.1" cy="576.3" r="1.05"/>
<circle cx="241.0" cy="574.6" r="1.05"/>
<circle cx="239.9" cy="593.0" r="1.05"/>
<circle cx="249.4" cy="587.5" r="1.05"/>
<circle cx="250.2" cy="585.2" r="1.05"/>
<circle cx="248.7" cy="587.0" r="1.05"/>
<circle cx="260.7" cy="572.3" r="1.05"/>
<circle cx="267.4" cy="572.7" r="1.05"/>
<circle cx="259.4" cy="585.2" r="1.05"/>
<circle cx="260.8" cy="584.5" r="1.05"/>
<circle cx="260.1" cy="587.7" r="1.05"/>
<circle cx="270.4" cy="583.0" r="1.05"/>
<circle cx="271.5" cy="584.3" r="1.05"/>
<circle cx="270.5" cy="585.2" r="1.05"/>
<circle cx="269.3" cy="596.7" r="1.05"/>
<circle cx="255.8" cy="599.7" r="1.05"/>
<circle cx="246.6" cy="602.6" r="1.05"/>
<circle cx="247.8" cy="601.5" r="1.05"/>
<circle cx="240.8" cy="603.0" r="1.05"/>
<circle cx="284.5" cy="581.1" r="1.05"/>
<circle cx="282.8" cy="580.6" r="1.05"/>
<circle cx="290.4" cy="580.9" r="1.05"/>
<circle cx="291.6" cy="582.2" r="1.05"/>
<circle cx="303.6" cy="579.9" r="1.05"/>
<circle cx="303.1" cy="579.7" r="1.05"/>
<circle cx="322.6" cy="588.6" r="1.05"/>
<circle cx="334.4" cy="586.3" r="1.05"/>
<circle cx="340.3" cy="585.1" r="1.05"/>
<circle cx="343.9" cy="586.4" r="1.05"/>
<circle cx="325.6" cy="600.5" r="1.05"/>
<circle cx="324.6" cy="600.0" r="1.05"/>
<circle cx="303.0" cy="604.0" r="1.05"/>
<circle cx="292.4" cy="606.6" r="1.05"/>
<circle cx="290.6" cy="606.2" r="1.05"/>
<circle cx="292.6" cy="607.9" r="1.05"/>
<circle cx="284.0" cy="608.8" r="1.05"/>
<circle cx="278.2" cy="610.2" r="1.05"/>
<circle cx="254.1" cy="474.0" r="1.05"/>
<circle cx="265.9" cy="482.9" r="1.05"/>
<circle cx="212.6" cy="484.4" r="1.05"/>
<circle cx="215.7" cy="491.0" r="1.05"/>
<circle cx="267.4" cy="495.8" r="1.05"/>
<circle cx="272.1" cy="505.2" r="1.05"/>
<circle cx="216.9" cy="508.0" r="1.05"/>
<circle cx="221.0" cy="512.0" r="1.05"/>
<circle cx="230.9" cy="517.4" r="1.05"/>
<circle cx="145.3" cy="517.8" r="1.05"/>
<circle cx="156.1" cy="518.5" r="1.05"/>
<circle cx="249.0" cy="467.0" r="1.05"/>
<circle cx="177.8" cy="508.4" r="1.05"/>
<circle cx="277.4" cy="527.5" r="1.05"/>
<circle cx="277.2" cy="526.4" r="1.05"/>
<circle cx="282.2" cy="526.6" r="1.05"/>
<circle cx="284.9" cy="527.8" r="1.05"/>
<circle cx="287.2" cy="538.7" r="1.05"/>
<circle cx="276.5" cy="554.9" r="1.05"/>
<circle cx="286.9" cy="554.3" r="1.05"/>
<circle cx="286.0" cy="552.6" r="1.05"/>
<circle cx="287.3" cy="553.5" r="1.05"/>
<circle cx="272.5" cy="560.6" r="1.05"/>
<circle cx="284.0" cy="559.8" r="1.05"/>
<circle cx="288.0" cy="561.6" r="1.05"/>
<circle cx="312.7" cy="571.6" r="1.05"/>
<circle cx="314.0" cy="573.0" r="1.05"/>
<circle cx="313.8" cy="572.1" r="1.05"/>
<circle cx="290.9" cy="579.1" r="1.05"/>
<circle cx="284.8" cy="578.7" r="1.05"/>
<circle cx="331.8" cy="531.9" r="1.05"/>
<circle cx="340.9" cy="528.9" r="1.05"/>
<circle cx="334.6" cy="533.8" r="1.05"/>
<circle cx="330.7" cy="548.1" r="1.05"/>
<circle cx="324.7" cy="550.7" r="1.05"/>
<circle cx="322.0" cy="552.6" r="1.05"/>
<circle cx="326.8" cy="553.3" r="1.05"/>
<circle cx="329.9" cy="553.4" r="1.05"/>
<circle cx="344.3" cy="558.6" r="1.05"/>
<circle cx="344.4" cy="559.6" r="1.05"/>
<circle cx="349.6" cy="555.3" r="1.05"/>
<circle cx="352.7" cy="556.0" r="1.05"/>
<circle cx="370.6" cy="532.2" r="1.05"/>
<circle cx="380.4" cy="538.4" r="1.05"/>
<circle cx="379.2" cy="542.1" r="1.05"/>
<circle cx="378.7" cy="541.0" r="1.05"/>
<circle cx="372.9" cy="544.2" r="1.05"/>
<circle cx="375.5" cy="545.0" r="1.05"/>
<circle cx="363.5" cy="564.3" r="1.05"/>
<circle cx="396.0" cy="547.3" r="1.05"/>
<circle cx="399.5" cy="549.3" r="1.05"/>
<circle cx="404.9" cy="547.8" r="1.05"/>
<circle cx="418.0" cy="555.5" r="1.05"/>
<circle cx="420.3" cy="556.2" r="1.05"/>
<circle cx="422.8" cy="556.3" r="1.05"/>
<circle cx="148.3" cy="578.4" r="1.05"/>
<circle cx="132.4" cy="550.5" r="1.05"/>
<circle cx="124.5" cy="575.0" r="1.05"/>
<circle cx="119.4" cy="557.6" r="1.05"/>
<circle cx="143.1" cy="557.3" r="1.05"/>
<circle cx="133.2" cy="574.8" r="1.05"/>
<circle cx="88.6" cy="562.6" r="1.05"/>
<circle cx="135.7" cy="564.9" r="1.05"/>
<circle cx="75.1" cy="566.5" r="1.05"/>
<circle cx="98.5" cy="559.7" r="1.05"/>
<circle cx="155.5" cy="552.1" r="1.05"/>
<circle cx="152.2" cy="581.6" r="1.05"/>
<circle cx="81.9" cy="570.2" r="1.05"/>
<circle cx="114.2" cy="574.2" r="1.05"/>
<circle cx="81.4" cy="573.0" r="1.05"/>
<circle cx="157.5" cy="570.7" r="1.05"/>
<circle cx="135.2" cy="581.4" r="1.05"/>
<circle cx="93.9" cy="571.4" r="1.05"/>
<circle cx="127.8" cy="573.0" r="1.05"/>
<circle cx="136.1" cy="553.9" r="1.05"/>
<circle cx="138.4" cy="571.8" r="1.05"/>
<circle cx="121.4" cy="552.9" r="1.05"/>
<circle cx="85.6" cy="572.6" r="1.05"/>
<circle cx="140.2" cy="567.6" r="1.05"/>
<circle cx="126.9" cy="557.4" r="1.05"/>
<circle cx="151.6" cy="564.3" r="1.05"/>
<circle cx="127.9" cy="579.8" r="1.05"/>
<circle cx="89.7" cy="564.9" r="1.05"/>
<circle cx="117.1" cy="556.1" r="1.05"/>
<circle cx="100.9" cy="577.2" r="1.05"/>
<circle cx="163.2" cy="553.2" r="1.05"/>
<circle cx="149.3" cy="581.1" r="1.05"/>
<circle cx="113.2" cy="560.4" r="1.05"/>
<circle cx="152.3" cy="556.2" r="1.05"/>
<circle cx="102.4" cy="561.0" r="1.05"/>
<circle cx="108.6" cy="567.8" r="1.05"/>
<circle cx="107.2" cy="564.4" r="1.05"/>
<circle cx="123.2" cy="554.8" r="1.05"/>
<circle cx="156.2" cy="580.1" r="1.05"/>
<circle cx="118.3" cy="562.3" r="1.05"/>
<circle cx="142.7" cy="579.1" r="1.05"/>
<circle cx="133.6" cy="559.5" r="1.05"/>
<circle cx="113.3" cy="566.4" r="1.05"/>
<circle cx="95.5" cy="568.5" r="1.05"/>
<circle cx="129.9" cy="557.6" r="1.05"/>
<circle cx="158.1" cy="547.4" r="1.05"/>
<circle cx="96.1" cy="566.9" r="1.05"/>
<circle cx="107.4" cy="562.0" r="1.05"/>
<circle cx="118.2" cy="568.7" r="1.05"/>
<circle cx="78.9" cy="572.8" r="1.05"/>
<circle cx="153.6" cy="573.1" r="1.05"/>
<circle cx="111.2" cy="571.0" r="1.05"/>
<circle cx="111.3" cy="563.5" r="1.05"/>
<circle cx="107.1" cy="566.3" r="1.05"/>
<circle cx="108.0" cy="580.1" r="1.05"/>
<circle cx="161.1" cy="568.3" r="1.05"/>
<circle cx="149.8" cy="546.6" r="1.05"/>
<circle cx="151.7" cy="548.1" r="1.05"/>
<circle cx="147.2" cy="566.3" r="1.05"/>
<circle cx="106.5" cy="563.7" r="1.05"/>
<circle cx="105.8" cy="574.3" r="1.05"/>
<circle cx="144.4" cy="581.5" r="1.05"/>
<circle cx="145.5" cy="578.8" r="1.05"/>
<circle cx="164.6" cy="570.3" r="1.05"/>
<circle cx="139.3" cy="570.1" r="1.05"/>
<circle cx="129.0" cy="551.5" r="1.05"/>
<circle cx="113.2" cy="571.2" r="1.05"/>
<circle cx="138.1" cy="554.5" r="1.05"/>
<circle cx="74.0" cy="571.4" r="1.05"/>
<circle cx="163.2" cy="577.7" r="1.05"/>
<circle cx="108.3" cy="560.4" r="1.05"/>
<circle cx="97.6" cy="569.2" r="1.05"/>
<circle cx="98.7" cy="566.8" r="1.05"/>
<circle cx="144.9" cy="579.3" r="1.05"/>
<circle cx="140.2" cy="561.5" r="1.05"/>
<circle cx="149.2" cy="557.7" r="1.05"/>
<circle cx="78.0" cy="562.8" r="1.05"/>
<circle cx="180.7" cy="565.5" r="1.05"/>
<circle cx="165.9" cy="575.3" r="1.05"/>
<circle cx="205.2" cy="570.3" r="1.05"/>
<circle cx="176.1" cy="554.5" r="1.05"/>
<circle cx="174.7" cy="566.1" r="1.05"/>
<circle cx="235.7" cy="566.8" r="1.05"/>
<circle cx="196.6" cy="572.1" r="1.05"/>
<circle cx="195.2" cy="549.5" r="1.05"/>
<circle cx="228.1" cy="568.8" r="1.05"/>
<circle cx="179.4" cy="560.7" r="1.05"/>
<circle cx="207.8" cy="556.4" r="1.05"/>
<circle cx="182.5" cy="560.5" r="1.05"/>
<circle cx="199.0" cy="566.3" r="1.05"/>
<circle cx="213.1" cy="568.1" r="1.05"/>
<circle cx="173.4" cy="564.4" r="1.05"/>
<circle cx="220.5" cy="563.2" r="1.05"/>
<circle cx="188.5" cy="555.3" r="1.05"/>
<circle cx="177.5" cy="545.8" r="1.05"/>
<circle cx="205.7" cy="553.9" r="1.05"/>
<circle cx="231.0" cy="562.9" r="1.05"/>
<circle cx="193.0" cy="552.5" r="1.05"/>
<circle cx="182.4" cy="543.5" r="1.05"/>
<circle cx="184.0" cy="556.5" r="1.05"/>
<circle cx="185.6" cy="572.1" r="1.05"/>
<circle cx="226.2" cy="565.5" r="1.05"/>
<circle cx="213.9" cy="560.2" r="1.05"/>
<circle cx="190.7" cy="544.6" r="1.05"/>
<circle cx="219.7" cy="571.3" r="1.05"/>
<circle cx="222.2" cy="562.3" r="1.05"/>
<circle cx="176.0" cy="558.6" r="1.05"/>
<circle cx="169.2" cy="556.8" r="1.05"/>
<circle cx="191.1" cy="567.6" r="1.05"/>
<circle cx="191.7" cy="557.2" r="1.05"/>
<circle cx="117.5" cy="576.7" r="1.05"/>
<circle cx="87.0" cy="575.7" r="1.05"/>
<circle cx="139.1" cy="581.1" r="1.05"/>
<circle cx="116.2" cy="573.8" r="1.05"/>
<circle cx="123.6" cy="577.8" r="1.05"/>
<circle cx="111.5" cy="568.2" r="1.05"/>
<circle cx="85.1" cy="570.4" r="1.05"/>
<circle cx="88.8" cy="570.8" r="1.05"/>
<circle cx="84.6" cy="567.8" r="1.05"/>
<circle cx="118.5" cy="568.8" r="1.05"/>
<circle cx="92.2" cy="570.6" r="1.05"/>
<circle cx="101.3" cy="571.2" r="1.05"/>
<circle cx="152.8" cy="581.7" r="1.05"/>
<circle cx="89.8" cy="568.2" r="1.05"/>
<circle cx="124.0" cy="571.4" r="1.05"/>
<circle cx="73.7" cy="571.1" r="1.05"/>
<circle cx="88.3" cy="577.7" r="1.05"/>
<circle cx="106.5" cy="574.9" r="1.05"/>
<circle cx="219.4" cy="590.4" r="1.05"/>
<circle cx="199.0" cy="580.5" r="1.05"/>
<circle cx="205.7" cy="595.3" r="1.05"/>
<circle cx="192.1" cy="596.6" r="1.05"/>
<circle cx="216.6" cy="584.9" r="1.05"/>
<circle cx="220.7" cy="575.8" r="1.05"/>
<circle cx="209.5" cy="576.6" r="1.05"/>
<circle cx="220.1" cy="592.7" r="1.05"/>
<circle cx="199.2" cy="586.3" r="1.05"/>
<circle cx="203.6" cy="577.2" r="1.05"/>
<circle cx="174.5" cy="592.0" r="1.05"/>
<circle cx="190.1" cy="589.2" r="1.05"/>
<circle cx="228.2" cy="580.8" r="1.05"/>
<circle cx="208.0" cy="588.3" r="1.05"/>
<circle cx="222.5" cy="598.0" r="1.05"/>
<circle cx="205.5" cy="588.6" r="1.05"/>
<circle cx="225.9" cy="585.2" r="1.05"/>
<circle cx="207.9" cy="580.2" r="1.05"/>
<circle cx="213.5" cy="582.5" r="1.05"/>
<circle cx="214.0" cy="583.4" r="1.05"/>
<circle cx="213.2" cy="589.4" r="1.05"/>
<circle cx="227.2" cy="577.9" r="1.05"/>
<circle cx="202.9" cy="584.8" r="1.05"/>
<circle cx="181.8" cy="588.3" r="1.05"/>
<circle cx="218.6" cy="587.2" r="1.05"/>
<circle cx="240.9" cy="585.0" r="1.05"/>
<circle cx="296.1" cy="584.0" r="1.05"/>
<circle cx="271.7" cy="587.0" r="1.05"/>
<circle cx="290.0" cy="583.7" r="1.05"/>
<circle cx="246.2" cy="578.9" r="1.05"/>
<circle cx="270.4" cy="569.1" r="1.05"/>
<circle cx="267.7" cy="588.1" r="1.05"/>
<circle cx="252.9" cy="586.1" r="1.05"/>
<circle cx="274.5" cy="585.6" r="1.05"/>
<circle cx="242.4" cy="596.5" r="1.05"/>
<circle cx="278.7" cy="574.9" r="1.05"/>
<circle cx="282.3" cy="589.0" r="1.05"/>
<circle cx="261.9" cy="570.6" r="1.05"/>
<circle cx="286.3" cy="582.4" r="1.05"/>
<circle cx="289.7" cy="590.7" r="1.05"/>
<circle cx="216.2" cy="557.2" r="1.05"/>
<circle cx="223.7" cy="559.9" r="1.05"/>
<circle cx="228.1" cy="563.4" r="1.05"/>
<circle cx="233.7" cy="566.9" r="1.05"/>
<circle cx="220.3" cy="567.6" r="1.05"/>
<circle cx="212.9" cy="561.6" r="1.05"/>
</g>
<g stroke="#3a3a3a" stroke-width="0.56" fill="none">
<line x1="54.90" y1="868.70" x2="54.90" y2="1052.60"/>
<line x1="54.90" y1="868.70" x2="379.80" y2="825.80"/>
<line x1="379.80" y1="825.80" x2="379.80" y2="1009.80"/>
<line x1="379.80" y1="825.80" x2="652.60" y2="876.70"/>
<line x1="652.60" y1="876.70" x2="652.60" y2="1060.80"/>
<line x1="54.90" y1="1052.60" x2="379.80" y2="1009.80"/>
<line x1="379.80" y1="1009.80" x2="652.60" y2="1060.80"/>
<line x1="54.90" y1="1052.60" x2="327.60" y2="1103.90"/>
<line x1="327.60" y1="1103.90" x2="652.60" y2="1060.80"/>
<line x1="54.90" y1="868.70" x2="46.74" y2="867.17"/>
<line x1="54.90" y1="925.10" x2="46.74" y2="923.57"/>
<line x1="54.90" y1="981.50" x2="46.74" y2="979.97"/>
<line x1="54.90" y1="1037.90" x2="46.74" y2="1036.37"/>
<line x1="54.90" y1="1052.60" x2="46.67" y2="1053.68"/>
<line x1="100.35" y1="1061.15" x2="92.12" y2="1062.23"/>
<line x1="145.80" y1="1069.70" x2="137.57" y2="1070.78"/>
<line x1="191.25" y1="1078.25" x2="183.02" y2="1079.33"/>
<line x1="236.70" y1="1086.80" x2="228.47" y2="1087.88"/>
<line x1="282.15" y1="1095.35" x2="273.92" y2="1096.43"/>
<line x1="327.60" y1="1103.90" x2="319.37" y2="1104.98"/>
<line x1="327.60" y1="1103.90" x2="335.76" y2="1105.43"/>
<line x1="374.03" y1="1097.74" x2="382.19" y2="1099.28"/>
<line x1="420.46" y1="1091.59" x2="428.61" y2="1093.12"/>
<line x1="466.89" y1="1085.43" x2="475.04" y2="1086.96"/>
<line x1="513.31" y1="1079.27" x2="521.47" y2="1080.81"/>
<line x1="559.74" y1="1073.11" x2="567.90" y2="1074.65"/>
<line x1="606.17" y1="1066.96" x2="614.33" y2="1068.49"/>
<line x1="652.60" y1="1060.80" x2="660.76" y2="1062.33"/>
</g>
<g font-family="'Liberation Serif', serif" font-size="12" fill="#2a2a2a">
<text x="42.54" y="871.07" text-anchor="end">10</text>
<text x="42.54" y="927.47" text-anchor="end">5</text>
<text x="42.54" y="983.87" text-anchor="end">0</text>
<text x="42.54" y="1040.27" text-anchor="end">-5</text>
<text x="42.47" y="1065.78" text-anchor="end">0</text>
<text x="87.92" y="1074.33" text-anchor="end">10</text>
<text x="133.37" y="1082.88" text-anchor="end">20</text>
<text x="178.82" y="1091.43" text-anchor="end">30</text>
<text x="224.27" y="1099.98" text-anchor="end">40</text>
<text x="269.72" y="1108.53" text-anchor="end">50</text>
<text x="315.17" y="1117.08" text-anchor="end">60</text>
<text x="339.36" y="1117.53" text-anchor="start">0</text>
<text x="385.79" y="1111.38" text-anchor="start">20</text>
<text x="432.21" y="1105.22" text-anchor="start">40</text>
<text x="478.64" y="1099.06" text-anchor="start">60</text>
<text x="525.07" y="1092.91" text-anchor="start">80</text>
<text x="571.50" y="1086.75" text-anchor="start">100</text>
<text x="617.93" y="1080.59" text-anchor="start">120</text>
<text x="664.36" y="1074.43" text-anchor="start">140</text>
<text x="204.80" y="1125.30" text-anchor="middle" font-size="13.8" letter-spacing="0.15">Input2</text>
<text x="469.30" y="1126.50" text-anchor="middle" font-size="13.8" letter-spacing="0.15">Input4</text>
<text transform="translate(23.80,960.90) rotate(-90)" text-anchor="middle" font-size="13.8" letter-spacing="0.3">Target</text>
</g>
<rect x="546.60" y="819.00" width="93.1" height="27.1" fill="#fff" stroke="#555" stroke-width="0.6"/>
<circle cx="560.20" cy="826.90" r="1.0" fill="#0000ff"/>
<circle cx="560.50" cy="839.50" r="2.2" fill="none" stroke="#c8242b" stroke-width="0.85"/>
<g font-family="'Liberation Serif', serif" font-size="10.8" fill="#111">
<text x="573.40" y="831.00">ANFIS Target</text>
<text x="573.40" y="843.30">ANFIS Output</text>
</g>
<g fill="#0a0aff">
<circle cx="64.0" cy="909.6" r="1.15"/>
<circle cx="61.7" cy="914.4" r="1.15"/>
<circle cx="59.7" cy="921.2" r="1.15"/>
<circle cx="61.3" cy="921.5" r="1.15"/>
<circle cx="66.3" cy="929.5" r="1.15"/>
<circle cx="60.1" cy="933.6" r="1.15"/>
<circle cx="80.1" cy="931.1" r="1.15"/>
<circle cx="64.1" cy="933.5" r="1.15"/>
<circle cx="65.0" cy="936.9" r="1.15"/>
<circle cx="66.6" cy="940.0" r="1.15"/>
<circle cx="62.5" cy="939.7" r="1.15"/>
<circle cx="64.6" cy="942.5" r="1.15"/>
<circle cx="59.8" cy="944.4" r="1.15"/>
<circle cx="61.5" cy="948.0" r="1.15"/>
<circle cx="64.6" cy="949.5" r="1.15"/>
<circle cx="69.1" cy="948.2" r="1.15"/>
<circle cx="73.7" cy="947.8" r="1.15"/>
<circle cx="63.7" cy="953.7" r="1.15"/>
<circle cx="69.0" cy="953.6" r="1.15"/>
<circle cx="73.4" cy="955.2" r="1.15"/>
<circle cx="79.6" cy="955.8" r="1.15"/>
<circle cx="84.1" cy="957.8" r="1.15"/>
<circle cx="62.6" cy="956.7" r="1.15"/>
<circle cx="66.2" cy="957.7" r="1.15"/>
<circle cx="64.2" cy="902.2" r="1.15"/>
<circle cx="104.4" cy="959.4" r="1.15"/>
<circle cx="68.9" cy="974.2" r="1.15"/>
<circle cx="62.3" cy="943.8" r="1.15"/>
<circle cx="65.9" cy="962.7" r="1.15"/>
<circle cx="60.9" cy="968.2" r="1.15"/>
<circle cx="66.7" cy="948.4" r="1.15"/>
<circle cx="66.4" cy="943.9" r="1.15"/>
<circle cx="66.2" cy="939.9" r="1.15"/>
<circle cx="63.3" cy="958.9" r="1.15"/>
<circle cx="60.6" cy="972.7" r="1.15"/>
<circle cx="61.0" cy="952.4" r="1.15"/>
<circle cx="62.6" cy="952.8" r="1.15"/>
<circle cx="66.0" cy="956.5" r="1.15"/>
<circle cx="65.2" cy="974.2" r="1.15"/>
<circle cx="68.0" cy="958.4" r="1.15"/>
<circle cx="66.1" cy="946.9" r="1.15"/>
<circle cx="64.5" cy="966.0" r="1.15"/>
<circle cx="65.6" cy="969.7" r="1.15"/>
<circle cx="62.4" cy="963.6" r="1.15"/>
<circle cx="62.3" cy="955.6" r="1.15"/>
<circle cx="58.2" cy="970.7" r="1.15"/>
<circle cx="61.1" cy="939.1" r="1.15"/>
<circle cx="64.3" cy="953.2" r="1.15"/>
<circle cx="67.1" cy="936.7" r="1.15"/>
<circle cx="60.7" cy="947.5" r="1.15"/>
<circle cx="63.5" cy="968.6" r="1.15"/>
<circle cx="59.9" cy="950.5" r="1.15"/>
<circle cx="62.6" cy="974.7" r="1.15"/>
<circle cx="61.3" cy="964.0" r="1.15"/>
<circle cx="67.3" cy="939.0" r="1.15"/>
<circle cx="60.3" cy="954.0" r="1.15"/>
<circle cx="59.2" cy="940.8" r="1.15"/>
<circle cx="66.6" cy="953.1" r="1.15"/>
<circle cx="62.1" cy="971.0" r="1.15"/>
<circle cx="65.1" cy="965.6" r="1.15"/>
<circle cx="64.4" cy="948.3" r="1.15"/>
<circle cx="66.8" cy="963.2" r="1.15"/>
<circle cx="73.4" cy="969.6" r="1.15"/>
<circle cx="70.4" cy="947.0" r="1.15"/>
<circle cx="81.8" cy="962.4" r="1.15"/>
<circle cx="68.6" cy="967.6" r="1.15"/>
<circle cx="79.3" cy="954.5" r="1.15"/>
<circle cx="83.1" cy="978.8" r="1.15"/>
<circle cx="69.8" cy="958.9" r="1.15"/>
<circle cx="88.5" cy="977.1" r="1.15"/>
<circle cx="68.1" cy="961.3" r="1.15"/>
<circle cx="75.8" cy="973.2" r="1.15"/>
<circle cx="85.4" cy="976.1" r="1.15"/>
<circle cx="75.1" cy="971.1" r="1.15"/>
<circle cx="79.5" cy="975.6" r="1.15"/>
<circle cx="89.6" cy="975.6" r="1.15"/>
<circle cx="75.0" cy="955.6" r="1.15"/>
<circle cx="91.3" cy="963.1" r="1.15"/>
<circle cx="85.5" cy="971.6" r="1.15"/>
<circle cx="78.6" cy="956.7" r="1.15"/>
<circle cx="74.3" cy="974.1" r="1.15"/>
<circle cx="79.8" cy="971.1" r="1.15"/>
<circle cx="83.2" cy="965.8" r="1.15"/>
<circle cx="71.7" cy="951.4" r="1.15"/>
<circle cx="77.0" cy="962.9" r="1.15"/>
<circle cx="68.9" cy="967.2" r="1.15"/>
<circle cx="90.1" cy="967.1" r="1.15"/>
<circle cx="69.3" cy="965.2" r="1.15"/>
<circle cx="84.2" cy="964.1" r="1.15"/>
<circle cx="73.2" cy="951.0" r="1.15"/>
<circle cx="78.6" cy="963.8" r="1.15"/>
<circle cx="80.4" cy="959.1" r="1.15"/>
<circle cx="84.6" cy="959.3" r="1.15"/>
<circle cx="74.6" cy="960.4" r="1.15"/>
<circle cx="72.2" cy="961.3" r="1.15"/>
<circle cx="87.4" cy="967.1" r="1.15"/>
<circle cx="70.2" cy="955.1" r="1.15"/>
<circle cx="83.4" cy="964.2" r="1.15"/>
<circle cx="72.4" cy="950.5" r="1.15"/>
<circle cx="72.4" cy="959.3" r="1.15"/>
<circle cx="76.7" cy="968.8" r="1.15"/>
<circle cx="72.2" cy="975.8" r="1.15"/>
<circle cx="120.0" cy="986.9" r="1.15"/>
<circle cx="149.2" cy="975.2" r="1.15"/>
<circle cx="125.0" cy="979.7" r="1.15"/>
<circle cx="148.7" cy="981.7" r="1.15"/>
<circle cx="94.0" cy="969.9" r="1.15"/>
<circle cx="122.9" cy="970.4" r="1.15"/>
<circle cx="99.7" cy="983.5" r="1.15"/>
<circle cx="147.7" cy="992.0" r="1.15"/>
<circle cx="92.6" cy="973.4" r="1.15"/>
<circle cx="116.2" cy="964.7" r="1.15"/>
<circle cx="116.4" cy="984.2" r="1.15"/>
<circle cx="102.9" cy="974.1" r="1.15"/>
<circle cx="136.6" cy="966.8" r="1.15"/>
<circle cx="112.8" cy="976.9" r="1.15"/>
<circle cx="116.4" cy="969.0" r="1.15"/>
<circle cx="111.2" cy="986.9" r="1.15"/>
<circle cx="98.1" cy="963.7" r="1.15"/>
<circle cx="104.9" cy="966.0" r="1.15"/>
<circle cx="107.2" cy="970.8" r="1.15"/>
<circle cx="136.6" cy="978.0" r="1.15"/>
<circle cx="130.4" cy="976.1" r="1.15"/>
<circle cx="101.7" cy="975.5" r="1.15"/>
<circle cx="125.9" cy="982.4" r="1.15"/>
<circle cx="142.2" cy="970.8" r="1.15"/>
<circle cx="113.5" cy="986.5" r="1.15"/>
<circle cx="140.0" cy="986.8" r="1.15"/>
<circle cx="144.3" cy="978.5" r="1.15"/>
<circle cx="108.5" cy="980.5" r="1.15"/>
<circle cx="133.0" cy="990.0" r="1.15"/>
<circle cx="131.4" cy="969.3" r="1.15"/>
<circle cx="110.3" cy="975.0" r="1.15"/>
<circle cx="140.0" cy="971.6" r="1.15"/>
<circle cx="96.7" cy="977.8" r="1.15"/>
<circle cx="101.4" cy="972.2" r="1.15"/>
<circle cx="118.1" cy="972.8" r="1.15"/>
<circle cx="127.1" cy="965.9" r="1.15"/>
<circle cx="115.3" cy="972.2" r="1.15"/>
<circle cx="95.0" cy="967.2" r="1.15"/>
<circle cx="130.3" cy="974.2" r="1.15"/>
<circle cx="101.1" cy="979.3" r="1.15"/>
<circle cx="131.8" cy="986.7" r="1.15"/>
<circle cx="130.2" cy="988.2" r="1.15"/>
<circle cx="140.1" cy="979.7" r="1.15"/>
<circle cx="111.2" cy="971.1" r="1.15"/>
<circle cx="151.7" cy="988.9" r="1.15"/>
<circle cx="148.6" cy="979.3" r="1.15"/>
<circle cx="116.8" cy="976.4" r="1.15"/>
<circle cx="144.5" cy="991.2" r="1.15"/>
<circle cx="120.9" cy="975.6" r="1.15"/>
<circle cx="112.5" cy="969.1" r="1.15"/>
<circle cx="137.0" cy="979.2" r="1.15"/>
<circle cx="100.1" cy="982.7" r="1.15"/>
<circle cx="148.5" cy="989.7" r="1.15"/>
<circle cx="107.1" cy="984.7" r="1.15"/>
<circle cx="98.6" cy="965.6" r="1.15"/>
<circle cx="145.6" cy="967.7" r="1.15"/>
<circle cx="96.1" cy="982.4" r="1.15"/>
<circle cx="125.3" cy="987.0" r="1.15"/>
<circle cx="146.1" cy="977.9" r="1.15"/>
<circle cx="137.8" cy="968.9" r="1.15"/>
<circle cx="135.3" cy="973.5" r="1.15"/>
<circle cx="139.2" cy="983.3" r="1.15"/>
<circle cx="137.7" cy="976.1" r="1.15"/>
<circle cx="111.6" cy="973.4" r="1.15"/>
<circle cx="113.3" cy="980.8" r="1.15"/>
<circle cx="136.4" cy="974.1" r="1.15"/>
<circle cx="119.4" cy="987.8" r="1.15"/>
<circle cx="122.0" cy="986.8" r="1.15"/>
<circle cx="144.7" cy="989.2" r="1.15"/>
<circle cx="141.4" cy="975.9" r="1.15"/>
<circle cx="143.8" cy="984.8" r="1.15"/>
<circle cx="138.1" cy="983.8" r="1.15"/>
<circle cx="102.2" cy="983.5" r="1.15"/>
<circle cx="139.6" cy="968.3" r="1.15"/>
<circle cx="137.1" cy="972.9" r="1.15"/>
<circle cx="148.0" cy="970.5" r="1.15"/>
<circle cx="136.8" cy="985.2" r="1.15"/>
<circle cx="131.5" cy="973.4" r="1.15"/>
<circle cx="147.9" cy="968.5" r="1.15"/>
<circle cx="100.7" cy="971.4" r="1.15"/>
<circle cx="148.8" cy="983.9" r="1.15"/>
<circle cx="144.7" cy="966.4" r="1.15"/>
<circle cx="139.0" cy="991.9" r="1.15"/>
<circle cx="103.6" cy="963.7" r="1.15"/>
<circle cx="143.1" cy="987.5" r="1.15"/>
<circle cx="145.0" cy="978.5" r="1.15"/>
<circle cx="148.9" cy="977.0" r="1.15"/>
<circle cx="122.9" cy="979.5" r="1.15"/>
<circle cx="141.8" cy="969.3" r="1.15"/>
<circle cx="134.9" cy="982.0" r="1.15"/>
<circle cx="91.9" cy="970.8" r="1.15"/>
<circle cx="112.2" cy="982.5" r="1.15"/>
<circle cx="97.7" cy="977.2" r="1.15"/>
<circle cx="102.3" cy="979.3" r="1.15"/>
<circle cx="118.8" cy="964.3" r="1.15"/>
<circle cx="107.0" cy="973.7" r="1.15"/>
<circle cx="110.4" cy="966.7" r="1.15"/>
<circle cx="151.1" cy="994.0" r="1.15"/>
<circle cx="133.5" cy="963.6" r="1.15"/>
<circle cx="138.9" cy="974.1" r="1.15"/>
<circle cx="124.8" cy="963.2" r="1.15"/>
<circle cx="131.0" cy="976.9" r="1.15"/>
<circle cx="137.8" cy="970.9" r="1.15"/>
<circle cx="114.4" cy="983.0" r="1.15"/>
<circle cx="117.3" cy="982.5" r="1.15"/>
<circle cx="104.8" cy="978.0" r="1.15"/>
<circle cx="92.8" cy="977.2" r="1.15"/>
<circle cx="120.2" cy="965.0" r="1.15"/>
<circle cx="145.9" cy="969.7" r="1.15"/>
<circle cx="119.2" cy="980.2" r="1.15"/>
<circle cx="96.8" cy="980.5" r="1.15"/>
<circle cx="133.1" cy="971.1" r="1.15"/>
<circle cx="103.8" cy="984.7" r="1.15"/>
<circle cx="105.9" cy="968.9" r="1.15"/>
<circle cx="150.2" cy="981.8" r="1.15"/>
<circle cx="104.1" cy="981.9" r="1.15"/>
<circle cx="149.2" cy="972.5" r="1.15"/>
<circle cx="128.8" cy="978.3" r="1.15"/>
<circle cx="99.7" cy="967.6" r="1.15"/>
<circle cx="138.5" cy="983.6" r="1.15"/>
<circle cx="106.3" cy="975.8" r="1.15"/>
<circle cx="143.4" cy="990.6" r="1.15"/>
<circle cx="111.7" cy="965.5" r="1.15"/>
<circle cx="126.2" cy="985.0" r="1.15"/>
<circle cx="144.4" cy="975.6" r="1.15"/>
<circle cx="108.7" cy="986.2" r="1.15"/>
<circle cx="94.3" cy="974.5" r="1.15"/>
<circle cx="94.5" cy="979.5" r="1.15"/>
<circle cx="147.8" cy="973.6" r="1.15"/>
<circle cx="112.3" cy="975.3" r="1.15"/>
<circle cx="124.6" cy="987.5" r="1.15"/>
<circle cx="95.4" cy="972.4" r="1.15"/>
<circle cx="106.0" cy="964.8" r="1.15"/>
<circle cx="118.5" cy="984.6" r="1.15"/>
<circle cx="150.7" cy="971.1" r="1.15"/>
<circle cx="131.9" cy="982.5" r="1.15"/>
<circle cx="136.2" cy="991.6" r="1.15"/>
<circle cx="141.4" cy="983.8" r="1.15"/>
<circle cx="146.3" cy="981.9" r="1.15"/>
<circle cx="132.5" cy="967.3" r="1.15"/>
<circle cx="103.6" cy="980.4" r="1.15"/>
<circle cx="131.3" cy="965.7" r="1.15"/>
<circle cx="112.5" cy="968.6" r="1.15"/>
<circle cx="121.1" cy="982.1" r="1.15"/>
<circle cx="109.4" cy="968.2" r="1.15"/>
<circle cx="149.9" cy="985.9" r="1.15"/>
<circle cx="125.2" cy="966.6" r="1.15"/>
<circle cx="144.6" cy="981.4" r="1.15"/>
<circle cx="147.2" cy="994.5" r="1.15"/>
<circle cx="151.7" cy="989.5" r="1.15"/>
<circle cx="117.0" cy="971.7" r="1.15"/>
<circle cx="93.6" cy="967.5" r="1.15"/>
<circle cx="103.6" cy="981.3" r="1.15"/>
<circle cx="105.1" cy="974.1" r="1.15"/>
<circle cx="119.9" cy="979.0" r="1.15"/>
<circle cx="102.2" cy="972.0" r="1.15"/>
<circle cx="122.8" cy="980.0" r="1.15"/>
<circle cx="110.7" cy="977.5" r="1.15"/>
<circle cx="112.9" cy="984.4" r="1.15"/>
<circle cx="97.2" cy="976.2" r="1.15"/>
<circle cx="98.6" cy="974.9" r="1.15"/>
<circle cx="94.8" cy="974.1" r="1.15"/>
<circle cx="94.5" cy="979.6" r="1.15"/>
<circle cx="110.8" cy="983.8" r="1.15"/>
<circle cx="117.5" cy="974.9" r="1.15"/>
<circle cx="108.8" cy="979.7" r="1.15"/>
<circle cx="106.3" cy="969.8" r="1.15"/>
<circle cx="104.0" cy="978.4" r="1.15"/>
<circle cx="97.4" cy="977.8" r="1.15"/>
<circle cx="105.9" cy="973.7" r="1.15"/>
<circle cx="100.8" cy="968.7" r="1.15"/>
<circle cx="114.7" cy="984.4" r="1.15"/>
<circle cx="102.0" cy="978.7" r="1.15"/>
<circle cx="100.9" cy="969.5" r="1.15"/>
<circle cx="113.8" cy="985.6" r="1.15"/>
<circle cx="97.6" cy="981.2" r="1.15"/>
<circle cx="113.7" cy="971.2" r="1.15"/>
<circle cx="124.1" cy="984.9" r="1.15"/>
<circle cx="93.3" cy="975.1" r="1.15"/>
<circle cx="99.0" cy="968.9" r="1.15"/>
<circle cx="103.0" cy="969.9" r="1.15"/>
<circle cx="122.1" cy="984.9" r="1.15"/>
<circle cx="115.2" cy="976.8" r="1.15"/>
<circle cx="122.5" cy="983.6" r="1.15"/>
<circle cx="108.0" cy="976.5" r="1.15"/>
<circle cx="105.8" cy="975.2" r="1.15"/>
<circle cx="111.5" cy="974.5" r="1.15"/>
<circle cx="99.5" cy="972.3" r="1.15"/>
<circle cx="105.8" cy="978.5" r="1.15"/>
<circle cx="117.9" cy="974.8" r="1.15"/>
<circle cx="121.1" cy="975.4" r="1.15"/>
<circle cx="109.1" cy="972.0" r="1.15"/>
<circle cx="96.3" cy="977.2" r="1.15"/>
<circle cx="105.5" cy="984.0" r="1.15"/>
<circle cx="106.8" cy="978.7" r="1.15"/>
<circle cx="92.3" cy="976.9" r="1.15"/>
<circle cx="96.9" cy="970.5" r="1.15"/>
<circle cx="112.2" cy="970.6" r="1.15"/>
<circle cx="110.7" cy="974.8" r="1.15"/>
<circle cx="108.3" cy="982.3" r="1.15"/>
<circle cx="110.2" cy="975.6" r="1.15"/>
<circle cx="111.3" cy="982.4" r="1.15"/>
<circle cx="101.0" cy="977.1" r="1.15"/>
<circle cx="119.8" cy="973.7" r="1.15"/>
<circle cx="104.1" cy="971.8" r="1.15"/>
<circle cx="96.5" cy="978.1" r="1.15"/>
<circle cx="115.5" cy="980.5" r="1.15"/>
<circle cx="113.9" cy="978.5" r="1.15"/>
<circle cx="118.2" cy="973.0" r="1.15"/>
<circle cx="102.3" cy="973.8" r="1.15"/>
<circle cx="134.0" cy="988.7" r="1.15"/>
<circle cx="134.9" cy="984.3" r="1.15"/>
<circle cx="144.3" cy="984.5" r="1.15"/>
<circle cx="134.7" cy="980.3" r="1.15"/>
<circle cx="148.5" cy="989.5" r="1.15"/>
<circle cx="150.0" cy="986.3" r="1.15"/>
<circle cx="125.8" cy="979.0" r="1.15"/>
<circle cx="135.9" cy="987.5" r="1.15"/>
<circle cx="131.3" cy="982.2" r="1.15"/>
<circle cx="131.6" cy="981.3" r="1.15"/>
<circle cx="124.4" cy="985.8" r="1.15"/>
<circle cx="139.3" cy="979.7" r="1.15"/>
<circle cx="136.0" cy="980.7" r="1.15"/>
<circle cx="127.7" cy="984.4" r="1.15"/>
<circle cx="139.0" cy="986.9" r="1.15"/>
<circle cx="131.1" cy="987.8" r="1.15"/>
<circle cx="144.3" cy="989.3" r="1.15"/>
<circle cx="129.5" cy="982.5" r="1.15"/>
<circle cx="132.6" cy="979.9" r="1.15"/>
<circle cx="149.0" cy="991.1" r="1.15"/>
<circle cx="142.8" cy="981.9" r="1.15"/>
<circle cx="129.1" cy="984.0" r="1.15"/>
<circle cx="124.4" cy="984.0" r="1.15"/>
<circle cx="141.6" cy="981.7" r="1.15"/>
<circle cx="145.9" cy="985.8" r="1.15"/>
<circle cx="180.3" cy="987.0" r="1.15"/>
<circle cx="195.4" cy="997.8" r="1.15"/>
<circle cx="157.7" cy="996.9" r="1.15"/>
<circle cx="218.0" cy="1005.8" r="1.15"/>
<circle cx="157.6" cy="984.7" r="1.15"/>
<circle cx="189.3" cy="1003.0" r="1.15"/>
<circle cx="169.3" cy="983.3" r="1.15"/>
<circle cx="190.5" cy="998.7" r="1.15"/>
<circle cx="222.6" cy="1005.6" r="1.15"/>
<circle cx="222.5" cy="1002.6" r="1.15"/>
<circle cx="195.9" cy="992.8" r="1.15"/>
<circle cx="235.2" cy="1007.1" r="1.15"/>
<circle cx="171.4" cy="991.8" r="1.15"/>
<circle cx="198.7" cy="1006.1" r="1.15"/>
<circle cx="234.9" cy="999.3" r="1.15"/>
<circle cx="166.7" cy="987.0" r="1.15"/>
<circle cx="151.3" cy="993.8" r="1.15"/>
<circle cx="171.2" cy="987.6" r="1.15"/>
<circle cx="228.5" cy="1000.8" r="1.15"/>
<circle cx="169.0" cy="991.1" r="1.15"/>
<circle cx="170.6" cy="998.5" r="1.15"/>
<circle cx="150.7" cy="988.6" r="1.15"/>
<circle cx="208.2" cy="1000.0" r="1.15"/>
<circle cx="162.7" cy="992.7" r="1.15"/>
<circle cx="216.5" cy="995.7" r="1.15"/>
<circle cx="215.0" cy="996.5" r="1.15"/>
<circle cx="181.8" cy="1002.3" r="1.15"/>
<circle cx="185.7" cy="991.0" r="1.15"/>
<circle cx="212.8" cy="1001.2" r="1.15"/>
<circle cx="206.5" cy="1000.7" r="1.15"/>
<circle cx="199.6" cy="995.8" r="1.15"/>
<circle cx="215.4" cy="1004.0" r="1.15"/>
<circle cx="191.9" cy="991.0" r="1.15"/>
<circle cx="234.0" cy="998.5" r="1.15"/>
<circle cx="175.5" cy="995.2" r="1.15"/>
<circle cx="185.0" cy="999.6" r="1.15"/>
<circle cx="187.4" cy="989.6" r="1.15"/>
<circle cx="167.8" cy="986.2" r="1.15"/>
<circle cx="170.0" cy="999.0" r="1.15"/>
<circle cx="187.4" cy="993.9" r="1.15"/>
<circle cx="173.2" cy="995.0" r="1.15"/>
<circle cx="182.5" cy="999.5" r="1.15"/>
<circle cx="185.4" cy="988.2" r="1.15"/>
<circle cx="179.7" cy="997.7" r="1.15"/>
<circle cx="154.8" cy="981.2" r="1.15"/>
<circle cx="162.0" cy="997.6" r="1.15"/>
<circle cx="177.4" cy="1001.2" r="1.15"/>
<circle cx="162.8" cy="987.1" r="1.15"/>
<circle cx="153.3" cy="986.1" r="1.15"/>
<circle cx="152.3" cy="991.9" r="1.15"/>
<circle cx="217.7" cy="999.0" r="1.15"/>
<circle cx="208.6" cy="1005.5" r="1.15"/>
<circle cx="159.1" cy="981.4" r="1.15"/>
<circle cx="158.8" cy="993.8" r="1.15"/>
<circle cx="238.1" cy="1003.2" r="1.15"/>
<circle cx="221.8" cy="999.1" r="1.15"/>
<circle cx="152.9" cy="980.0" r="1.15"/>
<circle cx="203.0" cy="1003.0" r="1.15"/>
<circle cx="168.7" cy="984.0" r="1.15"/>
<circle cx="193.0" cy="995.1" r="1.15"/>
<circle cx="170.9" cy="988.2" r="1.15"/>
<circle cx="175.4" cy="988.5" r="1.15"/>
<circle cx="176.9" cy="996.3" r="1.15"/>
<circle cx="211.2" cy="998.2" r="1.15"/>
<circle cx="219.5" cy="996.5" r="1.15"/>
<circle cx="149.7" cy="982.0" r="1.15"/>
<circle cx="172.1" cy="983.7" r="1.15"/>
<circle cx="186.3" cy="996.1" r="1.15"/>
<circle cx="153.9" cy="995.0" r="1.15"/>
<circle cx="149.9" cy="986.4" r="1.15"/>
<circle cx="153.4" cy="983.4" r="1.15"/>
<circle cx="213.4" cy="1000.2" r="1.15"/>
<circle cx="167.8" cy="997.2" r="1.15"/>
<circle cx="203.4" cy="1001.2" r="1.15"/>
<circle cx="162.0" cy="992.1" r="1.15"/>
<circle cx="149.9" cy="989.2" r="1.15"/>
<circle cx="228.0" cy="1005.7" r="1.15"/>
<circle cx="225.9" cy="997.2" r="1.15"/>
<circle cx="169.7" cy="990.7" r="1.15"/>
<circle cx="182.6" cy="987.5" r="1.15"/>
<circle cx="223.6" cy="1004.6" r="1.15"/>
<circle cx="185.9" cy="997.7" r="1.15"/>
<circle cx="199.8" cy="998.9" r="1.15"/>
<circle cx="232.2" cy="1001.4" r="1.15"/>
<circle cx="181.8" cy="991.1" r="1.15"/>
<circle cx="178.0" cy="1000.3" r="1.15"/>
<circle cx="152.9" cy="989.6" r="1.15"/>
<circle cx="206.7" cy="1004.7" r="1.15"/>
<circle cx="184.7" cy="991.7" r="1.15"/>
<circle cx="169.8" cy="982.8" r="1.15"/>
<circle cx="179.8" cy="991.1" r="1.15"/>
<circle cx="225.4" cy="1002.3" r="1.15"/>
<circle cx="220.2" cy="1006.2" r="1.15"/>
<circle cx="212.2" cy="1003.6" r="1.15"/>
<circle cx="153.6" cy="988.6" r="1.15"/>
<circle cx="161.2" cy="986.5" r="1.15"/>
<circle cx="217.0" cy="1002.2" r="1.15"/>
<circle cx="183.1" cy="998.5" r="1.15"/>
<circle cx="237.9" cy="1000.4" r="1.15"/>
<circle cx="174.7" cy="998.7" r="1.15"/>
<circle cx="203.7" cy="996.3" r="1.15"/>
<circle cx="171.2" cy="988.7" r="1.15"/>
<circle cx="197.8" cy="997.1" r="1.15"/>
<circle cx="176.7" cy="986.5" r="1.15"/>
<circle cx="224.6" cy="998.9" r="1.15"/>
<circle cx="186.0" cy="989.5" r="1.15"/>
<circle cx="217.1" cy="1004.2" r="1.15"/>
<circle cx="162.9" cy="995.9" r="1.15"/>
<circle cx="178.5" cy="991.2" r="1.15"/>
<circle cx="208.3" cy="1002.3" r="1.15"/>
<circle cx="161.2" cy="995.1" r="1.15"/>
<circle cx="213.1" cy="1008.1" r="1.15"/>
<circle cx="229.5" cy="996.7" r="1.15"/>
<circle cx="231.3" cy="1002.3" r="1.15"/>
<circle cx="159.3" cy="990.4" r="1.15"/>
<circle cx="229.4" cy="1004.2" r="1.15"/>
<circle cx="178.4" cy="987.4" r="1.15"/>
<circle cx="198.3" cy="1002.2" r="1.15"/>
<circle cx="221.0" cy="1007.0" r="1.15"/>
<circle cx="226.8" cy="1007.0" r="1.15"/>
<circle cx="179.5" cy="988.8" r="1.15"/>
<circle cx="239.2" cy="1006.2" r="1.15"/>
<circle cx="183.9" cy="1000.9" r="1.15"/>
<circle cx="176.7" cy="994.6" r="1.15"/>
<circle cx="176.7" cy="985.2" r="1.15"/>
<circle cx="194.7" cy="999.1" r="1.15"/>
<circle cx="158.9" cy="989.3" r="1.15"/>
<circle cx="189.2" cy="992.3" r="1.15"/>
<circle cx="192.7" cy="1002.8" r="1.15"/>
<circle cx="218.5" cy="1000.3" r="1.15"/>
<circle cx="159.8" cy="986.0" r="1.15"/>
<circle cx="191.8" cy="998.1" r="1.15"/>
<circle cx="168.4" cy="992.5" r="1.15"/>
<circle cx="210.6" cy="998.1" r="1.15"/>
<circle cx="212.0" cy="1001.6" r="1.15"/>
<circle cx="176.1" cy="992.9" r="1.15"/>
<circle cx="209.1" cy="1004.3" r="1.15"/>
<circle cx="154.2" cy="981.2" r="1.15"/>
<circle cx="191.7" cy="1004.0" r="1.15"/>
<circle cx="162.8" cy="990.0" r="1.15"/>
<circle cx="171.4" cy="993.3" r="1.15"/>
<circle cx="167.7" cy="989.5" r="1.15"/>
<circle cx="159.0" cy="992.8" r="1.15"/>
<circle cx="205.1" cy="1000.2" r="1.15"/>
<circle cx="206.8" cy="1002.1" r="1.15"/>
<circle cx="229.5" cy="998.0" r="1.15"/>
<circle cx="225.6" cy="1008.1" r="1.15"/>
<circle cx="230.4" cy="1007.1" r="1.15"/>
<circle cx="227.8" cy="1002.8" r="1.15"/>
<circle cx="223.4" cy="1007.7" r="1.15"/>
<circle cx="162.4" cy="964.5" r="1.15"/>
<circle cx="166.5" cy="963.2" r="1.15"/>
<circle cx="164.9" cy="966.1" r="1.15"/>
<circle cx="171.8" cy="966.8" r="1.15"/>
<circle cx="172.5" cy="969.3" r="1.15"/>
<circle cx="177.9" cy="965.5" r="1.15"/>
<circle cx="177.5" cy="968.5" r="1.15"/>
<circle cx="180.1" cy="972.1" r="1.15"/>
<circle cx="176.7" cy="972.0" r="1.15"/>
<circle cx="171.7" cy="975.4" r="1.15"/>
<circle cx="162.4" cy="972.9" r="1.15"/>
<circle cx="152.9" cy="972.0" r="1.15"/>
<circle cx="156.8" cy="976.2" r="1.15"/>
<circle cx="186.3" cy="960.5" r="1.15"/>
<circle cx="189.3" cy="966.7" r="1.15"/>
<circle cx="186.4" cy="968.4" r="1.15"/>
<circle cx="197.2" cy="966.6" r="1.15"/>
<circle cx="193.9" cy="971.3" r="1.15"/>
<circle cx="197.6" cy="972.5" r="1.15"/>
<circle cx="205.5" cy="968.4" r="1.15"/>
<circle cx="210.3" cy="967.9" r="1.15"/>
<circle cx="184.2" cy="979.2" r="1.15"/>
<circle cx="191.4" cy="980.6" r="1.15"/>
<circle cx="195.2" cy="980.1" r="1.15"/>
<circle cx="198.8" cy="982.5" r="1.15"/>
<circle cx="198.8" cy="984.5" r="1.15"/>
<circle cx="206.1" cy="985.4" r="1.15"/>
<circle cx="208.8" cy="989.5" r="1.15"/>
<circle cx="189.8" cy="984.3" r="1.15"/>
<circle cx="193.7" cy="986.0" r="1.15"/>
<circle cx="216.8" cy="989.3" r="1.15"/>
<circle cx="217.4" cy="993.2" r="1.15"/>
<circle cx="224.8" cy="992.1" r="1.15"/>
<circle cx="231.2" cy="992.2" r="1.15"/>
<circle cx="234.9" cy="988.4" r="1.15"/>
<circle cx="247.9" cy="957.5" r="1.15"/>
<circle cx="248.3" cy="991.6" r="1.15"/>
<circle cx="249.0" cy="995.4" r="1.15"/>
<circle cx="167.6" cy="977.9" r="1.15"/>
<circle cx="174.6" cy="979.0" r="1.15"/>
<circle cx="181.9" cy="981.6" r="1.15"/>
<circle cx="186.2" cy="986.8" r="1.15"/>
<circle cx="202.7" cy="990.6" r="1.15"/>
<circle cx="241.7" cy="965.4" r="1.15"/>
<circle cx="255.4" cy="975.1" r="1.15"/>
<circle cx="273.3" cy="976.6" r="1.15"/>
<circle cx="247.4" cy="957.2" r="1.15"/>
<circle cx="269.0" cy="958.6" r="1.15"/>
<circle cx="268.5" cy="959.5" r="1.15"/>
<circle cx="294.7" cy="958.8" r="1.15"/>
<circle cx="314.5" cy="953.2" r="1.15"/>
<circle cx="206.6" cy="968.3" r="1.15"/>
<circle cx="211.0" cy="968.6" r="1.15"/>
<circle cx="370.1" cy="948.6" r="1.15"/>
<circle cx="248.2" cy="991.0" r="1.15"/>
<circle cx="250.9" cy="994.4" r="1.15"/>
<circle cx="254.0" cy="999.8" r="1.15"/>
<circle cx="256.4" cy="1002.3" r="1.15"/>
<circle cx="247.4" cy="1000.4" r="1.15"/>
<circle cx="266.5" cy="1008.3" r="1.15"/>
<circle cx="269.9" cy="1009.5" r="1.15"/>
<circle cx="274.3" cy="1007.7" r="1.15"/>
<circle cx="271.4" cy="1001.1" r="1.15"/>
<circle cx="278.4" cy="997.7" r="1.15"/>
<circle cx="282.3" cy="997.2" r="1.15"/>
<circle cx="286.2" cy="999.1" r="1.15"/>
<circle cx="306.1" cy="1016.2" r="1.15"/>
<circle cx="320.7" cy="1015.6" r="1.15"/>
<circle cx="310.6" cy="1004.4" r="1.15"/>
<circle cx="301.0" cy="996.8" r="1.15"/>
<circle cx="317.3" cy="994.9" r="1.15"/>
<circle cx="301.4" cy="987.7" r="1.15"/>
<circle cx="331.7" cy="978.2" r="1.15"/>
<circle cx="346.1" cy="983.4" r="1.15"/>
<circle cx="347.0" cy="981.3" r="1.15"/>
<circle cx="287.5" cy="1016.2" r="1.15"/>
<circle cx="290.0" cy="1017.0" r="1.15"/>
<circle cx="293.2" cy="1015.5" r="1.15"/>
<circle cx="295.6" cy="1016.8" r="1.15"/>
<circle cx="298.0" cy="1015.3" r="1.15"/>
<circle cx="299.0" cy="1017.4" r="1.15"/>
<circle cx="249.1" cy="1009.2" r="1.15"/>
<circle cx="251.0" cy="1009.4" r="1.15"/>
<circle cx="252.6" cy="1009.2" r="1.15"/>
<circle cx="251.1" cy="1009.8" r="1.15"/>
<circle cx="252.8" cy="1009.3" r="1.15"/>
<circle cx="241.7" cy="965.2" r="1.15"/>
<circle cx="320.8" cy="953.2" r="1.15"/>
<circle cx="347.2" cy="990.1" r="1.15"/>
<circle cx="377.3" cy="938.9" r="1.15"/>
<circle cx="391.8" cy="937.0" r="1.15"/>
<circle cx="371.2" cy="948.4" r="1.15"/>
<circle cx="383.9" cy="986.5" r="1.15"/>
<circle cx="418.3" cy="973.3" r="1.15"/>
</g>
<g fill="none" stroke="#e8141c" stroke-width="1.0">
<circle cx="64.2" cy="909.7" r="2.3"/>
<circle cx="60.9" cy="914.8" r="2.3"/>
<circle cx="59.8" cy="920.9" r="2.3"/>
<circle cx="62.0" cy="921.4" r="2.3"/>
<circle cx="65.8" cy="929.1" r="2.3"/>
<circle cx="60.5" cy="933.1" r="2.3"/>
<circle cx="80.4" cy="931.3" r="2.3"/>
<circle cx="64.6" cy="933.8" r="2.3"/>
<circle cx="65.3" cy="936.7" r="2.3"/>
<circle cx="66.1" cy="939.6" r="2.3"/>
<circle cx="62.4" cy="939.6" r="2.3"/>
<circle cx="64.6" cy="942.6" r="2.3"/>
<circle cx="59.9" cy="944.3" r="2.3"/>
<circle cx="61.4" cy="948.4" r="2.3"/>
<circle cx="64.6" cy="949.1" r="2.3"/>
<circle cx="69.0" cy="948.1" r="2.3"/>
<circle cx="73.4" cy="948.1" r="2.3"/>
<circle cx="63.9" cy="953.5" r="2.3"/>
<circle cx="69.0" cy="953.5" r="2.3"/>
<circle cx="73.4" cy="955.0" r="2.3"/>
<circle cx="79.9" cy="956.0" r="2.3"/>
<circle cx="84.3" cy="957.9" r="2.3"/>
<circle cx="62.4" cy="956.4" r="2.3"/>
<circle cx="66.1" cy="957.9" r="2.3"/>
<circle cx="64.2" cy="904.6" r="2.3"/>
<circle cx="68.3" cy="974.1" r="2.3"/>
<circle cx="63.0" cy="943.9" r="2.3"/>
<circle cx="66.6" cy="962.9" r="2.3"/>
<circle cx="61.9" cy="967.6" r="2.3"/>
<circle cx="67.6" cy="949.3" r="2.3"/>
<circle cx="66.4" cy="943.8" r="2.3"/>
<circle cx="66.1" cy="939.3" r="2.3"/>
<circle cx="62.8" cy="959.3" r="2.3"/>
<circle cx="60.2" cy="972.8" r="2.3"/>
<circle cx="59.9" cy="952.6" r="2.3"/>
<circle cx="62.8" cy="951.7" r="2.3"/>
<circle cx="65.5" cy="956.1" r="2.3"/>
<circle cx="64.2" cy="973.3" r="2.3"/>
<circle cx="67.4" cy="957.6" r="2.3"/>
<circle cx="65.8" cy="947.3" r="2.3"/>
<circle cx="64.3" cy="966.4" r="2.3"/>
<circle cx="65.4" cy="969.6" r="2.3"/>
<circle cx="62.0" cy="963.8" r="2.3"/>
<circle cx="62.4" cy="955.5" r="2.3"/>
<circle cx="59.1" cy="970.3" r="2.3"/>
<circle cx="61.8" cy="939.1" r="2.3"/>
<circle cx="65.1" cy="952.3" r="2.3"/>
<circle cx="66.9" cy="936.5" r="2.3"/>
<circle cx="60.6" cy="947.5" r="2.3"/>
<circle cx="63.4" cy="969.5" r="2.3"/>
<circle cx="60.4" cy="950.1" r="2.3"/>
<circle cx="63.2" cy="974.3" r="2.3"/>
<circle cx="61.0" cy="964.3" r="2.3"/>
<circle cx="67.4" cy="938.6" r="2.3"/>
<circle cx="60.2" cy="954.1" r="2.3"/>
<circle cx="59.1" cy="941.4" r="2.3"/>
<circle cx="66.6" cy="954.0" r="2.3"/>
<circle cx="61.6" cy="970.8" r="2.3"/>
<circle cx="66.2" cy="965.4" r="2.3"/>
<circle cx="63.9" cy="948.5" r="2.3"/>
<circle cx="67.2" cy="964.0" r="2.3"/>
<circle cx="73.5" cy="969.2" r="2.3"/>
<circle cx="70.7" cy="947.1" r="2.3"/>
<circle cx="82.4" cy="962.0" r="2.3"/>
<circle cx="68.3" cy="967.7" r="2.3"/>
<circle cx="79.0" cy="953.9" r="2.3"/>
<circle cx="82.7" cy="978.7" r="2.3"/>
<circle cx="69.3" cy="958.2" r="2.3"/>
<circle cx="88.8" cy="976.9" r="2.3"/>
<circle cx="68.4" cy="962.1" r="2.3"/>
<circle cx="76.6" cy="973.9" r="2.3"/>
<circle cx="85.0" cy="976.2" r="2.3"/>
<circle cx="75.0" cy="971.2" r="2.3"/>
<circle cx="79.6" cy="976.3" r="2.3"/>
<circle cx="90.3" cy="975.0" r="2.3"/>
<circle cx="75.2" cy="955.2" r="2.3"/>
<circle cx="90.5" cy="962.9" r="2.3"/>
<circle cx="86.4" cy="971.5" r="2.3"/>
<circle cx="78.6" cy="957.0" r="2.3"/>
<circle cx="73.9" cy="974.5" r="2.3"/>
<circle cx="80.2" cy="970.8" r="2.3"/>
<circle cx="83.2" cy="966.4" r="2.3"/>
<circle cx="71.6" cy="951.8" r="2.3"/>
<circle cx="77.2" cy="962.9" r="2.3"/>
<circle cx="69.2" cy="966.7" r="2.3"/>
<circle cx="90.1" cy="966.9" r="2.3"/>
<circle cx="68.2" cy="965.1" r="2.3"/>
<circle cx="83.4" cy="963.8" r="2.3"/>
<circle cx="73.8" cy="950.2" r="2.3"/>
<circle cx="79.2" cy="962.8" r="2.3"/>
<circle cx="80.5" cy="959.2" r="2.3"/>
<circle cx="85.3" cy="960.0" r="2.3"/>
<circle cx="74.3" cy="960.1" r="2.3"/>
<circle cx="71.1" cy="960.9" r="2.3"/>
<circle cx="87.7" cy="966.7" r="2.3"/>
<circle cx="70.5" cy="955.3" r="2.3"/>
<circle cx="82.3" cy="963.2" r="2.3"/>
<circle cx="72.0" cy="950.9" r="2.3"/>
<circle cx="73.1" cy="958.6" r="2.3"/>
<circle cx="76.4" cy="968.4" r="2.3"/>
<circle cx="72.4" cy="975.4" r="2.3"/>
<circle cx="119.8" cy="987.0" r="2.3"/>
<circle cx="149.7" cy="975.3" r="2.3"/>
<circle cx="124.8" cy="979.2" r="2.3"/>
<circle cx="148.7" cy="981.9" r="2.3"/>
<circle cx="93.5" cy="969.0" r="2.3"/>
<circle cx="123.3" cy="970.2" r="2.3"/>
<circle cx="99.2" cy="984.4" r="2.3"/>
<circle cx="147.3" cy="992.2" r="2.3"/>
<circle cx="92.5" cy="974.0" r="2.3"/>
<circle cx="116.1" cy="965.3" r="2.3"/>
<circle cx="116.5" cy="984.5" r="2.3"/>
<circle cx="102.7" cy="974.0" r="2.3"/>
<circle cx="137.0" cy="967.2" r="2.3"/>
<circle cx="112.3" cy="976.2" r="2.3"/>
<circle cx="116.9" cy="969.2" r="2.3"/>
<circle cx="111.0" cy="986.9" r="2.3"/>
<circle cx="98.3" cy="963.4" r="2.3"/>
<circle cx="105.1" cy="965.8" r="2.3"/>
<circle cx="107.4" cy="970.3" r="2.3"/>
<circle cx="136.7" cy="978.1" r="2.3"/>
<circle cx="129.2" cy="976.5" r="2.3"/>
<circle cx="101.9" cy="975.1" r="2.3"/>
<circle cx="126.5" cy="981.7" r="2.3"/>
<circle cx="142.2" cy="970.2" r="2.3"/>
<circle cx="114.0" cy="986.8" r="2.3"/>
<circle cx="140.4" cy="987.6" r="2.3"/>
<circle cx="143.7" cy="979.5" r="2.3"/>
<circle cx="108.6" cy="980.8" r="2.3"/>
<circle cx="133.6" cy="990.4" r="2.3"/>
<circle cx="131.6" cy="969.6" r="2.3"/>
<circle cx="109.7" cy="975.5" r="2.3"/>
<circle cx="139.4" cy="972.0" r="2.3"/>
<circle cx="96.8" cy="978.2" r="2.3"/>
<circle cx="101.7" cy="971.0" r="2.3"/>
<circle cx="118.1" cy="973.9" r="2.3"/>
<circle cx="126.4" cy="966.5" r="2.3"/>
<circle cx="115.0" cy="973.1" r="2.3"/>
<circle cx="96.3" cy="967.0" r="2.3"/>
<circle cx="130.2" cy="975.1" r="2.3"/>
<circle cx="100.6" cy="978.3" r="2.3"/>
<circle cx="132.0" cy="985.9" r="2.3"/>
<circle cx="130.4" cy="988.7" r="2.3"/>
<circle cx="140.0" cy="979.9" r="2.3"/>
<circle cx="111.3" cy="971.2" r="2.3"/>
<circle cx="151.4" cy="989.4" r="2.3"/>
<circle cx="148.8" cy="979.3" r="2.3"/>
<circle cx="116.8" cy="976.4" r="2.3"/>
<circle cx="144.2" cy="992.0" r="2.3"/>
<circle cx="120.0" cy="977.2" r="2.3"/>
<circle cx="113.1" cy="969.5" r="2.3"/>
<circle cx="137.2" cy="979.7" r="2.3"/>
<circle cx="100.8" cy="981.5" r="2.3"/>
<circle cx="149.0" cy="990.3" r="2.3"/>
<circle cx="106.5" cy="983.7" r="2.3"/>
<circle cx="99.5" cy="964.8" r="2.3"/>
<circle cx="145.8" cy="968.3" r="2.3"/>
<circle cx="95.5" cy="981.7" r="2.3"/>
<circle cx="125.6" cy="988.3" r="2.3"/>
<circle cx="146.1" cy="978.0" r="2.3"/>
<circle cx="138.5" cy="969.5" r="2.3"/>
<circle cx="135.0" cy="972.6" r="2.3"/>
<circle cx="140.4" cy="982.9" r="2.3"/>
<circle cx="137.6" cy="975.7" r="2.3"/>
<circle cx="111.3" cy="973.7" r="2.3"/>
<circle cx="112.5" cy="980.7" r="2.3"/>
<circle cx="136.8" cy="974.1" r="2.3"/>
<circle cx="118.0" cy="988.9" r="2.3"/>
<circle cx="122.1" cy="987.3" r="2.3"/>
<circle cx="144.7" cy="989.0" r="2.3"/>
<circle cx="141.4" cy="975.9" r="2.3"/>
<circle cx="143.9" cy="984.5" r="2.3"/>
<circle cx="138.1" cy="983.3" r="2.3"/>
<circle cx="102.0" cy="983.6" r="2.3"/>
<circle cx="140.0" cy="967.8" r="2.3"/>
<circle cx="136.4" cy="972.6" r="2.3"/>
<circle cx="147.5" cy="970.7" r="2.3"/>
<circle cx="137.3" cy="984.9" r="2.3"/>
<circle cx="131.9" cy="973.5" r="2.3"/>
<circle cx="147.9" cy="969.1" r="2.3"/>
<circle cx="100.6" cy="971.9" r="2.3"/>
<circle cx="148.7" cy="984.3" r="2.3"/>
<circle cx="144.4" cy="966.8" r="2.3"/>
<circle cx="139.1" cy="991.2" r="2.3"/>
<circle cx="104.0" cy="964.4" r="2.3"/>
<circle cx="143.8" cy="987.0" r="2.3"/>
<circle cx="144.0" cy="978.8" r="2.3"/>
<circle cx="149.3" cy="977.3" r="2.3"/>
<circle cx="123.4" cy="980.8" r="2.3"/>
<circle cx="142.2" cy="968.9" r="2.3"/>
<circle cx="134.2" cy="981.6" r="2.3"/>
<circle cx="92.4" cy="971.4" r="2.3"/>
<circle cx="111.2" cy="982.9" r="2.3"/>
<circle cx="97.9" cy="976.4" r="2.3"/>
<circle cx="102.1" cy="979.2" r="2.3"/>
<circle cx="118.2" cy="965.4" r="2.3"/>
<circle cx="107.6" cy="973.5" r="2.3"/>
<circle cx="110.5" cy="966.4" r="2.3"/>
<circle cx="150.3" cy="993.9" r="2.3"/>
<circle cx="133.1" cy="964.4" r="2.3"/>
<circle cx="139.5" cy="973.9" r="2.3"/>
<circle cx="124.5" cy="963.7" r="2.3"/>
<circle cx="131.2" cy="976.7" r="2.3"/>
<circle cx="136.9" cy="971.2" r="2.3"/>
<circle cx="114.2" cy="983.2" r="2.3"/>
<circle cx="117.2" cy="983.2" r="2.3"/>
<circle cx="104.3" cy="977.6" r="2.3"/>
<circle cx="93.2" cy="977.4" r="2.3"/>
<circle cx="120.6" cy="965.5" r="2.3"/>
<circle cx="146.5" cy="969.8" r="2.3"/>
<circle cx="119.5" cy="979.8" r="2.3"/>
<circle cx="97.5" cy="980.3" r="2.3"/>
<circle cx="133.7" cy="971.2" r="2.3"/>
<circle cx="103.6" cy="984.3" r="2.3"/>
<circle cx="105.9" cy="969.0" r="2.3"/>
<circle cx="150.2" cy="981.9" r="2.3"/>
<circle cx="104.2" cy="980.9" r="2.3"/>
<circle cx="149.9" cy="972.6" r="2.3"/>
<circle cx="128.9" cy="978.7" r="2.3"/>
<circle cx="100.5" cy="967.1" r="2.3"/>
<circle cx="139.3" cy="983.1" r="2.3"/>
<circle cx="106.4" cy="975.7" r="2.3"/>
<circle cx="142.8" cy="990.3" r="2.3"/>
<circle cx="110.1" cy="965.5" r="2.3"/>
<circle cx="125.7" cy="984.7" r="2.3"/>
<circle cx="144.6" cy="974.4" r="2.3"/>
<circle cx="108.2" cy="987.2" r="2.3"/>
<circle cx="94.2" cy="974.4" r="2.3"/>
<circle cx="95.1" cy="980.1" r="2.3"/>
<circle cx="147.8" cy="973.1" r="2.3"/>
<circle cx="112.3" cy="974.6" r="2.3"/>
<circle cx="124.3" cy="987.3" r="2.3"/>
<circle cx="94.9" cy="972.3" r="2.3"/>
<circle cx="105.8" cy="964.6" r="2.3"/>
<circle cx="118.8" cy="984.2" r="2.3"/>
<circle cx="150.6" cy="970.7" r="2.3"/>
<circle cx="131.0" cy="982.7" r="2.3"/>
<circle cx="135.7" cy="991.1" r="2.3"/>
<circle cx="140.7" cy="984.3" r="2.3"/>
<circle cx="145.9" cy="981.7" r="2.3"/>
<circle cx="133.0" cy="968.0" r="2.3"/>
<circle cx="103.1" cy="980.2" r="2.3"/>
<circle cx="131.2" cy="966.6" r="2.3"/>
<circle cx="111.8" cy="967.8" r="2.3"/>
<circle cx="121.2" cy="982.2" r="2.3"/>
<circle cx="109.9" cy="967.6" r="2.3"/>
<circle cx="150.0" cy="986.3" r="2.3"/>
<circle cx="126.3" cy="965.6" r="2.3"/>
<circle cx="144.4" cy="981.4" r="2.3"/>
<circle cx="147.7" cy="994.4" r="2.3"/>
<circle cx="150.4" cy="989.8" r="2.3"/>
<circle cx="116.4" cy="971.5" r="2.3"/>
<circle cx="93.6" cy="968.2" r="2.3"/>
<circle cx="103.2" cy="981.0" r="2.3"/>
<circle cx="104.7" cy="974.6" r="2.3"/>
<circle cx="119.8" cy="979.7" r="2.3"/>
<circle cx="101.4" cy="971.8" r="2.3"/>
<circle cx="122.8" cy="980.4" r="2.3"/>
<circle cx="110.4" cy="977.1" r="2.3"/>
<circle cx="113.3" cy="983.9" r="2.3"/>
<circle cx="96.9" cy="975.8" r="2.3"/>
<circle cx="98.9" cy="974.2" r="2.3"/>
<circle cx="94.7" cy="973.6" r="2.3"/>
<circle cx="94.7" cy="979.4" r="2.3"/>
<circle cx="111.2" cy="984.0" r="2.3"/>
<circle cx="116.8" cy="974.9" r="2.3"/>
<circle cx="108.6" cy="980.4" r="2.3"/>
<circle cx="106.4" cy="970.3" r="2.3"/>
<circle cx="104.2" cy="978.7" r="2.3"/>
<circle cx="98.1" cy="978.1" r="2.3"/>
<circle cx="106.2" cy="972.9" r="2.3"/>
<circle cx="101.3" cy="968.5" r="2.3"/>
<circle cx="115.2" cy="984.4" r="2.3"/>
<circle cx="102.4" cy="979.0" r="2.3"/>
<circle cx="100.0" cy="969.9" r="2.3"/>
<circle cx="114.1" cy="985.3" r="2.3"/>
<circle cx="97.6" cy="980.8" r="2.3"/>
<circle cx="112.9" cy="971.3" r="2.3"/>
<circle cx="123.9" cy="985.4" r="2.3"/>
<circle cx="93.8" cy="975.9" r="2.3"/>
<circle cx="98.9" cy="969.4" r="2.3"/>
<circle cx="103.7" cy="969.6" r="2.3"/>
<circle cx="122.1" cy="985.1" r="2.3"/>
<circle cx="115.2" cy="976.9" r="2.3"/>
<circle cx="121.7" cy="983.1" r="2.3"/>
<circle cx="108.0" cy="976.7" r="2.3"/>
<circle cx="105.7" cy="975.3" r="2.3"/>
<circle cx="111.9" cy="974.9" r="2.3"/>
<circle cx="100.1" cy="973.0" r="2.3"/>
<circle cx="106.0" cy="978.6" r="2.3"/>
<circle cx="117.8" cy="974.9" r="2.3"/>
<circle cx="120.6" cy="975.0" r="2.3"/>
<circle cx="109.5" cy="972.2" r="2.3"/>
<circle cx="95.9" cy="977.2" r="2.3"/>
<circle cx="105.1" cy="983.7" r="2.3"/>
<circle cx="108.2" cy="978.8" r="2.3"/>
<circle cx="93.4" cy="977.9" r="2.3"/>
<circle cx="97.5" cy="971.2" r="2.3"/>
<circle cx="111.5" cy="970.9" r="2.3"/>
<circle cx="110.7" cy="974.5" r="2.3"/>
<circle cx="107.9" cy="981.8" r="2.3"/>
<circle cx="110.0" cy="975.4" r="2.3"/>
<circle cx="111.2" cy="982.2" r="2.3"/>
<circle cx="100.8" cy="976.6" r="2.3"/>
<circle cx="119.1" cy="974.0" r="2.3"/>
<circle cx="104.1" cy="971.3" r="2.3"/>
<circle cx="97.0" cy="978.3" r="2.3"/>
<circle cx="115.4" cy="981.1" r="2.3"/>
<circle cx="113.5" cy="978.7" r="2.3"/>
<circle cx="117.5" cy="973.5" r="2.3"/>
<circle cx="101.2" cy="973.5" r="2.3"/>
<circle cx="133.6" cy="987.9" r="2.3"/>
<circle cx="135.1" cy="984.6" r="2.3"/>
<circle cx="144.2" cy="984.3" r="2.3"/>
<circle cx="134.5" cy="980.1" r="2.3"/>
<circle cx="147.9" cy="990.2" r="2.3"/>
<circle cx="150.0" cy="986.8" r="2.3"/>
<circle cx="125.7" cy="978.0" r="2.3"/>
<circle cx="135.4" cy="987.7" r="2.3"/>
<circle cx="131.7" cy="982.4" r="2.3"/>
<circle cx="132.4" cy="981.8" r="2.3"/>
<circle cx="124.4" cy="985.8" r="2.3"/>
<circle cx="139.4" cy="979.9" r="2.3"/>
<circle cx="136.0" cy="980.8" r="2.3"/>
<circle cx="127.0" cy="984.8" r="2.3"/>
<circle cx="139.0" cy="986.6" r="2.3"/>
<circle cx="131.2" cy="988.2" r="2.3"/>
<circle cx="144.8" cy="988.8" r="2.3"/>
<circle cx="128.9" cy="982.3" r="2.3"/>
<circle cx="132.6" cy="979.6" r="2.3"/>
<circle cx="148.9" cy="992.0" r="2.3"/>
<circle cx="142.6" cy="981.2" r="2.3"/>
<circle cx="129.5" cy="984.8" r="2.3"/>
<circle cx="124.1" cy="983.1" r="2.3"/>
<circle cx="141.9" cy="981.9" r="2.3"/>
<circle cx="146.0" cy="985.7" r="2.3"/>
<circle cx="180.7" cy="986.0" r="2.3"/>
<circle cx="196.2" cy="998.5" r="2.3"/>
<circle cx="157.3" cy="996.2" r="2.3"/>
<circle cx="218.8" cy="1005.0" r="2.3"/>
<circle cx="157.7" cy="984.9" r="2.3"/>
<circle cx="189.6" cy="1002.9" r="2.3"/>
<circle cx="169.2" cy="982.8" r="2.3"/>
<circle cx="190.2" cy="997.9" r="2.3"/>
<circle cx="222.2" cy="1006.2" r="2.3"/>
<circle cx="222.1" cy="1001.8" r="2.3"/>
<circle cx="196.4" cy="993.2" r="2.3"/>
<circle cx="234.7" cy="1007.0" r="2.3"/>
<circle cx="172.0" cy="990.8" r="2.3"/>
<circle cx="198.7" cy="1005.5" r="2.3"/>
<circle cx="235.3" cy="999.8" r="2.3"/>
<circle cx="166.2" cy="986.5" r="2.3"/>
<circle cx="151.4" cy="994.2" r="2.3"/>
<circle cx="170.9" cy="987.0" r="2.3"/>
<circle cx="228.5" cy="1000.5" r="2.3"/>
<circle cx="167.7" cy="991.1" r="2.3"/>
<circle cx="171.4" cy="998.2" r="2.3"/>
<circle cx="150.4" cy="988.6" r="2.3"/>
<circle cx="208.8" cy="1000.3" r="2.3"/>
<circle cx="164.1" cy="993.1" r="2.3"/>
<circle cx="217.3" cy="996.5" r="2.3"/>
<circle cx="214.7" cy="996.4" r="2.3"/>
<circle cx="182.5" cy="1002.9" r="2.3"/>
<circle cx="185.8" cy="991.7" r="2.3"/>
<circle cx="212.6" cy="1000.6" r="2.3"/>
<circle cx="206.2" cy="1000.2" r="2.3"/>
<circle cx="200.2" cy="995.7" r="2.3"/>
<circle cx="214.9" cy="1004.3" r="2.3"/>
<circle cx="191.7" cy="990.8" r="2.3"/>
<circle cx="234.0" cy="998.8" r="2.3"/>
<circle cx="174.8" cy="995.9" r="2.3"/>
<circle cx="185.7" cy="1000.9" r="2.3"/>
<circle cx="187.2" cy="989.1" r="2.3"/>
<circle cx="167.8" cy="985.2" r="2.3"/>
<circle cx="170.1" cy="999.2" r="2.3"/>
<circle cx="187.9" cy="994.6" r="2.3"/>
<circle cx="172.9" cy="994.0" r="2.3"/>
<circle cx="182.3" cy="998.7" r="2.3"/>
<circle cx="185.6" cy="988.7" r="2.3"/>
<circle cx="180.3" cy="997.2" r="2.3"/>
<circle cx="155.1" cy="981.0" r="2.3"/>
<circle cx="162.3" cy="997.7" r="2.3"/>
<circle cx="177.1" cy="1001.5" r="2.3"/>
<circle cx="162.3" cy="986.8" r="2.3"/>
<circle cx="152.7" cy="985.9" r="2.3"/>
<circle cx="152.8" cy="992.2" r="2.3"/>
<circle cx="217.0" cy="999.7" r="2.3"/>
<circle cx="208.0" cy="1006.0" r="2.3"/>
<circle cx="159.4" cy="981.4" r="2.3"/>
<circle cx="158.8" cy="994.1" r="2.3"/>
<circle cx="237.8" cy="1002.8" r="2.3"/>
<circle cx="222.4" cy="998.9" r="2.3"/>
<circle cx="153.2" cy="979.8" r="2.3"/>
<circle cx="203.2" cy="1002.6" r="2.3"/>
<circle cx="168.4" cy="984.0" r="2.3"/>
<circle cx="193.1" cy="994.6" r="2.3"/>
<circle cx="170.2" cy="988.1" r="2.3"/>
<circle cx="175.0" cy="988.2" r="2.3"/>
<circle cx="177.5" cy="996.5" r="2.3"/>
<circle cx="210.9" cy="997.8" r="2.3"/>
<circle cx="219.8" cy="996.7" r="2.3"/>
<circle cx="150.0" cy="982.2" r="2.3"/>
<circle cx="171.9" cy="984.8" r="2.3"/>
<circle cx="186.3" cy="995.6" r="2.3"/>
<circle cx="153.8" cy="995.6" r="2.3"/>
<circle cx="150.0" cy="986.4" r="2.3"/>
<circle cx="154.3" cy="984.4" r="2.3"/>
<circle cx="214.0" cy="1000.1" r="2.3"/>
<circle cx="168.7" cy="996.9" r="2.3"/>
<circle cx="204.4" cy="1000.4" r="2.3"/>
<circle cx="161.8" cy="992.0" r="2.3"/>
<circle cx="150.4" cy="990.1" r="2.3"/>
<circle cx="227.9" cy="1005.7" r="2.3"/>
<circle cx="225.9" cy="997.7" r="2.3"/>
<circle cx="169.4" cy="990.5" r="2.3"/>
<circle cx="182.6" cy="987.2" r="2.3"/>
<circle cx="224.7" cy="1005.5" r="2.3"/>
<circle cx="185.8" cy="997.8" r="2.3"/>
<circle cx="200.6" cy="999.1" r="2.3"/>
<circle cx="231.6" cy="1001.0" r="2.3"/>
<circle cx="182.0" cy="991.5" r="2.3"/>
<circle cx="178.0" cy="999.0" r="2.3"/>
<circle cx="151.7" cy="990.0" r="2.3"/>
<circle cx="206.1" cy="1003.9" r="2.3"/>
<circle cx="184.7" cy="991.4" r="2.3"/>
<circle cx="169.3" cy="983.8" r="2.3"/>
<circle cx="180.0" cy="991.5" r="2.3"/>
<circle cx="225.3" cy="1001.2" r="2.3"/>
<circle cx="220.1" cy="1006.0" r="2.3"/>
<circle cx="211.5" cy="1003.9" r="2.3"/>
<circle cx="154.6" cy="988.0" r="2.3"/>
<circle cx="161.0" cy="986.7" r="2.3"/>
<circle cx="217.6" cy="1001.6" r="2.3"/>
<circle cx="182.4" cy="998.2" r="2.3"/>
<circle cx="238.0" cy="999.5" r="2.3"/>
<circle cx="174.7" cy="999.1" r="2.3"/>
<circle cx="203.8" cy="995.5" r="2.3"/>
<circle cx="170.8" cy="988.5" r="2.3"/>
<circle cx="197.3" cy="997.3" r="2.3"/>
<circle cx="175.4" cy="986.8" r="2.3"/>
<circle cx="224.1" cy="999.4" r="2.3"/>
<circle cx="186.4" cy="989.4" r="2.3"/>
<circle cx="217.1" cy="1004.1" r="2.3"/>
<circle cx="162.9" cy="995.6" r="2.3"/>
<circle cx="178.2" cy="990.8" r="2.3"/>
<circle cx="208.0" cy="1001.9" r="2.3"/>
<circle cx="161.2" cy="994.6" r="2.3"/>
<circle cx="213.4" cy="1007.9" r="2.3"/>
<circle cx="229.8" cy="996.4" r="2.3"/>
<circle cx="232.1" cy="1001.8" r="2.3"/>
<circle cx="159.6" cy="990.7" r="2.3"/>
<circle cx="229.7" cy="1004.4" r="2.3"/>
<circle cx="178.4" cy="987.8" r="2.3"/>
<circle cx="197.4" cy="1002.7" r="2.3"/>
<circle cx="221.3" cy="1007.7" r="2.3"/>
<circle cx="226.8" cy="1007.2" r="2.3"/>
<circle cx="180.5" cy="989.1" r="2.3"/>
<circle cx="239.2" cy="1006.0" r="2.3"/>
<circle cx="183.6" cy="1001.3" r="2.3"/>
<circle cx="176.4" cy="994.4" r="2.3"/>
<circle cx="176.6" cy="984.5" r="2.3"/>
<circle cx="194.5" cy="998.8" r="2.3"/>
<circle cx="159.5" cy="989.1" r="2.3"/>
<circle cx="189.4" cy="992.8" r="2.3"/>
<circle cx="193.3" cy="1002.8" r="2.3"/>
<circle cx="218.5" cy="1000.8" r="2.3"/>
<circle cx="160.0" cy="986.1" r="2.3"/>
<circle cx="191.2" cy="998.3" r="2.3"/>
<circle cx="167.4" cy="992.5" r="2.3"/>
<circle cx="211.6" cy="998.2" r="2.3"/>
<circle cx="211.8" cy="1001.5" r="2.3"/>
<circle cx="175.7" cy="991.8" r="2.3"/>
<circle cx="209.1" cy="1003.0" r="2.3"/>
<circle cx="153.9" cy="980.5" r="2.3"/>
<circle cx="191.8" cy="1004.2" r="2.3"/>
<circle cx="162.6" cy="989.7" r="2.3"/>
<circle cx="171.2" cy="993.7" r="2.3"/>
<circle cx="167.9" cy="989.0" r="2.3"/>
<circle cx="159.1" cy="993.4" r="2.3"/>
<circle cx="205.7" cy="1000.4" r="2.3"/>
<circle cx="206.4" cy="1002.0" r="2.3"/>
<circle cx="229.1" cy="997.8" r="2.3"/>
<circle cx="225.9" cy="1007.9" r="2.3"/>
<circle cx="230.1" cy="1007.1" r="2.3"/>
<circle cx="228.0" cy="1003.2" r="2.3"/>
<circle cx="223.3" cy="1007.5" r="2.3"/>
<circle cx="162.4" cy="964.7" r="2.3"/>
<circle cx="166.4" cy="963.2" r="2.3"/>
<circle cx="165.3" cy="966.2" r="2.3"/>
<circle cx="171.9" cy="966.9" r="2.3"/>
<circle cx="172.6" cy="969.1" r="2.3"/>
<circle cx="178.5" cy="965.4" r="2.3"/>
<circle cx="177.7" cy="968.4" r="2.3"/>
<circle cx="179.9" cy="972.0" r="2.3"/>
<circle cx="176.3" cy="972.0" r="2.3"/>
<circle cx="171.6" cy="975.7" r="2.3"/>
<circle cx="162.8" cy="972.7" r="2.3"/>
<circle cx="153.2" cy="972.0" r="2.3"/>
<circle cx="156.6" cy="976.1" r="2.3"/>
<circle cx="186.1" cy="960.3" r="2.3"/>
<circle cx="188.7" cy="966.9" r="2.3"/>
<circle cx="186.5" cy="968.4" r="2.3"/>
<circle cx="196.7" cy="966.9" r="2.3"/>
<circle cx="193.8" cy="971.0" r="2.3"/>
<circle cx="197.4" cy="972.4" r="2.3"/>
<circle cx="205.8" cy="968.6" r="2.3"/>
<circle cx="210.6" cy="968.1" r="2.3"/>
<circle cx="184.3" cy="978.9" r="2.3"/>
<circle cx="191.6" cy="980.8" r="2.3"/>
<circle cx="195.3" cy="980.0" r="2.3"/>
<circle cx="198.2" cy="982.2" r="2.3"/>
<circle cx="198.9" cy="984.4" r="2.3"/>
<circle cx="206.2" cy="985.6" r="2.3"/>
<circle cx="209.1" cy="989.5" r="2.3"/>
<circle cx="189.4" cy="984.4" r="2.3"/>
<circle cx="193.8" cy="985.9" r="2.3"/>
<circle cx="217.2" cy="989.5" r="2.3"/>
<circle cx="216.9" cy="992.9" r="2.3"/>
<circle cx="224.9" cy="992.4" r="2.3"/>
<circle cx="231.0" cy="992.0" r="2.3"/>
<circle cx="234.7" cy="988.5" r="2.3"/>
<circle cx="248.1" cy="957.1" r="2.3"/>
<circle cx="248.1" cy="991.4" r="2.3"/>
<circle cx="249.3" cy="995.4" r="2.3"/>
<circle cx="167.5" cy="977.8" r="2.3"/>
<circle cx="174.8" cy="979.3" r="2.3"/>
<circle cx="181.4" cy="981.5" r="2.3"/>
<circle cx="186.5" cy="987.3" r="2.3"/>
<circle cx="202.6" cy="990.3" r="2.3"/>
<circle cx="241.7" cy="963.2" r="2.3"/>
<circle cx="255.1" cy="975.4" r="2.3"/>
<circle cx="273.2" cy="976.7" r="2.3"/>
<circle cx="247.6" cy="957.3" r="2.3"/>
<circle cx="268.7" cy="958.5" r="2.3"/>
<circle cx="268.2" cy="959.3" r="2.3"/>
<circle cx="294.3" cy="959.0" r="2.3"/>
<circle cx="314.9" cy="953.1" r="2.3"/>
<circle cx="206.2" cy="968.5" r="2.3"/>
<circle cx="210.7" cy="968.5" r="2.3"/>
<circle cx="370.0" cy="948.6" r="2.3"/>
<circle cx="247.9" cy="990.8" r="2.3"/>
<circle cx="250.9" cy="994.5" r="2.3"/>
<circle cx="254.1" cy="1000.0" r="2.3"/>
<circle cx="256.6" cy="1002.5" r="2.3"/>
<circle cx="247.1" cy="1000.2" r="2.3"/>
<circle cx="266.5" cy="1008.2" r="2.3"/>
<circle cx="270.2" cy="1009.4" r="2.3"/>
<circle cx="274.4" cy="1008.2" r="2.3"/>
<circle cx="271.5" cy="1000.7" r="2.3"/>
<circle cx="278.2" cy="998.2" r="2.3"/>
<circle cx="281.9" cy="997.5" r="2.3"/>
<circle cx="286.1" cy="999.0" r="2.3"/>
<circle cx="306.2" cy="1016.1" r="2.3"/>
<circle cx="320.3" cy="1015.6" r="2.3"/>
<circle cx="310.4" cy="1004.4" r="2.3"/>
<circle cx="301.0" cy="997.0" r="2.3"/>
<circle cx="317.4" cy="995.0" r="2.3"/>
<circle cx="301.2" cy="987.8" r="2.3"/>
<circle cx="332.0" cy="978.4" r="2.3"/>
<circle cx="346.4" cy="982.9" r="2.3"/>
<circle cx="346.9" cy="981.4" r="2.3"/>
<circle cx="287.3" cy="1016.1" r="2.3"/>
<circle cx="289.8" cy="1016.6" r="2.3"/>
<circle cx="293.1" cy="1015.6" r="2.3"/>
<circle cx="295.5" cy="1016.6" r="2.3"/>
<circle cx="298.0" cy="1015.4" r="2.3"/>
<circle cx="299.3" cy="1017.3" r="2.3"/>
<circle cx="249.1" cy="1008.9" r="2.3"/>
<circle cx="250.9" cy="1009.4" r="2.3"/>
<circle cx="252.6" cy="1008.9" r="2.3"/>
<circle cx="251.6" cy="1009.9" r="2.3"/>
<circle cx="253.3" cy="1009.7" r="2.3"/>
<circle cx="241.7" cy="963.0" r="2.3"/>
<circle cx="320.8" cy="950.6" r="2.3"/>
<circle cx="376.9" cy="939.4" r="2.3"/>
<circle cx="391.8" cy="936.9" r="2.3"/>
<circle cx="371.5" cy="948.5" r="2.3"/>
<circle cx="383.6" cy="986.5" r="2.3"/>
<circle cx="417.9" cy="1048.3" r="2.3"/>
</g>
<g fill="#0a0aff">
<circle cx="64.0" cy="909.6" r="1.05"/>
<circle cx="61.7" cy="914.4" r="1.05"/>
<circle cx="59.7" cy="921.2" r="1.05"/>
<circle cx="61.3" cy="921.5" r="1.05"/>
<circle cx="64.1" cy="933.5" r="1.05"/>
<circle cx="66.6" cy="940.0" r="1.05"/>
<circle cx="64.6" cy="942.5" r="1.05"/>
<circle cx="59.8" cy="944.4" r="1.05"/>
<circle cx="61.5" cy="948.0" r="1.05"/>
<circle cx="64.6" cy="949.5" r="1.05"/>
<circle cx="63.7" cy="953.7" r="1.05"/>
<circle cx="69.0" cy="953.6" r="1.05"/>
<circle cx="73.4" cy="955.2" r="1.05"/>
<circle cx="79.6" cy="955.8" r="1.05"/>
<circle cx="62.6" cy="956.7" r="1.05"/>
<circle cx="60.9" cy="968.2" r="1.05"/>
<circle cx="66.7" cy="948.4" r="1.05"/>
<circle cx="66.4" cy="943.9" r="1.05"/>
<circle cx="66.2" cy="939.9" r="1.05"/>
<circle cx="62.6" cy="952.8" r="1.05"/>
<circle cx="66.0" cy="956.5" r="1.05"/>
<circle cx="65.2" cy="974.2" r="1.05"/>
<circle cx="68.0" cy="958.4" r="1.05"/>
<circle cx="66.1" cy="946.9" r="1.05"/>
<circle cx="65.6" cy="969.7" r="1.05"/>
<circle cx="62.4" cy="963.6" r="1.05"/>
<circle cx="60.7" cy="947.5" r="1.05"/>
<circle cx="63.5" cy="968.6" r="1.05"/>
<circle cx="62.1" cy="971.0" r="1.05"/>
<circle cx="65.1" cy="965.6" r="1.05"/>
<circle cx="73.4" cy="969.6" r="1.05"/>
<circle cx="83.1" cy="978.8" r="1.05"/>
<circle cx="69.8" cy="958.9" r="1.05"/>
<circle cx="75.8" cy="973.2" r="1.05"/>
<circle cx="85.4" cy="976.1" r="1.05"/>
<circle cx="79.5" cy="975.6" r="1.05"/>
<circle cx="91.3" cy="963.1" r="1.05"/>
<circle cx="78.6" cy="956.7" r="1.05"/>
<circle cx="74.3" cy="974.1" r="1.05"/>
<circle cx="71.7" cy="951.4" r="1.05"/>
<circle cx="84.2" cy="964.1" r="1.05"/>
<circle cx="73.2" cy="951.0" r="1.05"/>
<circle cx="84.6" cy="959.3" r="1.05"/>
<circle cx="83.4" cy="964.2" r="1.05"/>
<circle cx="76.7" cy="968.8" r="1.05"/>
<circle cx="122.9" cy="970.4" r="1.05"/>
<circle cx="147.7" cy="992.0" r="1.05"/>
<circle cx="92.6" cy="973.4" r="1.05"/>
<circle cx="102.9" cy="974.1" r="1.05"/>
<circle cx="116.4" cy="969.0" r="1.05"/>
<circle cx="104.9" cy="966.0" r="1.05"/>
<circle cx="107.2" cy="970.8" r="1.05"/>
<circle cx="136.6" cy="978.0" r="1.05"/>
<circle cx="130.4" cy="976.1" r="1.05"/>
<circle cx="101.7" cy="975.5" r="1.05"/>
<circle cx="142.2" cy="970.8" r="1.05"/>
<circle cx="140.0" cy="986.8" r="1.05"/>
<circle cx="133.0" cy="990.0" r="1.05"/>
<circle cx="140.0" cy="971.6" r="1.05"/>
<circle cx="118.1" cy="972.8" r="1.05"/>
<circle cx="95.0" cy="967.2" r="1.05"/>
<circle cx="130.3" cy="974.2" r="1.05"/>
<circle cx="111.2" cy="971.1" r="1.05"/>
<circle cx="151.7" cy="988.9" r="1.05"/>
<circle cx="148.6" cy="979.3" r="1.05"/>
<circle cx="120.9" cy="975.6" r="1.05"/>
<circle cx="112.5" cy="969.1" r="1.05"/>
<circle cx="137.0" cy="979.2" r="1.05"/>
<circle cx="100.1" cy="982.7" r="1.05"/>
<circle cx="148.5" cy="989.7" r="1.05"/>
<circle cx="107.1" cy="984.7" r="1.05"/>
<circle cx="96.1" cy="982.4" r="1.05"/>
<circle cx="125.3" cy="987.0" r="1.05"/>
<circle cx="146.1" cy="977.9" r="1.05"/>
<circle cx="135.3" cy="973.5" r="1.05"/>
<circle cx="139.2" cy="983.3" r="1.05"/>
<circle cx="137.7" cy="976.1" r="1.05"/>
<circle cx="111.6" cy="973.4" r="1.05"/>
<circle cx="119.4" cy="987.8" r="1.05"/>
<circle cx="141.4" cy="975.9" r="1.05"/>
<circle cx="102.2" cy="983.5" r="1.05"/>
<circle cx="137.1" cy="972.9" r="1.05"/>
<circle cx="148.0" cy="970.5" r="1.05"/>
<circle cx="144.7" cy="966.4" r="1.05"/>
<circle cx="122.9" cy="979.5" r="1.05"/>
<circle cx="134.9" cy="982.0" r="1.05"/>
<circle cx="91.9" cy="970.8" r="1.05"/>
<circle cx="151.1" cy="994.0" r="1.05"/>
<circle cx="133.5" cy="963.6" r="1.05"/>
<circle cx="138.9" cy="974.1" r="1.05"/>
<circle cx="124.8" cy="963.2" r="1.05"/>
<circle cx="137.8" cy="970.9" r="1.05"/>
<circle cx="114.4" cy="983.0" r="1.05"/>
<circle cx="117.3" cy="982.5" r="1.05"/>
<circle cx="92.8" cy="977.2" r="1.05"/>
<circle cx="96.8" cy="980.5" r="1.05"/>
<circle cx="106.3" cy="975.8" r="1.05"/>
<circle cx="126.2" cy="985.0" r="1.05"/>
<circle cx="94.3" cy="974.5" r="1.05"/>
<circle cx="147.8" cy="973.6" r="1.05"/>
<circle cx="112.3" cy="975.3" r="1.05"/>
<circle cx="95.4" cy="972.4" r="1.05"/>
<circle cx="150.7" cy="971.1" r="1.05"/>
<circle cx="146.3" cy="981.9" r="1.05"/>
<circle cx="131.3" cy="965.7" r="1.05"/>
<circle cx="112.5" cy="968.6" r="1.05"/>
<circle cx="109.4" cy="968.2" r="1.05"/>
<circle cx="149.9" cy="985.9" r="1.05"/>
<circle cx="151.7" cy="989.5" r="1.05"/>
<circle cx="93.6" cy="967.5" r="1.05"/>
<circle cx="119.9" cy="979.0" r="1.05"/>
<circle cx="117.5" cy="974.9" r="1.05"/>
<circle cx="105.9" cy="973.7" r="1.05"/>
<circle cx="97.6" cy="981.2" r="1.05"/>
<circle cx="93.3" cy="975.1" r="1.05"/>
<circle cx="99.0" cy="968.9" r="1.05"/>
<circle cx="92.3" cy="976.9" r="1.05"/>
<circle cx="96.9" cy="970.5" r="1.05"/>
<circle cx="134.0" cy="988.7" r="1.05"/>
<circle cx="131.3" cy="982.2" r="1.05"/>
<circle cx="136.0" cy="980.7" r="1.05"/>
<circle cx="132.6" cy="979.9" r="1.05"/>
<circle cx="149.0" cy="991.1" r="1.05"/>
<circle cx="141.6" cy="981.7" r="1.05"/>
<circle cx="180.3" cy="987.0" r="1.05"/>
<circle cx="195.4" cy="997.8" r="1.05"/>
<circle cx="189.3" cy="1003.0" r="1.05"/>
<circle cx="169.3" cy="983.3" r="1.05"/>
<circle cx="195.9" cy="992.8" r="1.05"/>
<circle cx="234.9" cy="999.3" r="1.05"/>
<circle cx="228.5" cy="1000.8" r="1.05"/>
<circle cx="170.6" cy="998.5" r="1.05"/>
<circle cx="208.2" cy="1000.0" r="1.05"/>
<circle cx="216.5" cy="995.7" r="1.05"/>
<circle cx="215.0" cy="996.5" r="1.05"/>
<circle cx="212.8" cy="1001.2" r="1.05"/>
<circle cx="206.5" cy="1000.7" r="1.05"/>
<circle cx="199.6" cy="995.8" r="1.05"/>
<circle cx="215.4" cy="1004.0" r="1.05"/>
<circle cx="234.0" cy="998.5" r="1.05"/>
<circle cx="170.0" cy="999.0" r="1.05"/>
<circle cx="185.4" cy="988.2" r="1.05"/>
<circle cx="154.8" cy="981.2" r="1.05"/>
<circle cx="162.0" cy="997.6" r="1.05"/>
<circle cx="177.4" cy="1001.2" r="1.05"/>
<circle cx="162.8" cy="987.1" r="1.05"/>
<circle cx="152.3" cy="991.9" r="1.05"/>
<circle cx="217.7" cy="999.0" r="1.05"/>
<circle cx="158.8" cy="993.8" r="1.05"/>
<circle cx="168.7" cy="984.0" r="1.05"/>
<circle cx="193.0" cy="995.1" r="1.05"/>
<circle cx="175.4" cy="988.5" r="1.05"/>
<circle cx="211.2" cy="998.2" r="1.05"/>
<circle cx="213.4" cy="1000.2" r="1.05"/>
<circle cx="167.8" cy="997.2" r="1.05"/>
<circle cx="203.4" cy="1001.2" r="1.05"/>
<circle cx="228.0" cy="1005.7" r="1.05"/>
<circle cx="169.7" cy="990.7" r="1.05"/>
<circle cx="182.6" cy="987.5" r="1.05"/>
<circle cx="185.9" cy="997.7" r="1.05"/>
<circle cx="181.8" cy="991.1" r="1.05"/>
<circle cx="178.0" cy="1000.3" r="1.05"/>
<circle cx="206.7" cy="1004.7" r="1.05"/>
<circle cx="184.7" cy="991.7" r="1.05"/>
<circle cx="169.8" cy="982.8" r="1.05"/>
<circle cx="225.4" cy="1002.3" r="1.05"/>
<circle cx="220.2" cy="1006.2" r="1.05"/>
<circle cx="217.0" cy="1002.2" r="1.05"/>
<circle cx="183.1" cy="998.5" r="1.05"/>
<circle cx="197.8" cy="997.1" r="1.05"/>
<circle cx="176.7" cy="986.5" r="1.05"/>
<circle cx="186.0" cy="989.5" r="1.05"/>
<circle cx="217.1" cy="1004.2" r="1.05"/>
<circle cx="178.5" cy="991.2" r="1.05"/>
<circle cx="161.2" cy="995.1" r="1.05"/>
<circle cx="213.1" cy="1008.1" r="1.05"/>
<circle cx="231.3" cy="1002.3" r="1.05"/>
<circle cx="159.3" cy="990.4" r="1.05"/>
<circle cx="198.3" cy="1002.2" r="1.05"/>
<circle cx="239.2" cy="1006.2" r="1.05"/>
<circle cx="183.9" cy="1000.9" r="1.05"/>
<circle cx="194.7" cy="999.1" r="1.05"/>
<circle cx="192.7" cy="1002.8" r="1.05"/>
<circle cx="191.8" cy="998.1" r="1.05"/>
<circle cx="210.6" cy="998.1" r="1.05"/>
<circle cx="176.1" cy="992.9" r="1.05"/>
<circle cx="162.8" cy="990.0" r="1.05"/>
<circle cx="171.4" cy="993.3" r="1.05"/>
<circle cx="205.1" cy="1000.2" r="1.05"/>
<circle cx="227.8" cy="1002.8" r="1.05"/>
<circle cx="171.8" cy="966.8" r="1.05"/>
<circle cx="177.5" cy="968.5" r="1.05"/>
<circle cx="171.7" cy="975.4" r="1.05"/>
<circle cx="189.3" cy="966.7" r="1.05"/>
<circle cx="197.6" cy="972.5" r="1.05"/>
<circle cx="205.5" cy="968.4" r="1.05"/>
<circle cx="184.2" cy="979.2" r="1.05"/>
<circle cx="206.1" cy="985.4" r="1.05"/>
<circle cx="234.9" cy="988.4" r="1.05"/>
<circle cx="174.6" cy="979.0" r="1.05"/>
<circle cx="202.7" cy="990.6" r="1.05"/>
<circle cx="273.3" cy="976.6" r="1.05"/>
<circle cx="247.4" cy="957.2" r="1.05"/>
<circle cx="294.7" cy="958.8" r="1.05"/>
<circle cx="314.5" cy="953.2" r="1.05"/>
<circle cx="206.6" cy="968.3" r="1.05"/>
<circle cx="248.2" cy="991.0" r="1.05"/>
<circle cx="250.9" cy="994.4" r="1.05"/>
<circle cx="254.0" cy="999.8" r="1.05"/>
<circle cx="269.9" cy="1009.5" r="1.05"/>
<circle cx="274.3" cy="1007.7" r="1.05"/>
<circle cx="282.3" cy="997.2" r="1.05"/>
<circle cx="286.2" cy="999.1" r="1.05"/>
<circle cx="306.1" cy="1016.2" r="1.05"/>
<circle cx="317.3" cy="994.9" r="1.05"/>
<circle cx="331.7" cy="978.2" r="1.05"/>
<circle cx="290.0" cy="1017.0" r="1.05"/>
<circle cx="293.2" cy="1015.5" r="1.05"/>
<circle cx="298.0" cy="1015.3" r="1.05"/>
<circle cx="251.0" cy="1009.4" r="1.05"/>
<circle cx="252.6" cy="1009.2" r="1.05"/>
<circle cx="241.7" cy="965.2" r="1.05"/>
<circle cx="320.8" cy="953.2" r="1.05"/>
<circle cx="418.3" cy="973.3" r="1.05"/>
</g>
<g fill="none" stroke="#e8141c" stroke-width="1.0">
<circle cx="98.0" cy="981.2" r="2.3"/>
<circle cx="122.4" cy="979.9" r="2.3"/>
<circle cx="109.6" cy="980.1" r="2.3"/>
<circle cx="99.9" cy="970.6" r="2.3"/>
<circle cx="117.7" cy="972.4" r="2.3"/>
<circle cx="118.3" cy="984.9" r="2.3"/>
<circle cx="116.2" cy="980.8" r="2.3"/>
<circle cx="99.8" cy="978.6" r="2.3"/>
<circle cx="116.1" cy="982.6" r="2.3"/>
<circle cx="110.4" cy="975.9" r="2.3"/>
<circle cx="110.8" cy="969.5" r="2.3"/>
<circle cx="119.1" cy="978.3" r="2.3"/>
<circle cx="114.1" cy="974.6" r="2.3"/>
<circle cx="102.3" cy="973.4" r="2.3"/>
<circle cx="93.6" cy="976.5" r="2.3"/>
<circle cx="107.4" cy="984.7" r="2.3"/>
<circle cx="104.6" cy="982.7" r="2.3"/>
<circle cx="108.9" cy="971.4" r="2.3"/>
<circle cx="119.7" cy="982.0" r="2.3"/>
<circle cx="94.2" cy="968.4" r="2.3"/>
<circle cx="114.8" cy="979.0" r="2.3"/>
<circle cx="105.6" cy="978.8" r="2.3"/>
<circle cx="105.0" cy="969.7" r="2.3"/>
<circle cx="115.6" cy="984.9" r="2.3"/>
<circle cx="119.8" cy="973.5" r="2.3"/>
<circle cx="103.9" cy="976.3" r="2.3"/>
<circle cx="95.2" cy="978.5" r="2.3"/>
<circle cx="102.9" cy="974.8" r="2.3"/>
<circle cx="92.4" cy="969.8" r="2.3"/>
<circle cx="110.3" cy="985.1" r="2.3"/>
<circle cx="118.5" cy="975.0" r="2.3"/>
<circle cx="120.8" cy="974.7" r="2.3"/>
<circle cx="94.4" cy="973.0" r="2.3"/>
<circle cx="94.4" cy="978.0" r="2.3"/>
<circle cx="99.5" cy="975.3" r="2.3"/>
<circle cx="144.8" cy="982.1" r="2.3"/>
<circle cx="131.2" cy="987.3" r="2.3"/>
<circle cx="124.1" cy="979.7" r="2.3"/>
<circle cx="146.2" cy="988.7" r="2.3"/>
<circle cx="137.2" cy="980.4" r="2.3"/>
<circle cx="148.3" cy="990.5" r="2.3"/>
<circle cx="140.6" cy="989.2" r="2.3"/>
<circle cx="142.5" cy="986.7" r="2.3"/>
<circle cx="148.7" cy="984.4" r="2.3"/>
<circle cx="148.1" cy="989.1" r="2.3"/>
</g>
<g font-family="'Liberation Serif', serif" font-size="18.05" fill="#111">
<text x="115.9" y="363.5">(d)</text><text x="147.4" y="363.5">ANFIS targets and outputs nodes correlation (inputs 1 and 5).</text>
<text x="115.9" y="771.1">(e)</text><text x="146.3" y="771.1" font-size="18.11">ANFIS targets and outputs nodes correlation (inputs 2 and 3).</text>
<text x="108.3" y="1182" font-size="19.7">(f)</text><text x="139.8" y="1182" font-size="19.71">ANFIS targets and outputs nodes correlation (inputs 2 and 4).</text>
</g>
</svg>
</body></html>
